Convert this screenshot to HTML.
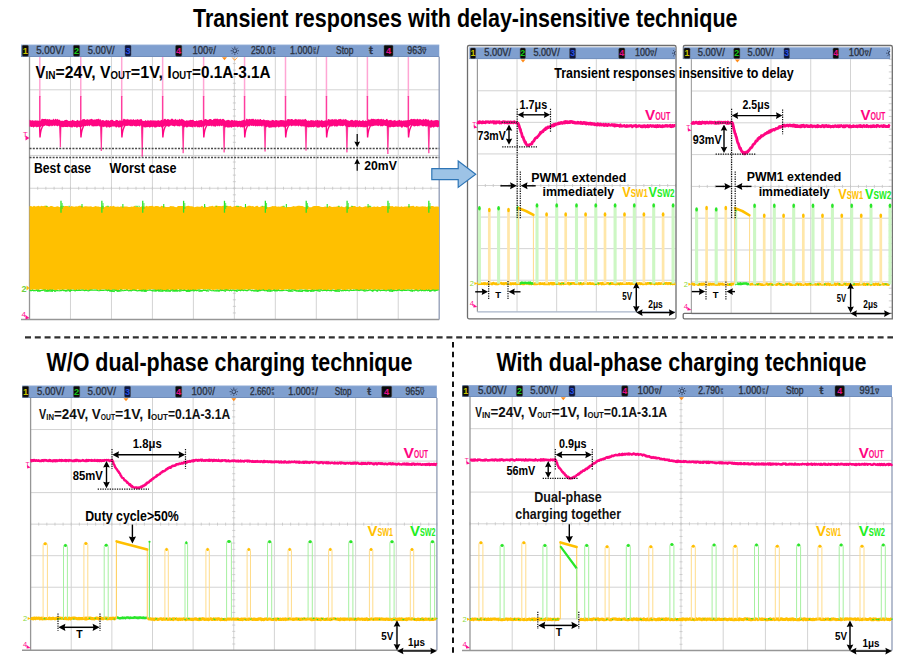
<!DOCTYPE html>
<html><head><meta charset="utf-8"><title>Transient responses</title>
<style>html,body{margin:0;padding:0;background:#fff;}svg{display:block;}</style>
</head><body>
<svg width="917" height="666" viewBox="0 0 917 666" font-family="'Liberation Sans', Arial, sans-serif">
<rect width="917" height="666" fill="#fff"/>
<text x="193" y="26.9" font-size="25.5" font-weight="bold" fill="#000" textLength="544.5" lengthAdjust="spacingAndGlyphs" >Transient responses with delay-insensitive technique</text>
<text x="46.5" y="370.8" font-size="25.5" font-weight="bold" fill="#000" textLength="366" lengthAdjust="spacingAndGlyphs" >W/O dual-phase charging technique</text>
<text x="496.5" y="370.8" font-size="25.5" font-weight="bold" fill="#000" textLength="370" lengthAdjust="spacingAndGlyphs" >With dual-phase charging technique</text>
<line x1="25" y1="337.3" x2="893" y2="337.3" stroke="#303030" stroke-width="2.2" stroke-dasharray="6 3.8"/>
<line x1="453" y1="342" x2="453" y2="653.2" stroke="#111" stroke-width="2" stroke-dasharray="5.5 4.35"/>
<line x1="70.47" y1="57" x2="70.47" y2="319.5" stroke="#d3d3d3" stroke-width="1" />
<line x1="111.44" y1="57" x2="111.44" y2="319.5" stroke="#d3d3d3" stroke-width="1" />
<line x1="152.41" y1="57" x2="152.41" y2="319.5" stroke="#d3d3d3" stroke-width="1" />
<line x1="193.38" y1="57" x2="193.38" y2="319.5" stroke="#d3d3d3" stroke-width="1" />
<line x1="234.35" y1="57" x2="234.35" y2="319.5" stroke="#d3d3d3" stroke-width="1" />
<line x1="275.32" y1="57" x2="275.32" y2="319.5" stroke="#d3d3d3" stroke-width="1" />
<line x1="316.29" y1="57" x2="316.29" y2="319.5" stroke="#d3d3d3" stroke-width="1" />
<line x1="357.26" y1="57" x2="357.26" y2="319.5" stroke="#d3d3d3" stroke-width="1" />
<line x1="398.23" y1="57" x2="398.23" y2="319.5" stroke="#d3d3d3" stroke-width="1" />
<line x1="29.5" y1="89.81" x2="439.2" y2="89.81" stroke="#d3d3d3" stroke-width="1" />
<line x1="29.5" y1="122.62" x2="439.2" y2="122.62" stroke="#d3d3d3" stroke-width="1" />
<line x1="29.5" y1="155.44" x2="439.2" y2="155.44" stroke="#d3d3d3" stroke-width="1" />
<line x1="29.5" y1="188.25" x2="439.2" y2="188.25" stroke="#d3d3d3" stroke-width="1" />
<line x1="29.5" y1="221.06" x2="439.2" y2="221.06" stroke="#d3d3d3" stroke-width="1" />
<line x1="29.5" y1="253.88" x2="439.2" y2="253.88" stroke="#d3d3d3" stroke-width="1" />
<line x1="29.5" y1="286.69" x2="439.2" y2="286.69" stroke="#d3d3d3" stroke-width="1" />
<line x1="232.85" y1="57" x2="235.85" y2="57" stroke="#c4c4c4" stroke-width="0.8" />
<line x1="232.85" y1="63.56" x2="235.85" y2="63.56" stroke="#c4c4c4" stroke-width="0.8" />
<line x1="232.85" y1="70.12" x2="235.85" y2="70.12" stroke="#c4c4c4" stroke-width="0.8" />
<line x1="232.85" y1="76.69" x2="235.85" y2="76.69" stroke="#c4c4c4" stroke-width="0.8" />
<line x1="232.85" y1="83.25" x2="235.85" y2="83.25" stroke="#c4c4c4" stroke-width="0.8" />
<line x1="232.85" y1="89.81" x2="235.85" y2="89.81" stroke="#c4c4c4" stroke-width="0.8" />
<line x1="232.85" y1="96.38" x2="235.85" y2="96.38" stroke="#c4c4c4" stroke-width="0.8" />
<line x1="232.85" y1="102.94" x2="235.85" y2="102.94" stroke="#c4c4c4" stroke-width="0.8" />
<line x1="232.85" y1="109.5" x2="235.85" y2="109.5" stroke="#c4c4c4" stroke-width="0.8" />
<line x1="232.85" y1="116.06" x2="235.85" y2="116.06" stroke="#c4c4c4" stroke-width="0.8" />
<line x1="232.85" y1="122.62" x2="235.85" y2="122.62" stroke="#c4c4c4" stroke-width="0.8" />
<line x1="232.85" y1="129.19" x2="235.85" y2="129.19" stroke="#c4c4c4" stroke-width="0.8" />
<line x1="232.85" y1="135.75" x2="235.85" y2="135.75" stroke="#c4c4c4" stroke-width="0.8" />
<line x1="232.85" y1="142.31" x2="235.85" y2="142.31" stroke="#c4c4c4" stroke-width="0.8" />
<line x1="232.85" y1="148.88" x2="235.85" y2="148.88" stroke="#c4c4c4" stroke-width="0.8" />
<line x1="232.85" y1="155.44" x2="235.85" y2="155.44" stroke="#c4c4c4" stroke-width="0.8" />
<line x1="232.85" y1="162" x2="235.85" y2="162" stroke="#c4c4c4" stroke-width="0.8" />
<line x1="232.85" y1="168.56" x2="235.85" y2="168.56" stroke="#c4c4c4" stroke-width="0.8" />
<line x1="232.85" y1="175.12" x2="235.85" y2="175.12" stroke="#c4c4c4" stroke-width="0.8" />
<line x1="232.85" y1="181.69" x2="235.85" y2="181.69" stroke="#c4c4c4" stroke-width="0.8" />
<line x1="232.85" y1="188.25" x2="235.85" y2="188.25" stroke="#c4c4c4" stroke-width="0.8" />
<line x1="232.85" y1="194.81" x2="235.85" y2="194.81" stroke="#c4c4c4" stroke-width="0.8" />
<line x1="232.85" y1="201.38" x2="235.85" y2="201.38" stroke="#c4c4c4" stroke-width="0.8" />
<line x1="232.85" y1="207.94" x2="235.85" y2="207.94" stroke="#c4c4c4" stroke-width="0.8" />
<line x1="232.85" y1="214.5" x2="235.85" y2="214.5" stroke="#c4c4c4" stroke-width="0.8" />
<line x1="232.85" y1="221.06" x2="235.85" y2="221.06" stroke="#c4c4c4" stroke-width="0.8" />
<line x1="232.85" y1="227.62" x2="235.85" y2="227.62" stroke="#c4c4c4" stroke-width="0.8" />
<line x1="232.85" y1="234.19" x2="235.85" y2="234.19" stroke="#c4c4c4" stroke-width="0.8" />
<line x1="232.85" y1="240.75" x2="235.85" y2="240.75" stroke="#c4c4c4" stroke-width="0.8" />
<line x1="232.85" y1="247.31" x2="235.85" y2="247.31" stroke="#c4c4c4" stroke-width="0.8" />
<line x1="232.85" y1="253.88" x2="235.85" y2="253.88" stroke="#c4c4c4" stroke-width="0.8" />
<line x1="232.85" y1="260.44" x2="235.85" y2="260.44" stroke="#c4c4c4" stroke-width="0.8" />
<line x1="232.85" y1="267" x2="235.85" y2="267" stroke="#c4c4c4" stroke-width="0.8" />
<line x1="232.85" y1="273.56" x2="235.85" y2="273.56" stroke="#c4c4c4" stroke-width="0.8" />
<line x1="232.85" y1="280.12" x2="235.85" y2="280.12" stroke="#c4c4c4" stroke-width="0.8" />
<line x1="232.85" y1="286.69" x2="235.85" y2="286.69" stroke="#c4c4c4" stroke-width="0.8" />
<line x1="232.85" y1="293.25" x2="235.85" y2="293.25" stroke="#c4c4c4" stroke-width="0.8" />
<line x1="232.85" y1="299.81" x2="235.85" y2="299.81" stroke="#c4c4c4" stroke-width="0.8" />
<line x1="232.85" y1="306.38" x2="235.85" y2="306.38" stroke="#c4c4c4" stroke-width="0.8" />
<line x1="232.85" y1="312.94" x2="235.85" y2="312.94" stroke="#c4c4c4" stroke-width="0.8" />
<line x1="29.5" y1="186.75" x2="29.5" y2="189.75" stroke="#c4c4c4" stroke-width="0.8" />
<line x1="37.69" y1="186.75" x2="37.69" y2="189.75" stroke="#c4c4c4" stroke-width="0.8" />
<line x1="45.89" y1="186.75" x2="45.89" y2="189.75" stroke="#c4c4c4" stroke-width="0.8" />
<line x1="54.08" y1="186.75" x2="54.08" y2="189.75" stroke="#c4c4c4" stroke-width="0.8" />
<line x1="62.28" y1="186.75" x2="62.28" y2="189.75" stroke="#c4c4c4" stroke-width="0.8" />
<line x1="70.47" y1="186.75" x2="70.47" y2="189.75" stroke="#c4c4c4" stroke-width="0.8" />
<line x1="78.66" y1="186.75" x2="78.66" y2="189.75" stroke="#c4c4c4" stroke-width="0.8" />
<line x1="86.86" y1="186.75" x2="86.86" y2="189.75" stroke="#c4c4c4" stroke-width="0.8" />
<line x1="95.05" y1="186.75" x2="95.05" y2="189.75" stroke="#c4c4c4" stroke-width="0.8" />
<line x1="103.25" y1="186.75" x2="103.25" y2="189.75" stroke="#c4c4c4" stroke-width="0.8" />
<line x1="111.44" y1="186.75" x2="111.44" y2="189.75" stroke="#c4c4c4" stroke-width="0.8" />
<line x1="119.63" y1="186.75" x2="119.63" y2="189.75" stroke="#c4c4c4" stroke-width="0.8" />
<line x1="127.83" y1="186.75" x2="127.83" y2="189.75" stroke="#c4c4c4" stroke-width="0.8" />
<line x1="136.02" y1="186.75" x2="136.02" y2="189.75" stroke="#c4c4c4" stroke-width="0.8" />
<line x1="144.22" y1="186.75" x2="144.22" y2="189.75" stroke="#c4c4c4" stroke-width="0.8" />
<line x1="152.41" y1="186.75" x2="152.41" y2="189.75" stroke="#c4c4c4" stroke-width="0.8" />
<line x1="160.6" y1="186.75" x2="160.6" y2="189.75" stroke="#c4c4c4" stroke-width="0.8" />
<line x1="168.8" y1="186.75" x2="168.8" y2="189.75" stroke="#c4c4c4" stroke-width="0.8" />
<line x1="176.99" y1="186.75" x2="176.99" y2="189.75" stroke="#c4c4c4" stroke-width="0.8" />
<line x1="185.19" y1="186.75" x2="185.19" y2="189.75" stroke="#c4c4c4" stroke-width="0.8" />
<line x1="193.38" y1="186.75" x2="193.38" y2="189.75" stroke="#c4c4c4" stroke-width="0.8" />
<line x1="201.57" y1="186.75" x2="201.57" y2="189.75" stroke="#c4c4c4" stroke-width="0.8" />
<line x1="209.77" y1="186.75" x2="209.77" y2="189.75" stroke="#c4c4c4" stroke-width="0.8" />
<line x1="217.96" y1="186.75" x2="217.96" y2="189.75" stroke="#c4c4c4" stroke-width="0.8" />
<line x1="226.16" y1="186.75" x2="226.16" y2="189.75" stroke="#c4c4c4" stroke-width="0.8" />
<line x1="234.35" y1="186.75" x2="234.35" y2="189.75" stroke="#c4c4c4" stroke-width="0.8" />
<line x1="242.54" y1="186.75" x2="242.54" y2="189.75" stroke="#c4c4c4" stroke-width="0.8" />
<line x1="250.74" y1="186.75" x2="250.74" y2="189.75" stroke="#c4c4c4" stroke-width="0.8" />
<line x1="258.93" y1="186.75" x2="258.93" y2="189.75" stroke="#c4c4c4" stroke-width="0.8" />
<line x1="267.13" y1="186.75" x2="267.13" y2="189.75" stroke="#c4c4c4" stroke-width="0.8" />
<line x1="275.32" y1="186.75" x2="275.32" y2="189.75" stroke="#c4c4c4" stroke-width="0.8" />
<line x1="283.51" y1="186.75" x2="283.51" y2="189.75" stroke="#c4c4c4" stroke-width="0.8" />
<line x1="291.71" y1="186.75" x2="291.71" y2="189.75" stroke="#c4c4c4" stroke-width="0.8" />
<line x1="299.9" y1="186.75" x2="299.9" y2="189.75" stroke="#c4c4c4" stroke-width="0.8" />
<line x1="308.1" y1="186.75" x2="308.1" y2="189.75" stroke="#c4c4c4" stroke-width="0.8" />
<line x1="316.29" y1="186.75" x2="316.29" y2="189.75" stroke="#c4c4c4" stroke-width="0.8" />
<line x1="324.48" y1="186.75" x2="324.48" y2="189.75" stroke="#c4c4c4" stroke-width="0.8" />
<line x1="332.68" y1="186.75" x2="332.68" y2="189.75" stroke="#c4c4c4" stroke-width="0.8" />
<line x1="340.87" y1="186.75" x2="340.87" y2="189.75" stroke="#c4c4c4" stroke-width="0.8" />
<line x1="349.07" y1="186.75" x2="349.07" y2="189.75" stroke="#c4c4c4" stroke-width="0.8" />
<line x1="357.26" y1="186.75" x2="357.26" y2="189.75" stroke="#c4c4c4" stroke-width="0.8" />
<line x1="365.45" y1="186.75" x2="365.45" y2="189.75" stroke="#c4c4c4" stroke-width="0.8" />
<line x1="373.65" y1="186.75" x2="373.65" y2="189.75" stroke="#c4c4c4" stroke-width="0.8" />
<line x1="381.84" y1="186.75" x2="381.84" y2="189.75" stroke="#c4c4c4" stroke-width="0.8" />
<line x1="390.04" y1="186.75" x2="390.04" y2="189.75" stroke="#c4c4c4" stroke-width="0.8" />
<line x1="398.23" y1="186.75" x2="398.23" y2="189.75" stroke="#c4c4c4" stroke-width="0.8" />
<line x1="406.42" y1="186.75" x2="406.42" y2="189.75" stroke="#c4c4c4" stroke-width="0.8" />
<line x1="414.62" y1="186.75" x2="414.62" y2="189.75" stroke="#c4c4c4" stroke-width="0.8" />
<line x1="422.81" y1="186.75" x2="422.81" y2="189.75" stroke="#c4c4c4" stroke-width="0.8" />
<line x1="431.01" y1="186.75" x2="431.01" y2="189.75" stroke="#c4c4c4" stroke-width="0.8" />
<line x1="29.5" y1="57" x2="29.5" y2="319.5" stroke="#969696" stroke-width="1.3" />
<line x1="21" y1="319.5" x2="439.2" y2="319.5" stroke="#969696" stroke-width="1.5" />
<line x1="439.2" y1="57" x2="439.2" y2="319.5" stroke="#8f9bb5" stroke-width="1.3" />
<clipPath id="hc1"><rect x="21" y="44.5" width="418.5" height="12.5"/></clipPath>
<g clip-path="url(#hc1)">
<rect x="21" y="44.5" width="418.5" height="12.5" fill="#7f9fcf" />
<line x1="21" y1="44.9" x2="439.5" y2="44.9" stroke="#9db4da" stroke-width="0.8" />
<line x1="21" y1="56.6" x2="439.5" y2="56.6" stroke="#6a86b3" stroke-width="0.8" />
<rect x="22.2" y="45.3" width="6.2" height="10.9" fill="#0a0a0a" rx="1.2" stroke="#505050" stroke-width="0.5"/>
<text x="25.3" y="54" font-size="9.25" font-weight="bold" fill="#c8c400" text-anchor="middle" >1</text>
<text x="36.2" y="53.62" font-size="10.75" font-weight="normal" fill="#2b3342" textLength="28.2" lengthAdjust="spacingAndGlyphs" stroke="#2b3342" stroke-width="0.35">5.00V/</text>
<rect x="73.4" y="45.3" width="6.2" height="10.9" fill="#0a0a0a" rx="1.2" stroke="#505050" stroke-width="0.5"/>
<text x="76.5" y="54" font-size="9.25" font-weight="bold" fill="#18c818" text-anchor="middle" >2</text>
<text x="87.8" y="53.62" font-size="10.75" font-weight="normal" fill="#2b3342" textLength="26.9" lengthAdjust="spacingAndGlyphs" stroke="#2b3342" stroke-width="0.35">5.00V/</text>
<rect x="125" y="45.3" width="6" height="10.9" fill="#0a1540" rx="1.2" stroke="#505050" stroke-width="0.5"/>
<text x="128" y="54" font-size="9.25" font-weight="bold" fill="#2850e0" text-anchor="middle" >3</text>
<rect x="175.6" y="45.3" width="6.2" height="10.9" fill="#0a0a0a" rx="1.2" stroke="#505050" stroke-width="0.5"/>
<text x="178.7" y="54" font-size="9.25" font-weight="bold" fill="#e0108a" text-anchor="middle" >4</text>
<text x="192.4" y="53.62" font-size="10.75" font-weight="normal" fill="#2b3342" textLength="15.96" lengthAdjust="spacingAndGlyphs" stroke="#2b3342" stroke-width="0.35">100</text>
<text x="210.75" y="49.54" font-size="4.51" font-weight="bold" fill="#2b3342" text-anchor="middle" >m</text>
<text x="210.75" y="53.62" font-size="6.67" font-weight="bold" fill="#2b3342" text-anchor="middle" >V</text>
<text x="213.14" y="53.62" font-size="10.75" font-weight="normal" fill="#2b3342" textLength="2.66" lengthAdjust="spacingAndGlyphs" stroke="#2b3342" stroke-width="0.35">/</text>
<circle cx="234.8" cy="50.75" r="1.89" fill="none" stroke="#2a3550" stroke-width="0.9"/>
<line x1="237.53" y1="50.75" x2="239" y2="50.75" stroke="#2a3550" stroke-width="0.8" />
<line x1="236.73" y1="52.68" x2="237.77" y2="53.72" stroke="#2a3550" stroke-width="0.8" />
<line x1="234.8" y1="53.48" x2="234.8" y2="54.95" stroke="#2a3550" stroke-width="0.8" />
<line x1="232.87" y1="52.68" x2="231.83" y2="53.72" stroke="#2a3550" stroke-width="0.8" />
<line x1="232.07" y1="50.75" x2="230.6" y2="50.75" stroke="#2a3550" stroke-width="0.8" />
<line x1="232.87" y1="48.82" x2="231.83" y2="47.78" stroke="#2a3550" stroke-width="0.8" />
<line x1="234.8" y1="48.02" x2="234.8" y2="46.55" stroke="#2a3550" stroke-width="0.8" />
<line x1="236.73" y1="48.82" x2="237.77" y2="47.78" stroke="#2a3550" stroke-width="0.8" />
<text x="251" y="53.62" font-size="10.75" font-weight="normal" fill="#2b3342" textLength="21" lengthAdjust="spacingAndGlyphs" stroke="#2b3342" stroke-width="0.35">250.0</text>
<text x="274.1" y="49.54" font-size="4.51" font-weight="bold" fill="#2b3342" text-anchor="middle" >μ</text>
<text x="274.1" y="53.62" font-size="5.38" font-weight="bold" fill="#2b3342" text-anchor="middle" >s</text>
<text x="290" y="53.62" font-size="10.75" font-weight="normal" fill="#2b3342" textLength="22.35" lengthAdjust="spacingAndGlyphs" stroke="#2b3342" stroke-width="0.35">1.000</text>
<text x="314.59" y="49.54" font-size="4.51" font-weight="bold" fill="#2b3342" text-anchor="middle" >μ</text>
<text x="314.59" y="53.62" font-size="5.38" font-weight="bold" fill="#2b3342" text-anchor="middle" >s</text>
<text x="316.82" y="53.62" font-size="10.75" font-weight="normal" fill="#2b3342" textLength="2.48" lengthAdjust="spacingAndGlyphs" stroke="#2b3342" stroke-width="0.35">/</text>
<text x="336" y="53.62" font-size="10.75" font-weight="normal" fill="#2b3342" textLength="17.4" lengthAdjust="spacingAndGlyphs" stroke="#2b3342" stroke-width="0.35">Stop</text>
<text x="369" y="53.62" font-size="10.75" font-weight="normal" fill="#2b3342" textLength="3.8" lengthAdjust="spacingAndGlyphs" stroke="#2b3342" stroke-width="0.35">ŧ</text>
<rect x="384" y="45.3" width="9" height="10.9" fill="#0a0a0a" rx="1.2" stroke="#505050" stroke-width="0.5"/>
<text x="388.5" y="54" font-size="9.25" font-weight="bold" fill="#e0108a" text-anchor="middle" >4</text>
<text x="407.3" y="53.62" font-size="10.75" font-weight="normal" fill="#2b3342" textLength="14.77" lengthAdjust="spacingAndGlyphs" stroke="#2b3342" stroke-width="0.35">963</text>
<text x="424.29" y="49.54" font-size="4.51" font-weight="bold" fill="#2b3342" text-anchor="middle" >m</text>
<text x="424.29" y="53.62" font-size="6.67" font-weight="bold" fill="#2b3342" text-anchor="middle" >V</text>
</g>
<path d="M222,57.3 L227,57.3 L224.5,60.3 Z" fill="#ff8c1a"/>
<path d="M232.2,57.5 L234.7,60.3 L237.2,57.5" fill="none" stroke="#ff8c1a" stroke-width="0.9"/>
<path d="M29.5,206.19 L31,205.93 L32.5,206.68 L34,205.81 L35.5,206.5 L37,206.25 L38.5,205.79 L40,206.46 L41.5,205.76 L43,206.35 L44.5,205.8 L46,205.84 L47.5,206.34 L49,206.94 L50.5,205.89 L52,206.03 L53.5,206.64 L55,207.12 L56.5,206.57 L58,206.3 L59.5,207.16 L61,205.77 L62.5,206.99 L64,206.13 L65.5,205.92 L67,205.88 L68.5,206.16 L70,206.92 L71.5,205.97 L73,206.57 L74.5,206.66 L76,206.26 L77.5,206.52 L79,205.79 L80.5,205.79 L82,206.01 L83.5,206.72 L85,206.34 L86.5,206.17 L88,206.58 L89.5,206.38 L91,206.15 L92.5,206.89 L94,206.75 L95.5,206.07 L97,206.56 L98.5,206.49 L100,207.01 L101.5,206.79 L103,206.13 L104.5,207.17 L106,205.88 L107.5,206.33 L109,206.84 L110.5,205.93 L112,206.43 L113.5,205.76 L115,206.7 L116.5,206.85 L118,206.56 L119.5,207.01 L121,206.17 L122.5,206.74 L124,206.59 L125.5,206.57 L127,206.38 L128.5,206.96 L130,207.12 L131.5,206.41 L133,206.7 L134.5,205.79 L136,206.75 L137.5,206.67 L139,207.19 L140.5,206.93 L142,206.13 L143.5,206.28 L145,206.7 L146.5,205.73 L148,206.39 L149.5,205.95 L151,205.88 L152.5,205.79 L154,206.85 L155.5,205.89 L157,206.07 L158.5,206.29 L160,207.01 L161.5,205.82 L163,206.37 L164.5,206.52 L166,207.03 L167.5,206.93 L169,207 L170.5,206.12 L172,206.32 L173.5,206.24 L175,207.03 L176.5,207.14 L178,205.93 L179.5,205.96 L181,206.05 L182.5,206.05 L184,206.43 L185.5,206.58 L187,206.09 L188.5,205.71 L190,206.33 L191.5,206.25 L193,206.55 L194.5,207.13 L196,206.74 L197.5,206.47 L199,206.63 L200.5,206.71 L202,205.78 L203.5,207.05 L205,206.87 L206.5,207.01 L208,206.9 L209.5,206.29 L211,206.3 L212.5,205.86 L214,206.65 L215.5,205.79 L217,205.8 L218.5,206.01 L220,205.94 L221.5,206.21 L223,205.78 L224.5,205.7 L226,205.93 L227.5,205.85 L229,206.25 L230.5,205.74 L232,207.01 L233.5,206.62 L235,205.92 L236.5,206.08 L238,206.22 L239.5,206.25 L241,205.88 L242.5,206.97 L244,207.19 L245.5,206.4 L247,206.43 L248.5,205.83 L250,205.85 L251.5,206.21 L253,206.1 L254.5,206.94 L256,205.94 L257.5,205.73 L259,207.13 L260.5,206.49 L262,205.92 L263.5,206.51 L265,205.74 L266.5,206.49 L268,207.17 L269.5,206.99 L271,206.74 L272.5,206.09 L274,206.25 L275.5,205.95 L277,206.86 L278.5,206.5 L280,206.87 L281.5,206.19 L283,206.03 L284.5,206.92 L286,207.18 L287.5,206.98 L289,206.91 L290.5,206.93 L292,206.81 L293.5,206.04 L295,206.48 L296.5,206.23 L298,205.74 L299.5,205.74 L301,206.12 L302.5,206.09 L304,206.74 L305.5,207.13 L307,206.37 L308.5,207.11 L310,207.18 L311.5,207.13 L313,206.25 L314.5,206.03 L316,206.04 L317.5,206 L319,206.01 L320.5,206.64 L322,207.05 L323.5,206.96 L325,206.42 L326.5,206.68 L328,206.9 L329.5,205.83 L331,206.69 L332.5,207.06 L334,206.87 L335.5,206.83 L337,206.42 L338.5,205.97 L340,206.88 L341.5,206.2 L343,206.9 L344.5,207.16 L346,206.29 L347.5,206.3 L349,207.12 L350.5,206.79 L352,205.96 L353.5,205.89 L355,205.93 L356.5,207.06 L358,206.91 L359.5,205.92 L361,206.94 L362.5,207.17 L364,206.69 L365.5,206.23 L367,206.52 L368.5,205.9 L370,205.72 L371.5,207.16 L373,206.67 L374.5,206.49 L376,207.1 L377.5,206.35 L379,207.01 L380.5,206.94 L382,206.02 L383.5,206.08 L385,206.14 L386.5,206.06 L388,206.58 L389.5,206.09 L391,206.33 L392.5,205.9 L394,207.07 L395.5,206.23 L397,206.39 L398.5,206.58 L400,207.06 L401.5,206.33 L403,207.08 L404.5,206.45 L406,206.5 L407.5,206.49 L409,205.73 L410.5,206.36 L412,205.97 L413.5,205.71 L415,206.9 L416.5,205.96 L418,206.41 L419.5,206.79 L421,206.53 L422.5,206.19 L424,206.48 L425.5,206.53 L427,206.88 L428.5,205.86 L430,206.54 L431.5,206.07 L433,206.12 L434.5,206.86 L436,206.46 L437.5,206.54 L439,206.84 L439.2,290.39 L437.7,289.83 L436.2,290.04 L434.7,289.91 L433.2,289.91 L431.7,290.13 L430.2,289.84 L428.7,289.94 L427.2,289.87 L425.7,290.43 L424.2,290.14 L422.7,290.35 L421.2,290.43 L419.7,289.61 L418.2,289.97 L416.7,290.43 L415.2,290.31 L413.7,289.46 L412.2,289.45 L410.7,289.83 L409.2,289.39 L407.7,289.59 L406.2,289.39 L404.7,290.1 L403.2,290.24 L401.7,290.38 L400.2,289.49 L398.7,290.16 L397.2,290.09 L395.7,289.47 L394.2,290.36 L392.7,290.46 L391.2,289.56 L389.7,290.44 L388.2,289.78 L386.7,289.88 L385.2,290.49 L383.7,290.3 L382.2,289.49 L380.7,289.82 L379.2,289.92 L377.7,289.71 L376.2,289.53 L374.7,289.68 L373.2,290.17 L371.7,289.32 L370.2,289.96 L368.7,289.83 L367.2,289.32 L365.7,289.7 L364.2,290.05 L362.7,289.91 L361.2,289.38 L359.7,290.48 L358.2,290.25 L356.7,290.47 L355.2,289.43 L353.7,289.62 L352.2,289.35 L350.7,290.23 L349.2,289.62 L347.7,289.46 L346.2,289.81 L344.7,290.39 L343.2,290.28 L341.7,289.61 L340.2,289.48 L338.7,290.4 L337.2,289.98 L335.7,290.14 L334.2,289.41 L332.7,289.37 L331.2,290.13 L329.7,289.81 L328.2,289.39 L326.7,290.43 L325.2,290.06 L323.7,290.26 L322.2,289.4 L320.7,290.33 L319.2,289.38 L317.7,290.34 L316.2,289.84 L314.7,289.71 L313.2,289.96 L311.7,290.41 L310.2,289.62 L308.7,289.46 L307.2,289.93 L305.7,289.59 L304.2,289.43 L302.7,289.49 L301.2,289.36 L299.7,289.54 L298.2,289.67 L296.7,289.67 L295.2,290.21 L293.7,289.65 L292.2,289.9 L290.7,289.51 L289.2,289.72 L287.7,289.32 L286.2,289.6 L284.7,289.32 L283.2,290.18 L281.7,289.96 L280.2,289.53 L278.7,289.87 L277.2,290.42 L275.7,289.43 L274.2,290.28 L272.7,289.82 L271.2,289.89 L269.7,290.3 L268.2,289.77 L266.7,289.91 L265.2,290.13 L263.7,290.48 L262.2,289.71 L260.7,290.3 L259.2,290.15 L257.7,290.06 L256.2,289.79 L254.7,289.72 L253.2,289.37 L251.7,289.46 L250.2,289.38 L248.7,290.19 L247.2,289.61 L245.7,289.5 L244.2,289.4 L242.7,290.31 L241.2,290.34 L239.7,290.1 L238.2,289.64 L236.7,289.59 L235.2,289.65 L233.7,289.85 L232.2,289.49 L230.7,289.83 L229.2,289.62 L227.7,290.45 L226.2,290.47 L224.7,289.96 L223.2,289.59 L221.7,290.46 L220.2,289.67 L218.7,289.73 L217.2,289.3 L215.7,289.76 L214.2,289.87 L212.7,289.9 L211.2,289.54 L209.7,289.91 L208.2,289.31 L206.7,289.62 L205.2,289.41 L203.7,289.78 L202.2,289.35 L200.7,289.33 L199.2,289.67 L197.7,289.58 L196.2,290 L194.7,289.94 L193.2,290.2 L191.7,290.09 L190.2,290.16 L188.7,290.35 L187.2,289.77 L185.7,289.69 L184.2,290.48 L182.7,289.48 L181.2,290.17 L179.7,290.07 L178.2,289.35 L176.7,290.3 L175.2,290.37 L173.7,290.05 L172.2,290.18 L170.7,290.27 L169.2,289.47 L167.7,289.93 L166.2,289.91 L164.7,290.3 L163.2,290.27 L161.7,290.29 L160.2,290 L158.7,290.37 L157.2,290.12 L155.7,290.13 L154.2,289.58 L152.7,289.34 L151.2,289.46 L149.7,289.73 L148.2,289.43 L146.7,290.3 L145.2,289.97 L143.7,290.05 L142.2,290.05 L140.7,290.12 L139.2,289.89 L137.7,289.3 L136.2,290.26 L134.7,290.2 L133.2,289.9 L131.7,289.94 L130.2,290.09 L128.7,289.38 L127.2,290.18 L125.7,289.6 L124.2,289.39 L122.7,289.62 L121.2,290.18 L119.7,289.55 L118.2,290.19 L116.7,290.47 L115.2,289.89 L113.7,289.76 L112.2,289.87 L110.7,290.12 L109.2,290.22 L107.7,290.04 L106.2,290.07 L104.7,289.39 L103.2,289.48 L101.7,289.6 L100.2,290.19 L98.7,289.67 L97.2,289.98 L95.7,289.31 L94.2,289.37 L92.7,289.62 L91.2,290.11 L89.7,290.13 L88.2,290.11 L86.7,289.65 L85.2,289.92 L83.7,289.86 L82.2,289.86 L80.7,289.44 L79.2,290.37 L77.7,289.54 L76.2,290.47 L74.7,290.42 L73.2,289.32 L71.7,289.85 L70.2,290.28 L68.7,290.46 L67.2,289.84 L65.7,289.62 L64.2,289.55 L62.7,290.43 L61.2,289.55 L59.7,290 L58.2,289.47 L56.7,289.93 L55.2,290.44 L53.7,289.46 L52.2,290.28 L50.7,289.91 L49.2,290.36 L47.7,290.14 L46.2,289.58 L44.7,290.38 L43.2,289.88 L41.7,289.33 L40.2,289.3 L38.7,289.89 L37.2,289.84 L35.7,289.66 L34.2,289.47 L32.7,289.71 L31.2,289.68 L29.7,290.31 Z" fill="#ffc000"/>
<path d="M29.5,289.95 L30.5,290.63 L31.5,290.71 L32.5,290.06 L33.5,290.78 L34.5,290.59 L35.5,290.76 L36.5,290.21 L37.5,290.28 L38.5,290.3 L39.5,290.85 L40.5,290.48 L41.5,290.27 L42.5,290.34 L43.5,290.2 L44.5,289.99 L45.5,290.04 L46.5,290.7 L47.5,290.21 L48.5,290.79 L49.5,290.17 L50.5,290.19 L51.5,290.41 L52.5,290.12 L53.5,290.29 L54.5,290.81 L55.5,290.75 L56.5,290.68 L57.5,290.52 L58.5,290.77 L59.5,290.8 L60.5,290.44 L61.5,290.6 L62.5,289.99 L63.5,290.61 L64.5,290.36 L65.5,290.63 L66.5,290.53 L67.5,290.21 L68.5,289.99 L69.5,290.78 L70.5,290.06 L71.5,290.37 L72.5,290.26 L73.5,290.22 L74.5,290.62 L75.5,290.83 L76.5,290.18 L77.5,290.54 L78.5,290.22 L79.5,290.45 L80.5,290.3 L81.5,290.1 L82.5,290.1 L83.5,290.14 L84.5,290.77 L85.5,290.4 L86.5,290.15 L87.5,290.77 L88.5,290.85 L89.5,290.35 L90.5,290.08 L91.5,290.12 L92.5,290.03 L93.5,290.26 L94.5,290.03 L95.5,290.17 L96.5,290.18 L97.5,290.46 L98.5,290.75 L99.5,290.62 L100.5,290.32 L101.5,290.32 L102.5,290.42 L103.5,290.29 L104.5,290.25 L105.5,290.01 L106.5,290.2 L107.5,290.82 L108.5,290.06 L109.5,290.4 L110.5,290.52 L111.5,290.73 L112.5,290.14 L113.5,290.19 L114.5,290.17 L115.5,290.31 L116.5,290.35 L117.5,290.81 L118.5,290.71 L119.5,290.74 L120.5,289.97 L121.5,289.98 L122.5,290.59 L123.5,290.76 L124.5,290.38 L125.5,290.48 L126.5,289.95 L127.5,290.3 L128.5,290.78 L129.5,290.69 L130.5,290.72 L131.5,290.83 L132.5,290.17 L133.5,290.05 L134.5,290.09 L135.5,290.42 L136.5,290.56 L137.5,290.8 L138.5,290.6 L139.5,290.53 L140.5,290.64 L141.5,290.36 L142.5,290.45 L143.5,289.99 L144.5,290.65 L145.5,290.16 L146.5,290.78 L147.5,290.53 L148.5,290.22 L149.5,290.07 L150.5,290.18 L151.5,290.52 L152.5,290.58 L153.5,290.05 L154.5,290.01 L155.5,290.42 L156.5,290.47 L157.5,290.3 L158.5,290.15 L159.5,290.49 L160.5,289.96 L161.5,290.22 L162.5,290.36 L163.5,290.81 L164.5,290.53 L165.5,290.75 L166.5,290.38 L167.5,290.16 L168.5,290.17 L169.5,290.81 L170.5,290.58 L171.5,290.23 L172.5,289.97 L173.5,290.4 L174.5,290.56 L175.5,290.33 L176.5,290.18 L177.5,290.55 L178.5,290.78 L179.5,290.15 L180.5,289.98 L181.5,290.25 L182.5,290.33 L183.5,290.56 L184.5,290.13 L185.5,290.67 L186.5,290.62 L187.5,290.4 L188.5,290.13 L189.5,290.82 L190.5,290.23 L191.5,290.69 L192.5,290.16 L193.5,290.15 L194.5,290.63 L195.5,290.22 L196.5,290.81 L197.5,290.4 L198.5,290.12 L199.5,290.15 L200.5,290.33 L201.5,290.55 L202.5,290.8 L203.5,290.08 L204.5,290.3 L205.5,290.14 L206.5,290.83 L207.5,290.08 L208.5,290 L209.5,290 L210.5,290.3 L211.5,290.76 L212.5,290.75 L213.5,290.61 L214.5,290.85 L215.5,290.79 L216.5,290.25 L217.5,290.12 L218.5,290.79 L219.5,290.62 L220.5,289.98 L221.5,290.55 L222.5,290.29 L223.5,290.29 L224.5,290.25 L225.5,290.1 L226.5,289.95 L227.5,290.2 L228.5,290.27 L229.5,290.81 L230.5,290.06 L231.5,290.82 L232.5,290.14 L233.5,290.27 L234.5,290.69 L235.5,290.69 L236.5,290.34 L237.5,289.99 L238.5,290.38 L239.5,290.29 L240.5,290.78 L241.5,290.12 L242.5,290.28 L243.5,290.76 L244.5,289.98 L245.5,290.32 L246.5,290.68 L247.5,290.64 L248.5,289.99 L249.5,289.98 L250.5,290.01 L251.5,290.78 L252.5,290.18 L253.5,290.62 L254.5,290.76 L255.5,290.26 L256.5,290.2 L257.5,290.81 L258.5,290.51 L259.5,290.19 L260.5,290.59 L261.5,290.23 L262.5,290.2 L263.5,289.95 L264.5,290.63 L265.5,290.77 L266.5,290.52 L267.5,290.8 L268.5,289.97 L269.5,290.16 L270.5,290.38 L271.5,290.81 L272.5,290.81 L273.5,290.3 L274.5,290.18 L275.5,290.34 L276.5,290.39 L277.5,290.79 L278.5,290.11 L279.5,290.67 L280.5,290.61 L281.5,290.69 L282.5,290.65 L283.5,290.5 L284.5,290.25 L285.5,290.24 L286.5,290.28 L287.5,290.65 L288.5,290.02 L289.5,290.13 L290.5,290.63 L291.5,290.17 L292.5,290.01 L293.5,289.98 L294.5,290.45 L295.5,290.24 L296.5,290.83 L297.5,290.75 L298.5,290.84 L299.5,290.19 L300.5,290.03 L301.5,290.04 L302.5,290.4 L303.5,290.59 L304.5,290.35 L305.5,290.16 L306.5,290.33 L307.5,290.51 L308.5,290.56 L309.5,290.62 L310.5,290.71 L311.5,290.55 L312.5,290.06 L313.5,290.71 L314.5,290.21 L315.5,290.46 L316.5,290.29 L317.5,290.61 L318.5,290.13 L319.5,290.17 L320.5,290.17 L321.5,290.09 L322.5,290.75 L323.5,290.47 L324.5,290.24 L325.5,290.31 L326.5,290.84 L327.5,290.41 L328.5,290.16 L329.5,290.68 L330.5,290.54 L331.5,290.84 L332.5,290.04 L333.5,290.38 L334.5,290.69 L335.5,290.71 L336.5,290.77 L337.5,289.99 L338.5,290.21 L339.5,290.06 L340.5,290.12 L341.5,290.83 L342.5,290.47 L343.5,290.79 L344.5,290.29 L345.5,290.73 L346.5,290.35 L347.5,290.18 L348.5,290.65 L349.5,290.8 L350.5,290.05 L351.5,290.49 L352.5,290.51 L353.5,290.15 L354.5,290.28 L355.5,290.08 L356.5,290.13 L357.5,290.18 L358.5,290.49 L359.5,290.54 L360.5,290.13 L361.5,289.96 L362.5,290.24 L363.5,290.56 L364.5,290.12 L365.5,290.23 L366.5,290.13 L367.5,290.67 L368.5,290.44 L369.5,290.01 L370.5,290.04 L371.5,290.31 L372.5,290.45 L373.5,290.53 L374.5,290.03 L375.5,290.1 L376.5,290.58 L377.5,290.32 L378.5,290.2 L379.5,290.23 L380.5,290.81 L381.5,290.23 L382.5,290.46 L383.5,290.27 L384.5,290.32 L385.5,290.73 L386.5,290.85 L387.5,290.28 L388.5,290.13 L389.5,290.61 L390.5,290.13 L391.5,289.96 L392.5,290.76 L393.5,290.33 L394.5,290.69 L395.5,290.32 L396.5,290.74 L397.5,290.36 L398.5,290.1 L399.5,289.96 L400.5,290.45 L401.5,290.53 L402.5,290.77 L403.5,290.03 L404.5,290.51 L405.5,290.28 L406.5,290.4 L407.5,290.08 L408.5,290.2 L409.5,290.42 L410.5,290.78 L411.5,290.05 L412.5,290.39 L413.5,290.67 L414.5,290.82 L415.5,290.13 L416.5,290.06 L417.5,290.8 L418.5,290.83 L419.5,290.38 L420.5,290 L421.5,290.78 L422.5,290.3 L423.5,290.76 L424.5,290.51 L425.5,290.69 L426.5,290.09 L427.5,290.66 L428.5,290.15 L429.5,290.31 L430.5,290.71 L431.5,290.7 L432.5,290.11 L433.5,290.15 L434.5,290.31 L435.5,290.42 L436.5,290.3 L437.5,290.06 L438.5,290.17" fill="none" stroke="#29e629" stroke-width="1.2" stroke-linejoin="round" />
<line x1="36.99" y1="291.31" x2="41.24" y2="290.93" stroke="#29e629" stroke-width="1" />
<line x1="44.18" y1="291.14" x2="48.58" y2="291.4" stroke="#29e629" stroke-width="1" />
<line x1="48.71" y1="291.04" x2="53.04" y2="291.43" stroke="#29e629" stroke-width="1" />
<line x1="53.94" y1="291.2" x2="56.04" y2="291.29" stroke="#29e629" stroke-width="1" />
<line x1="65.02" y1="291.08" x2="67.74" y2="290.99" stroke="#29e629" stroke-width="1" />
<line x1="68.66" y1="291.05" x2="71.03" y2="291.31" stroke="#29e629" stroke-width="1" />
<line x1="109.06" y1="291.09" x2="114.99" y2="291.67" stroke="#29e629" stroke-width="1" />
<line x1="116.64" y1="291.44" x2="121.8" y2="290.95" stroke="#29e629" stroke-width="1" />
<line x1="140.88" y1="291.1" x2="143.93" y2="291.16" stroke="#29e629" stroke-width="1" />
<line x1="144.07" y1="291.45" x2="146.71" y2="291.44" stroke="#29e629" stroke-width="1" />
<line x1="151.54" y1="290.79" x2="156.68" y2="291.32" stroke="#29e629" stroke-width="1" />
<line x1="157.72" y1="291.14" x2="163.22" y2="291.36" stroke="#29e629" stroke-width="1" />
<line x1="165.14" y1="291.2" x2="171.11" y2="291.22" stroke="#29e629" stroke-width="1" />
<line x1="172.13" y1="291.16" x2="178.09" y2="291.19" stroke="#29e629" stroke-width="1" />
<line x1="178.95" y1="291.29" x2="181.66" y2="290.94" stroke="#29e629" stroke-width="1" />
<line x1="186.05" y1="291.49" x2="190.61" y2="291.37" stroke="#29e629" stroke-width="1" />
<line x1="192.37" y1="290.73" x2="194.37" y2="291.02" stroke="#29e629" stroke-width="1" />
<line x1="198.45" y1="291.42" x2="202.5" y2="291.01" stroke="#29e629" stroke-width="1" />
<line x1="205.69" y1="290.79" x2="209.11" y2="291.19" stroke="#29e629" stroke-width="1" />
<line x1="215.76" y1="291.08" x2="220.26" y2="291.01" stroke="#29e629" stroke-width="1" />
<line x1="223.44" y1="290.78" x2="226.04" y2="291.41" stroke="#29e629" stroke-width="1" />
<line x1="235.81" y1="291.22" x2="237.86" y2="291.35" stroke="#29e629" stroke-width="1" />
<line x1="252.45" y1="290.74" x2="258.06" y2="291.33" stroke="#29e629" stroke-width="1" />
<line x1="257.48" y1="291.32" x2="259.71" y2="290.91" stroke="#29e629" stroke-width="1" />
<line x1="266.94" y1="291.11" x2="271.38" y2="291.41" stroke="#29e629" stroke-width="1" />
<line x1="274.01" y1="290.94" x2="277.25" y2="290.94" stroke="#29e629" stroke-width="1" />
<line x1="288.04" y1="291.3" x2="293.41" y2="291.27" stroke="#29e629" stroke-width="1" />
<line x1="294.74" y1="290.78" x2="297.65" y2="291.09" stroke="#29e629" stroke-width="1" />
<line x1="297.94" y1="291.26" x2="302.94" y2="291.58" stroke="#29e629" stroke-width="1" />
<line x1="304.5" y1="291.05" x2="308.71" y2="291.53" stroke="#29e629" stroke-width="1" />
<line x1="310.11" y1="291.47" x2="314.68" y2="291.07" stroke="#29e629" stroke-width="1" />
<line x1="317.51" y1="290.89" x2="320.55" y2="291.5" stroke="#29e629" stroke-width="1" />
<line x1="334.51" y1="291.2" x2="340.14" y2="291.45" stroke="#29e629" stroke-width="1" />
<line x1="363.71" y1="291.2" x2="366.56" y2="290.96" stroke="#29e629" stroke-width="1" />
<line x1="371.27" y1="290.79" x2="373.37" y2="291.64" stroke="#29e629" stroke-width="1" />
<line x1="375.99" y1="290.73" x2="378.11" y2="291.45" stroke="#29e629" stroke-width="1" />
<line x1="388.84" y1="290.99" x2="393.21" y2="291.55" stroke="#29e629" stroke-width="1" />
<line x1="410.38" y1="290.73" x2="412.83" y2="291.58" stroke="#29e629" stroke-width="1" />
<line x1="429" y1="291.31" x2="431.39" y2="291.06" stroke="#29e629" stroke-width="1" />
<line x1="433.6" y1="290.91" x2="435.68" y2="291.13" stroke="#29e629" stroke-width="1" />
<line x1="61" y1="200.8" x2="61" y2="212.7" stroke="#29e629" stroke-width="1.3" />
<line x1="62.2" y1="203" x2="62.2" y2="209" stroke="#29e629" stroke-width="0.8" />
<line x1="82" y1="204" x2="82" y2="207.5" stroke="#29e629" stroke-width="1.1" />
<line x1="101.87" y1="200.8" x2="101.87" y2="212.7" stroke="#29e629" stroke-width="1.3" />
<line x1="103.07" y1="203" x2="103.07" y2="209" stroke="#29e629" stroke-width="0.8" />
<line x1="122.87" y1="204" x2="122.87" y2="207.5" stroke="#29e629" stroke-width="1.1" />
<line x1="142.74" y1="200.8" x2="142.74" y2="212.7" stroke="#29e629" stroke-width="1.3" />
<line x1="143.94" y1="203" x2="143.94" y2="209" stroke="#29e629" stroke-width="0.8" />
<line x1="163.74" y1="204" x2="163.74" y2="207.5" stroke="#29e629" stroke-width="1.1" />
<line x1="183.61" y1="200.8" x2="183.61" y2="212.7" stroke="#29e629" stroke-width="1.3" />
<line x1="184.81" y1="203" x2="184.81" y2="209" stroke="#29e629" stroke-width="0.8" />
<line x1="204.61" y1="204" x2="204.61" y2="207.5" stroke="#29e629" stroke-width="1.1" />
<line x1="224.48" y1="200.8" x2="224.48" y2="212.7" stroke="#29e629" stroke-width="1.3" />
<line x1="225.68" y1="203" x2="225.68" y2="209" stroke="#29e629" stroke-width="0.8" />
<line x1="245.48" y1="204" x2="245.48" y2="207.5" stroke="#29e629" stroke-width="1.1" />
<line x1="265.35" y1="200.8" x2="265.35" y2="212.7" stroke="#29e629" stroke-width="1.3" />
<line x1="266.55" y1="203" x2="266.55" y2="209" stroke="#29e629" stroke-width="0.8" />
<line x1="286.35" y1="204" x2="286.35" y2="207.5" stroke="#29e629" stroke-width="1.1" />
<line x1="306.22" y1="200.8" x2="306.22" y2="212.7" stroke="#29e629" stroke-width="1.3" />
<line x1="307.42" y1="203" x2="307.42" y2="209" stroke="#29e629" stroke-width="0.8" />
<line x1="327.22" y1="204" x2="327.22" y2="207.5" stroke="#29e629" stroke-width="1.1" />
<line x1="347.09" y1="200.8" x2="347.09" y2="212.7" stroke="#29e629" stroke-width="1.3" />
<line x1="348.29" y1="203" x2="348.29" y2="209" stroke="#29e629" stroke-width="0.8" />
<line x1="368.09" y1="204" x2="368.09" y2="207.5" stroke="#29e629" stroke-width="1.1" />
<line x1="387.96" y1="200.8" x2="387.96" y2="212.7" stroke="#29e629" stroke-width="1.3" />
<line x1="389.16" y1="203" x2="389.16" y2="209" stroke="#29e629" stroke-width="0.8" />
<line x1="408.96" y1="204" x2="408.96" y2="207.5" stroke="#29e629" stroke-width="1.1" />
<line x1="428.83" y1="200.8" x2="428.83" y2="212.7" stroke="#29e629" stroke-width="1.3" />
<line x1="430.03" y1="203" x2="430.03" y2="209" stroke="#29e629" stroke-width="0.8" />
<line x1="45.71" y1="206.2" x2="47.54" y2="206.4" stroke="#29e629" stroke-width="0.8" />
<line x1="61.32" y1="206.2" x2="64.04" y2="206.4" stroke="#29e629" stroke-width="0.8" />
<line x1="68.63" y1="206.2" x2="70.03" y2="206.4" stroke="#29e629" stroke-width="0.8" />
<line x1="101.3" y1="206.2" x2="103.7" y2="206.4" stroke="#29e629" stroke-width="0.8" />
<line x1="106.79" y1="206.2" x2="109.06" y2="206.4" stroke="#29e629" stroke-width="0.8" />
<line x1="135.28" y1="206.2" x2="138.05" y2="206.4" stroke="#29e629" stroke-width="0.8" />
<line x1="138.4" y1="206.2" x2="139.93" y2="206.4" stroke="#29e629" stroke-width="0.8" />
<line x1="204" y1="206.2" x2="205.38" y2="206.4" stroke="#29e629" stroke-width="0.8" />
<line x1="215.72" y1="206.2" x2="217.03" y2="206.4" stroke="#29e629" stroke-width="0.8" />
<line x1="225.57" y1="206.2" x2="227.23" y2="206.4" stroke="#29e629" stroke-width="0.8" />
<line x1="236.16" y1="206.2" x2="239.08" y2="206.4" stroke="#29e629" stroke-width="0.8" />
<line x1="261.77" y1="206.2" x2="263.55" y2="206.4" stroke="#29e629" stroke-width="0.8" />
<line x1="282.71" y1="206.2" x2="284.92" y2="206.4" stroke="#29e629" stroke-width="0.8" />
<line x1="306.25" y1="206.2" x2="308.7" y2="206.4" stroke="#29e629" stroke-width="0.8" />
<line x1="337.96" y1="206.2" x2="339.8" y2="206.4" stroke="#29e629" stroke-width="0.8" />
<line x1="351.02" y1="206.2" x2="352.87" y2="206.4" stroke="#29e629" stroke-width="0.8" />
<line x1="369" y1="206.2" x2="371.3" y2="206.4" stroke="#29e629" stroke-width="0.8" />
<line x1="39.8" y1="57" x2="39.8" y2="97" stroke="#ffa6d4" stroke-width="1.5" />
<line x1="39.8" y1="96" x2="39.8" y2="121" stroke="#ff3c9e" stroke-width="1.5" />
<line x1="80.75" y1="57" x2="80.75" y2="97" stroke="#ffa6d4" stroke-width="1.5" />
<line x1="80.75" y1="96" x2="80.75" y2="121" stroke="#ff3c9e" stroke-width="1.5" />
<line x1="121.7" y1="57" x2="121.7" y2="97" stroke="#ffa6d4" stroke-width="1.5" />
<line x1="121.7" y1="96" x2="121.7" y2="121" stroke="#ff3c9e" stroke-width="1.5" />
<line x1="162.65" y1="57" x2="162.65" y2="97" stroke="#ffa6d4" stroke-width="1.5" />
<line x1="162.65" y1="96" x2="162.65" y2="121" stroke="#ff3c9e" stroke-width="1.5" />
<line x1="203.6" y1="57" x2="203.6" y2="97" stroke="#ffa6d4" stroke-width="1.5" />
<line x1="203.6" y1="96" x2="203.6" y2="121" stroke="#ff3c9e" stroke-width="1.5" />
<line x1="244.55" y1="57" x2="244.55" y2="97" stroke="#ffa6d4" stroke-width="1.5" />
<line x1="244.55" y1="96" x2="244.55" y2="121" stroke="#ff3c9e" stroke-width="1.5" />
<line x1="285.5" y1="57" x2="285.5" y2="97" stroke="#ffa6d4" stroke-width="1.5" />
<line x1="285.5" y1="96" x2="285.5" y2="121" stroke="#ff3c9e" stroke-width="1.5" />
<line x1="326.45" y1="57" x2="326.45" y2="97" stroke="#ffa6d4" stroke-width="1.5" />
<line x1="326.45" y1="96" x2="326.45" y2="121" stroke="#ff3c9e" stroke-width="1.5" />
<line x1="367.4" y1="57" x2="367.4" y2="97" stroke="#ffa6d4" stroke-width="1.5" />
<line x1="367.4" y1="96" x2="367.4" y2="121" stroke="#ff3c9e" stroke-width="1.5" />
<line x1="408.35" y1="57" x2="408.35" y2="97" stroke="#ffa6d4" stroke-width="1.5" />
<line x1="408.35" y1="96" x2="408.35" y2="121" stroke="#ff3c9e" stroke-width="1.5" />
<path d="M29.5,119.78 L30.3,120.26 L31.1,120.29 L31.9,120.68 L32.7,120.07 L33.5,120.74 L34.3,120.44 L35.1,120.82 L35.9,120 L36.7,120.79 L37.5,120.59 L38.3,120.49 L39.1,121.05 L39.9,120.59 L40.7,120.84 L41.5,119.01 L42.3,118.78 L43.1,119.1 L43.9,118.97 L44.7,118.95 L45.5,118.86 L46.3,119.61 L47.1,118.94 L47.9,119.27 L48.7,119.49 L49.5,119.11 L50.3,119.8 L51.1,119.76 L51.9,119.7 L52.7,119.76 L53.5,118.62 L54.3,119.93 L55.1,118.95 L55.9,118.8 L56.7,119.69 L57.5,118.81 L58.3,119.71 L59.1,119.85 L59.9,119.69 L60.7,120.95 L61.5,120.87 L62.3,120.67 L63.1,120.74 L63.9,120.94 L64.7,120.07 L65.5,119.9 L66.3,119.78 L67.1,119.9 L67.9,120.4 L68.7,120.91 L69.5,120.88 L70.3,120.49 L71.1,120.88 L71.9,120.29 L72.7,119.81 L73.5,120.59 L74.3,120.55 L75.1,121 L75.9,121.07 L76.7,120.38 L77.5,119.75 L78.3,120.58 L79.1,120.91 L79.9,120.36 L80.7,120.78 L81.5,120.31 L82.3,119.38 L83.1,119.01 L83.9,119.17 L84.7,118.98 L85.5,119.96 L86.3,119.71 L87.1,119.04 L87.9,119.42 L88.7,119.7 L89.5,119.61 L90.3,119.36 L91.1,119.02 L91.9,118.87 L92.7,119.45 L93.5,119.7 L94.3,119.46 L95.1,119.48 L95.9,119.43 L96.7,118.9 L97.5,119.24 L98.3,118.74 L99.1,118.65 L99.9,119.88 L100.7,119.12 L101.5,120.8 L102.3,120.06 L103.1,120.29 L103.9,120.3 L104.7,121.01 L105.5,120.49 L106.3,119.87 L107.1,120.51 L107.9,120.33 L108.7,120.24 L109.5,121.01 L110.3,120.37 L111.1,119.84 L111.9,120 L112.7,119.72 L113.5,120.66 L114.3,121.05 L115.1,120.92 L115.9,119.72 L116.7,120.04 L117.5,119.96 L118.3,120.78 L119.1,120.9 L119.9,119.82 L120.7,120.69 L121.5,121.01 L122.3,121.05 L123.1,118.62 L123.9,119.51 L124.7,118.71 L125.5,119.62 L126.3,119.81 L127.1,118.68 L127.9,119.4 L128.7,119.55 L129.5,119.72 L130.3,119.5 L131.1,119.19 L131.9,119.7 L132.7,119.7 L133.5,119.01 L134.3,119.96 L135.1,119.76 L135.9,119.45 L136.7,119.76 L137.5,119.03 L138.3,119.84 L139.1,119.56 L139.9,119.85 L140.7,119 L141.5,118.97 L142.3,120.52 L143.1,120.94 L143.9,120.87 L144.7,120.91 L145.5,120.08 L146.3,120.83 L147.1,120.98 L147.9,119.82 L148.7,120.82 L149.5,120.75 L150.3,120.03 L151.1,120.65 L151.9,119.99 L152.7,120.75 L153.5,120.34 L154.3,120.83 L155.1,120.03 L155.9,120.96 L156.7,120.43 L157.5,120.53 L158.3,119.97 L159.1,120.68 L159.9,120.49 L160.7,120.42 L161.5,119.76 L162.3,120.22 L163.1,120.59 L163.9,118.82 L164.7,119.08 L165.5,118.63 L166.3,119.99 L167.1,119.28 L167.9,118.97 L168.7,119.2 L169.5,119.67 L170.3,119.95 L171.1,118.65 L171.9,118.85 L172.7,118.67 L173.5,119.82 L174.3,119.93 L175.1,118.69 L175.9,119.16 L176.7,119.94 L177.5,119.39 L178.3,119.94 L179.1,119.15 L179.9,118.82 L180.7,119.99 L181.5,118.65 L182.3,119.09 L183.1,119.87 L183.9,119.77 L184.7,120.69 L185.5,121.08 L186.3,119.9 L187.1,121.02 L187.9,120.12 L188.7,120.76 L189.5,120.15 L190.3,119.87 L191.1,119.94 L191.9,119.9 L192.7,119.72 L193.5,119.97 L194.3,121 L195.1,121.01 L195.9,120.94 L196.7,120.33 L197.5,121 L198.3,120.58 L199.1,120.18 L199.9,120.37 L200.7,119.9 L201.5,119.78 L202.3,120.47 L203.1,120.92 L203.9,120.28 L204.7,118.98 L205.5,119.07 L206.3,119.29 L207.1,119.86 L207.9,119.97 L208.7,119.85 L209.5,118.9 L210.3,119 L211.1,118.88 L211.9,119.99 L212.7,119.9 L213.5,119.01 L214.3,118.68 L215.1,119.01 L215.9,118.62 L216.7,119.08 L217.5,118.6 L218.3,119.34 L219.1,119.21 L219.9,118.91 L220.7,118.79 L221.5,119.68 L222.3,118.88 L223.1,118.72 L223.9,119.29 L224.7,119.99 L225.5,120.69 L226.3,120.52 L227.1,119.79 L227.9,120.27 L228.7,119.78 L229.5,120.17 L230.3,120.91 L231.1,119.72 L231.9,120.37 L232.7,120.07 L233.5,120.86 L234.3,119.93 L235.1,120.53 L235.9,120.43 L236.7,120.42 L237.5,120.7 L238.3,120.91 L239.1,120.7 L239.9,120.75 L240.7,120.92 L241.5,120.39 L242.3,120.44 L243.1,119.73 L243.9,120.01 L244.7,119.84 L245.5,120.84 L246.3,118.74 L247.1,118.87 L247.9,119.44 L248.7,119.33 L249.5,118.74 L250.3,119.6 L251.1,118.77 L251.9,119.3 L252.7,118.77 L253.5,118.79 L254.3,119.81 L255.1,119.4 L255.9,118.83 L256.7,119.91 L257.5,119.19 L258.3,119.34 L259.1,119.92 L259.9,119.07 L260.7,119.07 L261.5,119.97 L262.3,119.88 L263.1,119.79 L263.9,119.32 L264.7,119.91 L265.5,120.29 L266.3,120.21 L267.1,119.8 L267.9,120.41 L268.7,119.9 L269.5,120.79 L270.3,120.59 L271.1,120.94 L271.9,119.75 L272.7,120.07 L273.5,120.08 L274.3,120.99 L275.1,120.05 L275.9,120.31 L276.7,120.1 L277.5,120.61 L278.3,120.53 L279.1,120.42 L279.9,120.35 L280.7,119.91 L281.5,119.88 L282.3,120.27 L283.1,120.04 L283.9,120.46 L284.7,120.55 L285.5,120.61 L286.3,120.69 L287.1,119.37 L287.9,119.26 L288.7,118.94 L289.5,119.32 L290.3,119.42 L291.1,119.09 L291.9,118.93 L292.7,119.29 L293.5,119.98 L294.3,119.68 L295.1,118.69 L295.9,119.22 L296.7,119.14 L297.5,119.63 L298.3,118.92 L299.1,119.63 L299.9,119.07 L300.7,119.55 L301.5,119.79 L302.3,119.32 L303.1,119.64 L303.9,119.27 L304.7,119.59 L305.5,118.78 L306.3,119.71 L307.1,120.52 L307.9,121.05 L308.7,120.29 L309.5,120.92 L310.3,120.23 L311.1,120.34 L311.9,120.11 L312.7,120.48 L313.5,120.15 L314.3,120.89 L315.1,120.32 L315.9,120.13 L316.7,120.51 L317.5,119.82 L318.3,120.15 L319.1,120.87 L319.9,119.99 L320.7,120.97 L321.5,119.77 L322.3,120.4 L323.1,120.78 L323.9,121.1 L324.7,120.42 L325.5,120.25 L326.3,120.53 L327.1,121.03 L327.9,119.34 L328.7,119.12 L329.5,119.39 L330.3,119.83 L331.1,119.28 L331.9,119.47 L332.7,119.08 L333.5,119.74 L334.3,119.05 L335.1,119.76 L335.9,118.75 L336.7,119.57 L337.5,119.99 L338.3,119.19 L339.1,119.01 L339.9,119.31 L340.7,118.86 L341.5,119.44 L342.3,119.99 L343.1,118.66 L343.9,119.7 L344.7,119.57 L345.5,119.03 L346.3,119.42 L347.1,119.98 L347.9,120.47 L348.7,120.61 L349.5,121.1 L350.3,120.28 L351.1,119.92 L351.9,119.85 L352.7,119.94 L353.5,120.85 L354.3,120.83 L355.1,119.72 L355.9,120.15 L356.7,120.2 L357.5,120.07 L358.3,120.97 L359.1,120.19 L359.9,120.24 L360.7,120.95 L361.5,121.04 L362.3,120.57 L363.1,119.76 L363.9,120.9 L364.7,120.96 L365.5,120.13 L366.3,121.04 L367.1,121.03 L367.9,120.25 L368.7,118.91 L369.5,119.83 L370.3,119.71 L371.1,118.84 L371.9,118.86 L372.7,119.01 L373.5,118.76 L374.3,119.14 L375.1,118.69 L375.9,119.76 L376.7,118.94 L377.5,119 L378.3,118.65 L379.1,119.08 L379.9,119.59 L380.7,118.98 L381.5,118.78 L382.3,119.77 L383.1,118.82 L383.9,119.61 L384.7,119.94 L385.5,119.93 L386.3,118.92 L387.1,118.78 L387.9,120.07 L388.7,120.52 L389.5,120.04 L390.3,120 L391.1,119.87 L391.9,120.46 L392.7,120.78 L393.5,120.62 L394.3,120.14 L395.1,119.82 L395.9,120.89 L396.7,120.63 L397.5,120.49 L398.3,120.4 L399.1,119.79 L399.9,120.02 L400.7,120.7 L401.5,120.26 L402.3,120.78 L403.1,120.91 L403.9,120.09 L404.7,120.65 L405.5,120.19 L406.3,120.62 L407.1,120.05 L407.9,120.19 L408.7,119.95 L409.5,119.88 L410.3,119.6 L411.1,118.66 L411.9,118.88 L412.7,119.13 L413.5,119.04 L414.3,118.85 L415.1,119.4 L415.9,118.96 L416.7,119.56 L417.5,118.6 L418.3,119.69 L419.1,118.66 L419.9,119.45 L420.7,118.94 L421.5,119.71 L422.3,119.88 L423.1,118.72 L423.9,119.15 L424.7,119.76 L425.5,118.73 L426.3,119.19 L427.1,119.57 L427.9,119.76 L428.7,119.23 L429.5,120.68 L430.3,120.42 L431.1,119.88 L431.9,119.76 L432.7,120.83 L433.5,120.46 L434.3,120.59 L435.1,120.05 L435.9,120.2 L436.7,119.98 L437.5,119.89 L438.3,120.64 L439.1,120.04 L439.1,127.12 L438.3,126.73 L437.5,127.39 L436.7,126.83 L435.9,126.98 L435.1,126.48 L434.3,127.16 L433.5,127.76 L432.7,126.77 L431.9,127.38 L431.1,127.47 L430.3,127.7 L429.5,127 L428.7,125.38 L427.9,126.18 L427.1,126.33 L426.3,126.6 L425.5,126.62 L424.7,125.69 L423.9,126.35 L423.1,126.27 L422.3,126.35 L421.5,125.59 L420.7,125.46 L419.9,125.37 L419.1,126.5 L418.3,125.7 L417.5,126.47 L416.7,125.79 L415.9,125.91 L415.1,126.3 L414.3,126.48 L413.5,126.19 L412.7,125.35 L411.9,125.72 L411.1,125.53 L410.3,125.36 L409.5,126.33 L408.7,126.56 L407.9,127.28 L407.1,127.59 L406.3,127.38 L405.5,126.98 L404.7,127.33 L403.9,126.44 L403.1,126.59 L402.3,127.64 L401.5,127.67 L400.7,126.8 L399.9,126.58 L399.1,126.84 L398.3,126.82 L397.5,126.91 L396.7,126.55 L395.9,126.85 L395.1,126.65 L394.3,126.95 L393.5,127.19 L392.7,126.94 L391.9,126.78 L391.1,127.12 L390.3,127.62 L389.5,127.25 L388.7,126.92 L387.9,127.66 L387.1,126.29 L386.3,125.93 L385.5,126.01 L384.7,125.59 L383.9,125.83 L383.1,125.79 L382.3,126.43 L381.5,125.92 L380.7,126.47 L379.9,125.43 L379.1,125.52 L378.3,126.23 L377.5,125.63 L376.7,125.57 L375.9,125.79 L375.1,125.47 L374.3,125.86 L373.5,126.05 L372.7,126.09 L371.9,126.66 L371.1,125.8 L370.3,125.64 L369.5,125.98 L368.7,125.73 L367.9,127.41 L367.1,126.74 L366.3,127.09 L365.5,127.24 L364.7,127.54 L363.9,126.84 L363.1,127.7 L362.3,126.75 L361.5,127.02 L360.7,127.22 L359.9,126.48 L359.1,127.03 L358.3,127.22 L357.5,126.54 L356.7,126.64 L355.9,127.4 L355.1,127.48 L354.3,126.49 L353.5,127.26 L352.7,127.13 L351.9,126.54 L351.1,127.46 L350.3,126.57 L349.5,127.2 L348.7,127.14 L347.9,126.77 L347.1,127.1 L346.3,126.24 L345.5,126.48 L344.7,125.31 L343.9,125.73 L343.1,125.88 L342.3,126.19 L341.5,125.79 L340.7,126.18 L339.9,125.56 L339.1,126.02 L338.3,125.52 L337.5,126.54 L336.7,126.45 L335.9,126.55 L335.1,126.02 L334.3,126.67 L333.5,125.54 L332.7,126.04 L331.9,126.69 L331.1,125.92 L330.3,126.65 L329.5,126.1 L328.7,125.86 L327.9,125.44 L327.1,127.35 L326.3,126.89 L325.5,126.9 L324.7,127.36 L323.9,127.12 L323.1,127.15 L322.3,127.69 L321.5,127.19 L320.7,126.41 L319.9,127 L319.1,127.74 L318.3,127.58 L317.5,127.69 L316.7,127.21 L315.9,126.6 L315.1,126.66 L314.3,127.1 L313.5,127.5 L312.7,126.94 L311.9,126.95 L311.1,127.41 L310.3,127.03 L309.5,127.25 L308.7,127.5 L307.9,127.2 L307.1,127.1 L306.3,127.47 L305.5,126.52 L304.7,126.58 L303.9,126.4 L303.1,126.36 L302.3,126.33 L301.5,126.45 L300.7,126.16 L299.9,125.79 L299.1,125.52 L298.3,126.64 L297.5,125.45 L296.7,125.92 L295.9,125.39 L295.1,126.52 L294.3,125.52 L293.5,125.71 L292.7,125.7 L291.9,126.08 L291.1,126.51 L290.3,125.32 L289.5,125.84 L288.7,125.61 L287.9,125.73 L287.1,126.16 L286.3,127.05 L285.5,126.68 L284.7,127.2 L283.9,127.58 L283.1,126.52 L282.3,126.8 L281.5,126.81 L280.7,126.57 L279.9,127.15 L279.1,126.78 L278.3,127.74 L277.5,126.57 L276.7,126.83 L275.9,127.73 L275.1,127.13 L274.3,127.27 L273.5,127.16 L272.7,127.35 L271.9,127.3 L271.1,127.64 L270.3,127.53 L269.5,127.71 L268.7,127.76 L267.9,126.43 L267.1,127.01 L266.3,127.14 L265.5,127.29 L264.7,125.65 L263.9,126.64 L263.1,125.37 L262.3,126.44 L261.5,126.43 L260.7,125.91 L259.9,125.64 L259.1,126.39 L258.3,125.85 L257.5,126.48 L256.7,125.84 L255.9,126.46 L255.1,126.35 L254.3,125.51 L253.5,126.13 L252.7,125.87 L251.9,125.69 L251.1,125.99 L250.3,125.36 L249.5,126.52 L248.7,126.28 L247.9,126.11 L247.1,125.32 L246.3,126.28 L245.5,126.44 L244.7,126.75 L243.9,126.66 L243.1,127.75 L242.3,127.15 L241.5,127.12 L240.7,127.74 L239.9,126.49 L239.1,126.93 L238.3,126.85 L237.5,127.54 L236.7,126.57 L235.9,127.02 L235.1,126.41 L234.3,126.92 L233.5,126.91 L232.7,126.66 L231.9,127.62 L231.1,127.67 L230.3,127.09 L229.5,127.58 L228.7,127.53 L227.9,127.41 L227.1,127.43 L226.3,126.68 L225.5,127.54 L224.7,127.26 L223.9,125.68 L223.1,126.15 L222.3,125.41 L221.5,126.3 L220.7,125.55 L219.9,126.1 L219.1,126.58 L218.3,125.56 L217.5,126.47 L216.7,125.5 L215.9,126.43 L215.1,126.67 L214.3,126.32 L213.5,126.55 L212.7,125.44 L211.9,126.7 L211.1,125.81 L210.3,125.66 L209.5,125.97 L208.7,126.24 L207.9,125.38 L207.1,125.46 L206.3,125.75 L205.5,125.53 L204.7,126.48 L203.9,126.62 L203.1,126.77 L202.3,126.6 L201.5,127.4 L200.7,126.71 L199.9,127.28 L199.1,127.55 L198.3,127.03 L197.5,127.58 L196.7,126.54 L195.9,126.6 L195.1,127.61 L194.3,126.71 L193.5,126.45 L192.7,127.4 L191.9,127.35 L191.1,126.73 L190.3,127.07 L189.5,126.76 L188.7,126.55 L187.9,127.23 L187.1,127.35 L186.3,127.46 L185.5,126.48 L184.7,127.31 L183.9,127.5 L183.1,126.47 L182.3,126.56 L181.5,125.66 L180.7,125.61 L179.9,126.65 L179.1,125.93 L178.3,126.24 L177.5,126.2 L176.7,125.66 L175.9,125.47 L175.1,126.14 L174.3,126.57 L173.5,125.94 L172.7,126.08 L171.9,125.42 L171.1,125.58 L170.3,125.66 L169.5,126.45 L168.7,126.63 L167.9,126.39 L167.1,126.09 L166.3,126.51 L165.5,125.35 L164.7,126.03 L163.9,126.14 L163.1,127.5 L162.3,126.55 L161.5,127.8 L160.7,126.61 L159.9,126.96 L159.1,126.91 L158.3,126.65 L157.5,126.66 L156.7,127.07 L155.9,127.64 L155.1,127.21 L154.3,127.48 L153.5,126.52 L152.7,127.51 L151.9,126.76 L151.1,127.05 L150.3,127.25 L149.5,127.7 L148.7,126.68 L147.9,127.18 L147.1,126.89 L146.3,127.36 L145.5,127.59 L144.7,127.2 L143.9,127.54 L143.1,126.46 L142.3,127.54 L141.5,125.89 L140.7,125.3 L139.9,126.43 L139.1,126.14 L138.3,125.83 L137.5,125.9 L136.7,126.14 L135.9,126.67 L135.1,125.76 L134.3,126.28 L133.5,125.38 L132.7,126.09 L131.9,126.62 L131.1,125.84 L130.3,126.18 L129.5,125.81 L128.7,125.5 L127.9,125.91 L127.1,125.81 L126.3,125.98 L125.5,125.53 L124.7,125.74 L123.9,126.44 L123.1,125.32 L122.3,127.4 L121.5,126.76 L120.7,127.04 L119.9,127.28 L119.1,127.42 L118.3,127.4 L117.5,126.47 L116.7,127.43 L115.9,127.41 L115.1,126.58 L114.3,126.52 L113.5,126.57 L112.7,126.41 L111.9,126.61 L111.1,127.3 L110.3,126.98 L109.5,127.77 L108.7,127.23 L107.9,126.42 L107.1,127.69 L106.3,127.53 L105.5,126.46 L104.7,126.48 L103.9,127.3 L103.1,126.85 L102.3,126.82 L101.5,127.19 L100.7,126.45 L99.9,126.22 L99.1,126.38 L98.3,125.55 L97.5,126.37 L96.7,126.23 L95.9,126.25 L95.1,126.27 L94.3,126.16 L93.5,126.57 L92.7,126.22 L91.9,126.59 L91.1,125.31 L90.3,125.37 L89.5,126.54 L88.7,125.36 L87.9,126.19 L87.1,125.72 L86.3,125.76 L85.5,126.22 L84.7,126.01 L83.9,126.01 L83.1,126.46 L82.3,126.46 L81.5,126.99 L80.7,126.7 L79.9,127.14 L79.1,126.91 L78.3,126.87 L77.5,127.41 L76.7,127.66 L75.9,127.11 L75.1,126.86 L74.3,127.36 L73.5,126.44 L72.7,127.29 L71.9,127.74 L71.1,126.92 L70.3,127.33 L69.5,127.06 L68.7,126.41 L67.9,127.16 L67.1,127.09 L66.3,127.05 L65.5,127.09 L64.7,126.73 L63.9,127.18 L63.1,127.01 L62.3,127.14 L61.5,126.68 L60.7,127.5 L59.9,126.24 L59.1,126.15 L58.3,125.54 L57.5,126.57 L56.7,125.79 L55.9,125.63 L55.1,125.44 L54.3,126.22 L53.5,125.32 L52.7,126.19 L51.9,125.5 L51.1,126.57 L50.3,125.38 L49.5,126.6 L48.7,126.22 L47.9,125.9 L47.1,125.72 L46.3,125.69 L45.5,125.3 L44.7,125.9 L43.9,125.83 L43.1,126.49 L42.3,126.47 L41.5,126.07 L40.7,127.06 L39.9,127.55 L39.1,126.89 L38.3,126.72 L37.5,127.06 L36.7,127.53 L35.9,126.58 L35.1,126.95 L34.3,126.71 L33.5,127.72 L32.7,126.71 L31.9,126.89 L31.1,126.99 L30.3,126.42 L29.5,126.78 Z" fill="#ff0582"/>
<path d="M39.5,124 L40,137.5 Q40.6,128 43.8,124.5" fill="none" stroke="#ff0582" stroke-width="1.4"/>
<path d="M80.45,124 L80.95,137.5 Q81.55,128 84.75,124.5" fill="none" stroke="#ff0582" stroke-width="1.4"/>
<path d="M121.4,124 L121.9,137.5 Q122.5,128 125.7,124.5" fill="none" stroke="#ff0582" stroke-width="1.4"/>
<path d="M162.35,124 L162.85,137.5 Q163.45,128 166.65,124.5" fill="none" stroke="#ff0582" stroke-width="1.4"/>
<path d="M203.3,124 L203.8,137.5 Q204.4,128 207.6,124.5" fill="none" stroke="#ff0582" stroke-width="1.4"/>
<path d="M244.25,124 L244.75,137.5 Q245.35,128 248.55,124.5" fill="none" stroke="#ff0582" stroke-width="1.4"/>
<path d="M285.2,124 L285.7,137.5 Q286.3,128 289.5,124.5" fill="none" stroke="#ff0582" stroke-width="1.4"/>
<path d="M326.15,124 L326.65,137.5 Q327.25,128 330.45,124.5" fill="none" stroke="#ff0582" stroke-width="1.4"/>
<path d="M367.1,124 L367.6,137.5 Q368.2,128 371.4,124.5" fill="none" stroke="#ff0582" stroke-width="1.4"/>
<path d="M408.05,124 L408.55,137.5 Q409.15,128 412.35,124.5" fill="none" stroke="#ff0582" stroke-width="1.4"/>
<path d="M59.4,124 L60.3,147.3 L61.2,124 Z" fill="#ff0582" stroke="#ff0582" stroke-width="0.6" opacity="0.95"/>
<path d="M100.35,124 L101.25,151 L102.15,124 Z" fill="#ff0582" stroke="#ff0582" stroke-width="0.6" opacity="0.95"/>
<path d="M141.3,124 L142.2,156.7 L143.1,124 Z" fill="#ff0582" stroke="#ff0582" stroke-width="0.6" opacity="0.95"/>
<path d="M182.25,124 L183.15,153.2 L184.05,124 Z" fill="#ff0582" stroke="#ff0582" stroke-width="0.6" opacity="0.95"/>
<path d="M223.2,124 L224.1,152.4 L225,124 Z" fill="#ff0582" stroke="#ff0582" stroke-width="0.6" opacity="0.95"/>
<path d="M264.15,124 L265.05,151.5 L265.95,124 Z" fill="#ff0582" stroke="#ff0582" stroke-width="0.6" opacity="0.95"/>
<path d="M305.1,124 L306,150.6 L306.9,124 Z" fill="#ff0582" stroke="#ff0582" stroke-width="0.6" opacity="0.95"/>
<path d="M346.05,124 L346.95,152.4 L347.85,124 Z" fill="#ff0582" stroke="#ff0582" stroke-width="0.6" opacity="0.95"/>
<path d="M387,124 L387.9,154 L388.8,124 Z" fill="#ff0582" stroke="#ff0582" stroke-width="0.6" opacity="0.95"/>
<path d="M427.95,124 L428.85,153.2 L429.75,124 Z" fill="#ff0582" stroke="#ff0582" stroke-width="0.6" opacity="0.95"/>
<line x1="29.5" y1="148.4" x2="439.2" y2="148.4" stroke="#4a4a4a" stroke-width="1.5" stroke-dasharray="2 1.3"/>
<line x1="29.5" y1="157.6" x2="439.2" y2="157.6" stroke="#4a4a4a" stroke-width="1.5" stroke-dasharray="2 1.3"/>
<line x1="357.2" y1="134" x2="357.2" y2="142.72" stroke="#000" stroke-width="1.2" />
<path d="M357.2,147.2 L354.29,141.6 L357.2,142.27 L360.11,141.6 Z" fill="#000"/>
<line x1="357.2" y1="170.8" x2="357.2" y2="163.08" stroke="#000" stroke-width="1.2" />
<path d="M357.2,158.6 L360.11,164.2 L357.2,163.53 L354.29,164.2 Z" fill="#000"/>
<text x="364.2" y="169.8" font-size="13.5" font-weight="bold" fill="#000" textLength="32.6" lengthAdjust="spacingAndGlyphs" >20mV</text>
<text x="34" y="173.3" font-size="14" font-weight="bold" fill="#000" textLength="57" lengthAdjust="spacingAndGlyphs" >Best case</text>
<text x="109.6" y="173.3" font-size="14" font-weight="bold" fill="#000" textLength="67" lengthAdjust="spacingAndGlyphs" >Worst case</text>
<text x="35.5" y="77.6" font-size="15.8" font-weight="bold" fill="#000" textLength="9.9" lengthAdjust="spacingAndGlyphs" >V</text>
<text x="45.6" y="79.2" font-size="11.2" font-weight="bold" fill="#000" textLength="10" lengthAdjust="spacingAndGlyphs" >IN</text>
<text x="55.6" y="77.6" font-size="15.8" font-weight="bold" fill="#000" textLength="54.8" lengthAdjust="spacingAndGlyphs" >=24V, V</text>
<text x="110.5" y="79.2" font-size="11.2" font-weight="bold" fill="#000" textLength="20.3" lengthAdjust="spacingAndGlyphs" >OUT</text>
<text x="130.8" y="77.6" font-size="15.8" font-weight="bold" fill="#000" textLength="41" lengthAdjust="spacingAndGlyphs" >=1V, I</text>
<text x="172" y="79.2" font-size="11.2" font-weight="bold" fill="#000" textLength="20" lengthAdjust="spacingAndGlyphs" >OUT</text>
<text x="192" y="77.6" font-size="15.8" font-weight="bold" fill="#000" textLength="78.6" lengthAdjust="spacingAndGlyphs" >=0.1A-3.1A</text>
<text x="23" y="136.5" font-size="7.5" fill="#ff1090" font-family="'Liberation Sans', Arial, sans-serif">T</text>
<path d="M25.5,135.5 L29.5,138 L25.5,140.5 Z" fill="#ff1090"/>
<text x="21.4" y="291.5" font-size="9" font-weight="bold" fill="#6cd040" >2</text>
<path d="M26.5,285.5 L29.5,288 L26.5,290.5 Z" fill="#ffc000"/>
<text x="21.6" y="317" font-size="8" font-weight="normal" fill="#ff1090" >4</text>
<path d="M25.5,315 L29.5,318 L25.5,319.5 Z" fill="#ff1090"/>
<rect x="467.5" y="45.5" width="208.5" height="273.3" fill="#fff"/>
<line x1="517.04" y1="59.2" x2="517.04" y2="311.8" stroke="#d3d3d3" stroke-width="1" />
<line x1="556.68" y1="59.2" x2="556.68" y2="311.8" stroke="#d3d3d3" stroke-width="1" />
<line x1="596.32" y1="59.2" x2="596.32" y2="311.8" stroke="#d3d3d3" stroke-width="1" />
<line x1="635.96" y1="59.2" x2="635.96" y2="311.8" stroke="#d3d3d3" stroke-width="1" />
<line x1="477.4" y1="90.78" x2="675.6" y2="90.78" stroke="#d3d3d3" stroke-width="1" />
<line x1="477.4" y1="122.35" x2="675.6" y2="122.35" stroke="#d3d3d3" stroke-width="1" />
<line x1="477.4" y1="153.93" x2="675.6" y2="153.93" stroke="#d3d3d3" stroke-width="1" />
<line x1="477.4" y1="185.5" x2="675.6" y2="185.5" stroke="#d3d3d3" stroke-width="1" />
<line x1="477.4" y1="217.07" x2="675.6" y2="217.07" stroke="#d3d3d3" stroke-width="1" />
<line x1="477.4" y1="248.65" x2="675.6" y2="248.65" stroke="#d3d3d3" stroke-width="1" />
<line x1="477.4" y1="280.23" x2="675.6" y2="280.23" stroke="#d3d3d3" stroke-width="1" />
<line x1="477.4" y1="184" x2="477.4" y2="187" stroke="#c4c4c4" stroke-width="0.8" />
<line x1="485.33" y1="184" x2="485.33" y2="187" stroke="#c4c4c4" stroke-width="0.8" />
<line x1="493.26" y1="184" x2="493.26" y2="187" stroke="#c4c4c4" stroke-width="0.8" />
<line x1="501.18" y1="184" x2="501.18" y2="187" stroke="#c4c4c4" stroke-width="0.8" />
<line x1="509.11" y1="184" x2="509.11" y2="187" stroke="#c4c4c4" stroke-width="0.8" />
<line x1="517.04" y1="184" x2="517.04" y2="187" stroke="#c4c4c4" stroke-width="0.8" />
<line x1="524.97" y1="184" x2="524.97" y2="187" stroke="#c4c4c4" stroke-width="0.8" />
<line x1="532.9" y1="184" x2="532.9" y2="187" stroke="#c4c4c4" stroke-width="0.8" />
<line x1="540.82" y1="184" x2="540.82" y2="187" stroke="#c4c4c4" stroke-width="0.8" />
<line x1="548.75" y1="184" x2="548.75" y2="187" stroke="#c4c4c4" stroke-width="0.8" />
<line x1="556.68" y1="184" x2="556.68" y2="187" stroke="#c4c4c4" stroke-width="0.8" />
<line x1="564.61" y1="184" x2="564.61" y2="187" stroke="#c4c4c4" stroke-width="0.8" />
<line x1="572.54" y1="184" x2="572.54" y2="187" stroke="#c4c4c4" stroke-width="0.8" />
<line x1="580.46" y1="184" x2="580.46" y2="187" stroke="#c4c4c4" stroke-width="0.8" />
<line x1="588.39" y1="184" x2="588.39" y2="187" stroke="#c4c4c4" stroke-width="0.8" />
<line x1="596.32" y1="184" x2="596.32" y2="187" stroke="#c4c4c4" stroke-width="0.8" />
<line x1="604.25" y1="184" x2="604.25" y2="187" stroke="#c4c4c4" stroke-width="0.8" />
<line x1="612.18" y1="184" x2="612.18" y2="187" stroke="#c4c4c4" stroke-width="0.8" />
<line x1="620.1" y1="184" x2="620.1" y2="187" stroke="#c4c4c4" stroke-width="0.8" />
<line x1="628.03" y1="184" x2="628.03" y2="187" stroke="#c4c4c4" stroke-width="0.8" />
<line x1="635.96" y1="184" x2="635.96" y2="187" stroke="#c4c4c4" stroke-width="0.8" />
<line x1="643.89" y1="184" x2="643.89" y2="187" stroke="#c4c4c4" stroke-width="0.8" />
<line x1="651.82" y1="184" x2="651.82" y2="187" stroke="#c4c4c4" stroke-width="0.8" />
<line x1="659.74" y1="184" x2="659.74" y2="187" stroke="#c4c4c4" stroke-width="0.8" />
<line x1="667.67" y1="184" x2="667.67" y2="187" stroke="#c4c4c4" stroke-width="0.8" />
<line x1="675.6" y1="184" x2="675.6" y2="187" stroke="#c4c4c4" stroke-width="0.8" />
<line x1="477.4" y1="59.2" x2="477.4" y2="311.8" stroke="#9a9a9a" stroke-width="1.2" />
<line x1="477.4" y1="311.8" x2="675.6" y2="311.8" stroke="#a8b4c8" stroke-width="1.2" />
<rect x="467.5" y="45.5" width="208.5" height="273.3" fill="none" stroke="#6e6e6e" stroke-width="1.3" rx="1.5"/>
<clipPath id="hc2"><rect x="469.2" y="47.2" width="206.4" height="12"/></clipPath>
<g clip-path="url(#hc2)">
<rect x="469.2" y="47.2" width="206.4" height="12" fill="#7f9fcf" />
<line x1="469.2" y1="47.6" x2="675.6" y2="47.6" stroke="#9db4da" stroke-width="0.8" />
<line x1="469.2" y1="58.8" x2="675.6" y2="58.8" stroke="#6a86b3" stroke-width="0.8" />
<rect x="470.4" y="48" width="5.2" height="10.4" fill="#0a0a0a" rx="1.2" stroke="#505050" stroke-width="0.5"/>
<text x="473" y="56.2" font-size="8.88" font-weight="bold" fill="#c8c400" text-anchor="middle" >1</text>
<text x="484.2" y="55.96" font-size="10.32" font-weight="normal" fill="#2b3342" textLength="27" lengthAdjust="spacingAndGlyphs" stroke="#2b3342" stroke-width="0.35">5.00V/</text>
<rect x="520.2" y="48" width="5.2" height="10.4" fill="#0a0a0a" rx="1.2" stroke="#505050" stroke-width="0.5"/>
<text x="522.8" y="56.2" font-size="8.88" font-weight="bold" fill="#18c818" text-anchor="middle" >2</text>
<text x="533.4" y="55.96" font-size="10.32" font-weight="normal" fill="#2b3342" textLength="26.3" lengthAdjust="spacingAndGlyphs" stroke="#2b3342" stroke-width="0.35">5.00V/</text>
<rect x="569.6" y="48" width="6" height="10.4" fill="#0a1540" rx="1.2" stroke="#505050" stroke-width="0.5"/>
<text x="572.6" y="56.2" font-size="8.88" font-weight="bold" fill="#2850e0" text-anchor="middle" >3</text>
<rect x="618.8" y="48" width="6" height="10.4" fill="#0a0a0a" rx="1.2" stroke="#505050" stroke-width="0.5"/>
<text x="621.8" y="56.2" font-size="8.88" font-weight="bold" fill="#e0108a" text-anchor="middle" >4</text>
<text x="635" y="55.96" font-size="10.32" font-weight="normal" fill="#2b3342" textLength="15" lengthAdjust="spacingAndGlyphs" stroke="#2b3342" stroke-width="0.35">100</text>
<text x="652.25" y="52.04" font-size="4.33" font-weight="bold" fill="#2b3342" text-anchor="middle" >m</text>
<text x="652.25" y="55.96" font-size="6.4" font-weight="bold" fill="#2b3342" text-anchor="middle" >V</text>
<text x="654.5" y="55.96" font-size="10.32" font-weight="normal" fill="#2b3342" textLength="2.5" lengthAdjust="spacingAndGlyphs" stroke="#2b3342" stroke-width="0.35">/</text>
<circle cx="676.2" cy="53.2" r="1.89" fill="none" stroke="#2a3550" stroke-width="0.9"/>
<line x1="678.93" y1="53.2" x2="680.4" y2="53.2" stroke="#2a3550" stroke-width="0.8" />
<line x1="678.13" y1="55.13" x2="679.17" y2="56.17" stroke="#2a3550" stroke-width="0.8" />
<line x1="676.2" y1="55.93" x2="676.2" y2="57.4" stroke="#2a3550" stroke-width="0.8" />
<line x1="674.27" y1="55.13" x2="673.23" y2="56.17" stroke="#2a3550" stroke-width="0.8" />
<line x1="673.47" y1="53.2" x2="672" y2="53.2" stroke="#2a3550" stroke-width="0.8" />
<line x1="674.27" y1="51.27" x2="673.23" y2="50.23" stroke="#2a3550" stroke-width="0.8" />
<line x1="676.2" y1="50.47" x2="676.2" y2="49" stroke="#2a3550" stroke-width="0.8" />
<line x1="678.13" y1="51.27" x2="679.17" y2="50.23" stroke="#2a3550" stroke-width="0.8" />
</g>
<path d="M520.5,59.4 L525.5,59.4 L523,62.4 Z" fill="#ff8c1a"/>
<path d="M477.4,122.22 L477.9,122.96 L478.4,122.08 L478.9,122 L479.4,122.88 L479.9,121.77 L480.4,122.4 L480.9,122.06 L481.4,122.78 L481.9,122.38 L482.4,122.7 L482.9,121.82 L483.4,122.56 L483.9,122.46 L484.4,122.26 L484.9,122.72 L485.4,122.81 L485.9,121.74 L486.4,122 L486.9,122.11 L487.4,121.88 L487.9,121.66 L488.4,121.99 L488.9,121.87 L489.4,122.63 L489.9,122.25 L490.4,121.74 L490.9,122.06 L491.4,122.28 L491.9,122.12 L492.4,121.83 L492.9,121.69 L493.4,121.6 L493.9,123.07 L494.4,122.71 L494.9,121.71 L495.4,122.66 L495.9,123.06 L496.4,122.43 L496.9,121.75 L497.4,122.32 L497.9,122.24 L498.4,121.87 L498.9,122.41 L499.4,121.6 L499.9,122.97 L500.4,122.56 L500.9,122.54 L501.4,123 L501.9,122.58 L502.4,121.98 L502.9,121.97 L503.4,121.81 L503.9,121.64 L504.4,122.76 L504.9,122.86 L505.4,122.05 L505.9,121.89 L506.4,122.57 L506.9,122.88 L507.4,123 L507.9,121.87 L508.4,122.79 L508.9,122.86 L509.4,122.73 L509.9,122.11 L510.4,121.9 L510.9,122.86 L511.4,122.11 L511.9,122.18 L512.4,122.46 L512.9,122.18 L513.4,122.88 L513.9,121.99 L514.4,121.7 L514.9,122.49 L515.4,122.58 L515.9,122.87 L516.4,122.7 L516.9,123.01 L517.4,123.13 L517.9,123.09 L518.4,124.24 L518.9,125.16 L519.4,126.88 L519.9,128.69 L520.4,129.38 L520.9,131.88 L521.4,132.72 L521.9,134.7 L522.4,136.9 L522.9,136.9 L523.4,138.12 L523.9,139.93 L524.4,140.63 L524.9,142.29 L525.4,141.9 L525.9,143.84 L526.4,144.5 L526.9,144.96 L527.4,144.85 L527.9,144.9 L528.4,145.54 L528.9,145.23 L529.4,144.88 L529.9,144.46 L530.4,144.26 L530.9,144.21 L531.4,144.05 L531.9,143.75 L532.4,142.14 L532.9,141.76 L533.4,141.35 L533.9,140.88 L534.4,139.9 L534.9,139.04 L535.4,138.25 L535.9,137.97 L536.4,137.52 L536.9,137.64 L537.4,136.92 L537.9,136.27 L538.4,135.89 L538.9,135.35 L539.4,134.34 L539.9,134.15 L540.4,132.55 L540.9,133.02 L541.4,132.46 L541.9,131.54 L542.4,131.49 L542.9,131.6 L543.4,130.44 L543.9,130.26 L544.4,129.34 L544.9,129.03 L545.4,129.52 L545.9,127.93 L546.4,127.9 L546.9,128.38 L547.4,127.78 L547.9,127.01 L548.4,127.64 L548.9,126.99 L549.4,127.08 L549.9,126.61 L550.4,126.56 L550.9,126.4 L551.4,125.94 L551.9,125.32 L552.4,125.22 L552.9,126.1 L553.4,125.4 L553.9,124.56 L554.4,125.51 L554.9,124.42 L555.4,124.02 L555.9,124.51 L556.4,123.93 L556.9,124.14 L557.4,124.1 L557.9,123.47 L558.4,123.85 L558.9,123.03 L559.4,123.5 L559.9,123.48 L560.4,122.6 L560.9,122.98 L561.4,122.36 L561.9,122.81 L562.4,123.35 L562.9,122.78 L563.4,122.92 L563.9,122.88 L564.4,121.81 L564.9,123.03 L565.4,122.55 L565.9,121.56 L566.4,122.61 L566.9,121.94 L567.4,121.61 L567.9,122.8 L568.4,122.21 L568.9,122.54 L569.4,121.6 L569.9,122.57 L570.4,121.51 L570.9,121.8 L571.4,122.03 L571.9,121.52 L572.4,122.42 L572.9,121.88 L573.4,122.04 L573.9,122.68 L574.4,122.29 L574.9,123.02 L575.4,122.65 L575.9,123.07 L576.4,122.64 L576.9,123.21 L577.4,123.17 L577.9,122.15 L578.4,123.06 L578.9,122.49 L579.4,123.15 L579.9,123.06 L580.4,123.32 L580.9,122.3 L581.4,122.71 L581.9,123.3 L582.4,123.65 L582.9,123.35 L583.4,122.38 L583.9,123.26 L584.4,122.55 L584.9,123.27 L585.4,123.7 L585.9,122.71 L586.4,123.98 L586.9,123.66 L587.4,123.07 L587.9,123.03 L588.4,123.46 L588.9,124.1 L589.4,123.77 L589.9,123.12 L590.4,123.03 L590.9,123.21 L591.4,124.3 L591.9,123.43 L592.4,124.03 L592.9,123.68 L593.4,124.33 L593.9,123.92 L594.4,123.61 L594.9,124.75 L595.4,124.3 L595.9,124.57 L596.4,124.79 L596.9,125.04 L597.4,123.68 L597.9,124.21 L598.4,123.96 L598.9,124.53 L599.4,125.12 L599.9,125.04 L600.4,123.93 L600.9,124.18 L601.4,125.17 L601.9,124.99 L602.4,124.59 L602.9,124.74 L603.4,124.3 L603.9,125.36 L604.4,124.71 L604.9,125.46 L605.4,125.09 L605.9,124.32 L606.4,124.72 L606.9,124.58 L607.4,125.62 L607.9,125.19 L608.4,124.4 L608.9,124.62 L609.4,124.93 L609.9,125.11 L610.4,125.3 L610.9,125.04 L611.4,125.02 L611.9,124.52 L612.4,125.4 L612.9,125.06 L613.4,124.61 L613.9,125.29 L614.4,126.1 L614.9,124.71 L615.4,124.88 L615.9,125.69 L616.4,125.12 L616.9,125.14 L617.4,125.5 L617.9,125.16 L618.4,125.64 L618.9,125.6 L619.4,126.26 L619.9,126.33 L620.4,124.92 L620.9,125.73 L621.4,126.06 L621.9,126.23 L622.4,126.1 L622.9,125.91 L623.4,125.94 L623.9,125.55 L624.4,125.45 L624.9,126.24 L625.4,126.37 L625.9,126.49 L626.4,126.13 L626.9,125.58 L627.4,126.29 L627.9,126.27 L628.4,125.95 L628.9,126.16 L629.4,125.75 L629.9,126.07 L630.4,125.87 L630.9,125.37 L631.4,125.8 L631.9,125.79 L632.4,126.81 L632.9,126.06 L633.4,125.9 L633.9,125.73 L634.4,125.73 L634.9,125.91 L635.4,125.6 L635.9,125.42 L636.4,126.73 L636.9,126.11 L637.4,126.1 L637.9,126.29 L638.4,125.9 L638.9,125.7 L639.4,125.55 L639.9,125.9 L640.4,125.91 L640.9,126.54 L641.4,126.28 L641.9,126.86 L642.4,125.96 L642.9,126.83 L643.4,126.32 L643.9,125.57 L644.4,125.71 L644.9,126.31 L645.4,126.92 L645.9,125.98 L646.4,126.6 L646.9,126.08 L647.4,126.74 L647.9,125.53 L648.4,126.16 L648.9,126.78 L649.4,125.84 L649.9,125.81 L650.4,125.46 L650.9,125.67 L651.4,125.82 L651.9,126.47 L652.4,125.74 L652.9,126.01 L653.4,125.7 L653.9,126.31 L654.4,126.69 L654.9,126.37 L655.4,125.69 L655.9,126.49 L656.4,126.83 L656.9,126.28 L657.4,125.5 L657.9,126.59 L658.4,126.68 L658.9,125.88 L659.4,125.57 L659.9,125.64 L660.4,126.16 L660.9,126.67 L661.4,126.31 L661.9,126.73 L662.4,125.66 L662.9,125.83 L663.4,126.46 L663.9,126.3 L664.4,125.93 L664.9,126.34 L665.4,125.83 L665.9,125.4 L666.4,125.93 L666.9,125.38 L667.4,126.24 L667.9,125.8 L668.4,126.04 L668.9,126.19 L669.4,125.68 L669.9,125.98 L670.4,125.3 L670.9,126.67 L671.4,126.12 L671.9,126.75 L672.4,125.35 L672.9,126.19 L673.4,126.35 L673.9,125.75 L674.4,125.4 L674.9,125.49 L675.4,125.47" fill="none" stroke="#ff0582" stroke-width="2.8" stroke-linejoin="round" />
<text x="645.1" y="120.2" font-size="15" font-weight="bold" fill="#ff0582" textLength="10.2" lengthAdjust="spacingAndGlyphs" >V</text>
<text x="655.3" y="120.2" font-size="10" font-weight="bold" fill="#ff0582" textLength="15" lengthAdjust="spacingAndGlyphs" >OUT</text>
<path d="M477.4,283.87 L478.1,283.19 L478.8,283.91 L479.5,283.52 L480.2,283.64 L480.9,283.69 L481.6,283.65 L482.3,283.76 L483,283.7 L483.7,283.43 L484.4,283.84 L485.1,283.36 L485.8,283.81 L486.5,283.86 L487.2,283.88 L487.9,283.41 L488.6,283.87 L489.3,284.08 L490,283.55 L490.7,283.38 L491.4,283.62 L492.1,284.04 L492.8,283.23 L493.5,283.11 L494.2,283.58 L494.9,283.76 L495.6,283.87 L496.3,283.46 L497,284.09 L497.7,283.33 L498.4,283.86 L499.1,283.19 L499.8,283.13 L500.5,283.23 L501.2,283.16 L501.9,283.6 L502.6,283.66 L503.3,283.28 L504,284.04 L504.7,283.47 L505.4,283.25 L506.1,283.28 L506.8,283.84 L507.5,284.02 L508.2,283.26 L508.9,283.13 L509.6,283.88 L510.3,283.34 L511,284.08 L511.7,283.6 L512.4,283.74 L513.1,283.44 L513.8,283.9 L514.5,283.56 L515.2,283.42 L515.9,284 L516.6,283.21 L517.3,283.83 L518,283.17 L518.7,283.75 L519.4,283.5 L520.1,283.96 L520.8,283.16 L521.5,283.66 L522.2,283.51 L522.9,284.02 L523.6,284.04 L524.3,283.73 L525,283.32 L525.7,283.35 L526.4,283.36 L527.1,283.53 L527.8,283.33 L528.5,283.3 L529.2,283.86 L529.9,283.74 L530.6,283.4 L531.3,284.09 L532,283.32 L532.7,283.67 L533.4,283.26 L534.1,283.96 L534.8,283.97 L535.5,283.37 L536.2,283.85 L536.9,283.92 L537.6,283.38 L538.3,283.43 L539,283.59 L539.7,283.99 L540.4,283.26 L541.1,283.78 L541.8,283.7 L542.5,283.55 L543.2,283.68 L543.9,283.98 L544.6,283.31 L545.3,283.98 L546,283.46 L546.7,283.88 L547.4,283.96 L548.1,283.28 L548.8,283.96 L549.5,284.09 L550.2,283.4 L550.9,283.12 L551.6,283.21 L552.3,284.07 L553,283.11 L553.7,284.01 L554.4,283.25 L555.1,283.84 L555.8,283.2 L556.5,283.27 L557.2,283.78 L557.9,283.19 L558.6,283.44 L559.3,284.02 L560,283.82 L560.7,283.98 L561.4,284.08 L562.1,283.13 L562.8,283.33 L563.5,283.89 L564.2,283.79 L564.9,283.14 L565.6,283.6 L566.3,283.33 L567,283.53 L567.7,283.2 L568.4,283.12 L569.1,284.09 L569.8,283.42 L570.5,283.98 L571.2,283.22 L571.9,283.59 L572.6,283.24 L573.3,283.53 L574,283.28 L574.7,283.79 L575.4,283.25 L576.1,283.84 L576.8,283.6 L577.5,283.21 L578.2,283.45 L578.9,283.6 L579.6,284.02 L580.3,283.45 L581,283.32 L581.7,284.07 L582.4,283.98 L583.1,283.83 L583.8,283.37 L584.5,283.28 L585.2,283.36 L585.9,283.17 L586.6,283.14 L587.3,283.61 L588,283.51 L588.7,283.66 L589.4,283.46 L590.1,283.11 L590.8,283.79 L591.5,283.75 L592.2,283.64 L592.9,283.65 L593.6,283.79 L594.3,284.08 L595,283.97 L595.7,283.82 L596.4,283.5 L597.1,283.42 L597.8,283.52 L598.5,284.07 L599.2,283.49 L599.9,283.49 L600.6,283.51 L601.3,283.24 L602,284.1 L602.7,283.11 L603.4,283.71 L604.1,284.03 L604.8,283.35 L605.5,283.71 L606.2,283.48 L606.9,283.34 L607.6,283.3 L608.3,283.22 L609,283.94 L609.7,283.88 L610.4,284.01 L611.1,283.15 L611.8,283.79 L612.5,283.42 L613.2,283.75 L613.9,283.65 L614.6,283.42 L615.3,284.07 L616,283.1 L616.7,283.85 L617.4,283.95 L618.1,283.61 L618.8,283.69 L619.5,284.09 L620.2,283.33 L620.9,283.73 L621.6,283.84 L622.3,283.48 L623,283.81 L623.7,283.49 L624.4,283.63 L625.1,283.71 L625.8,283.78 L626.5,283.42 L627.2,283.73 L627.9,283.64 L628.6,283.32 L629.3,283.71 L630,283.36 L630.7,284.01 L631.4,283.57 L632.1,283.82 L632.8,283.62 L633.5,283.58 L634.2,283.32 L634.9,283.24 L635.6,284.03 L636.3,283.63 L637,283.62 L637.7,283.63 L638.4,283.91 L639.1,283.34 L639.8,283.27 L640.5,283.92 L641.2,283.56 L641.9,283.74 L642.6,283.93 L643.3,283.99 L644,283.97 L644.7,283.14 L645.4,283.48 L646.1,283.93 L646.8,283.92 L647.5,283.22 L648.2,283.25 L648.9,283.35 L649.6,283.2 L650.3,283.46 L651,283.9 L651.7,283.62 L652.4,283.55 L653.1,283.19 L653.8,283.5 L654.5,284.1 L655.2,283.8 L655.9,283.55 L656.6,283.58 L657.3,283.9 L658,283.86 L658.7,283.25 L659.4,283.78 L660.1,283.47 L660.8,283.62 L661.5,283.34 L662.2,283.47 L662.9,283.44 L663.6,283.48 L664.3,283.12 L665,283.3 L665.7,283.67 L666.4,283.16 L667.1,283.28 L667.8,283.82 L668.5,283.37 L669.2,283.42 L669.9,283.34 L670.6,283.93 L671.3,283.19 L672,283.74 L672.7,283.96 L673.4,283.3 L674.1,283.52 L674.8,283.89 L675.5,283.72" fill="none" stroke="#ffc000" stroke-width="2.6" stroke-linejoin="round" />
<line x1="506.96" y1="282.91" x2="508.82" y2="283.41" stroke="#29e629" stroke-width="1.1" />
<line x1="556.01" y1="283.89" x2="557.59" y2="284.03" stroke="#29e629" stroke-width="1.1" />
<line x1="560.32" y1="283.15" x2="561.23" y2="284.11" stroke="#29e629" stroke-width="1.1" />
<line x1="562.63" y1="284.01" x2="564.22" y2="282.89" stroke="#29e629" stroke-width="1.1" />
<line x1="570.12" y1="283.91" x2="571.5" y2="283.73" stroke="#29e629" stroke-width="1.1" />
<line x1="579.73" y1="283.33" x2="581.25" y2="282.81" stroke="#29e629" stroke-width="1.1" />
<line x1="584.69" y1="283.22" x2="585.93" y2="283.21" stroke="#29e629" stroke-width="1.1" />
<line x1="594.96" y1="284.19" x2="596.88" y2="284.17" stroke="#29e629" stroke-width="1.1" />
<line x1="597.73" y1="282.88" x2="599.28" y2="283.4" stroke="#29e629" stroke-width="1.1" />
<line x1="609.28" y1="284.27" x2="610.85" y2="282.88" stroke="#29e629" stroke-width="1.1" />
<line x1="618.42" y1="284.07" x2="619.62" y2="283.94" stroke="#29e629" stroke-width="1.1" />
<line x1="635.61" y1="284.18" x2="636.51" y2="283.75" stroke="#29e629" stroke-width="1.1" />
<line x1="649.36" y1="283.14" x2="651.33" y2="283.03" stroke="#29e629" stroke-width="1.1" />
<line x1="654.11" y1="282.96" x2="655.04" y2="284.05" stroke="#29e629" stroke-width="1.1" />
<line x1="662.94" y1="284.25" x2="664.7" y2="283.05" stroke="#29e629" stroke-width="1.1" />
<line x1="670.11" y1="283.73" x2="671.36" y2="283.7" stroke="#29e629" stroke-width="1.1" />
<path d="M519.8,283.3 L520.5,283.48 L521.2,282.89 L521.9,282.53 L522.6,282.88 L523.3,283.14 L524,282.72 L524.7,283.05 L525.4,282.59 L526.1,282.96 L526.8,283.23 L527.5,282.93 L528.2,283.18 L528.9,282.61 L529.6,283.33 L530.3,282.62 L531,283.42 L531.7,283.5 L532.4,283.44 L533.1,283.03 L533.8,282.79" fill="none" stroke="#29e629" stroke-width="2.4" stroke-linejoin="round" />
<rect x="477.85" y="207.2" width="3.1" height="76.4" fill="#cdf7c4" />
<ellipse cx="479.4" cy="208.2" rx="1.3" ry="2.2" fill="#29e629"/>
<rect x="497.05" y="207.2" width="3.1" height="76.4" fill="#cdf7c4" />
<ellipse cx="498.6" cy="208.2" rx="1.3" ry="2.2" fill="#29e629"/>
<rect x="516.25" y="207.2" width="3.1" height="76.4" fill="#cdf7c4" />
<ellipse cx="517.8" cy="208.2" rx="1.3" ry="2.2" fill="#29e629"/>
<rect x="535.45" y="204.4" width="3.1" height="79.2" fill="#cdf7c4" />
<ellipse cx="537" cy="205.4" rx="1.3" ry="2.2" fill="#29e629"/>
<rect x="555.15" y="204.4" width="3.1" height="79.2" fill="#cdf7c4" />
<ellipse cx="556.7" cy="205.4" rx="1.3" ry="2.2" fill="#29e629"/>
<rect x="574.95" y="204.4" width="3.1" height="79.2" fill="#cdf7c4" />
<ellipse cx="576.5" cy="205.4" rx="1.3" ry="2.2" fill="#29e629"/>
<rect x="594.25" y="204.4" width="3.1" height="79.2" fill="#cdf7c4" />
<ellipse cx="595.8" cy="205.4" rx="1.3" ry="2.2" fill="#29e629"/>
<rect x="613.55" y="204.4" width="3.1" height="79.2" fill="#cdf7c4" />
<ellipse cx="615.1" cy="205.4" rx="1.3" ry="2.2" fill="#29e629"/>
<rect x="632.75" y="204.4" width="3.1" height="79.2" fill="#cdf7c4" />
<ellipse cx="634.3" cy="205.4" rx="1.3" ry="2.2" fill="#29e629"/>
<rect x="652.15" y="204.4" width="3.1" height="79.2" fill="#cdf7c4" />
<ellipse cx="653.7" cy="205.4" rx="1.3" ry="2.2" fill="#29e629"/>
<rect x="671.55" y="204.4" width="3.1" height="79.2" fill="#cdf7c4" />
<ellipse cx="673.1" cy="205.4" rx="1.3" ry="2.2" fill="#29e629"/>
<rect x="487.95" y="209" width="2.7" height="74.6" fill="#ffe7aa" />
<ellipse cx="489.3" cy="210" rx="1.3" ry="2.2" fill="#ffc000"/>
<rect x="507.15" y="209" width="2.7" height="74.6" fill="#ffe7aa" />
<ellipse cx="508.5" cy="210" rx="1.3" ry="2.2" fill="#ffc000"/>
<rect x="545.25" y="213.4" width="2.7" height="70.2" fill="#ffe7aa" />
<ellipse cx="546.6" cy="214.4" rx="1.3" ry="2.2" fill="#ffc000"/>
<rect x="564.35" y="213.4" width="2.7" height="70.2" fill="#ffe7aa" />
<ellipse cx="565.7" cy="214.4" rx="1.3" ry="2.2" fill="#ffc000"/>
<rect x="584.25" y="213.4" width="2.7" height="70.2" fill="#ffe7aa" />
<ellipse cx="585.6" cy="214.4" rx="1.3" ry="2.2" fill="#ffc000"/>
<rect x="603.65" y="213.4" width="2.7" height="70.2" fill="#ffe7aa" />
<ellipse cx="605" cy="214.4" rx="1.3" ry="2.2" fill="#ffc000"/>
<rect x="623.15" y="213.4" width="2.7" height="70.2" fill="#ffe7aa" />
<ellipse cx="624.5" cy="214.4" rx="1.3" ry="2.2" fill="#ffc000"/>
<rect x="642.55" y="213.4" width="2.7" height="70.2" fill="#ffe7aa" />
<ellipse cx="643.9" cy="214.4" rx="1.3" ry="2.2" fill="#ffc000"/>
<rect x="661.75" y="213.4" width="2.7" height="70.2" fill="#ffe7aa" />
<ellipse cx="663.1" cy="214.4" rx="1.3" ry="2.2" fill="#ffc000"/>
<line x1="518.4" y1="283.6" x2="518.4" y2="209" stroke="#ffdc8a" stroke-width="1" />
<line x1="533.4" y1="283.6" x2="533.4" y2="215" stroke="#ffdc8a" stroke-width="1" />
<path d="M518.8,208.2 Q526,210.5 533.4,214.8" fill="none" stroke="#ffc000" stroke-width="2.6" stroke-linecap="round"/>
<line x1="517.2" y1="108.8" x2="517.2" y2="218.5" stroke="#111" stroke-width="1.2" stroke-dasharray="1.3 1.1"/>
<line x1="550.5" y1="108.8" x2="550.5" y2="132.8" stroke="#111" stroke-width="1.2" stroke-dasharray="1.3 1.1"/>
<line x1="520.3" y1="171.4" x2="520.3" y2="218.5" stroke="#111" stroke-width="1.2" stroke-dasharray="1.3 1.1"/>
<line x1="522.64" y1="114.8" x2="545.16" y2="114.8" stroke="#000" stroke-width="1.4" />
<path d="M517.6,114.8 L523.9,111.52 L523.14,114.8 L523.9,118.08 Z" fill="#000"/>
<path d="M550.2,114.8 L543.9,118.08 L544.66,114.8 L543.9,111.52 Z" fill="#000"/>
<text x="519.6" y="109.4" font-size="12" font-weight="bold" fill="#000" textLength="27.6" lengthAdjust="spacingAndGlyphs" >1.7μs</text>
<text x="477.6" y="140.3" font-size="13.2" font-weight="bold" fill="#000" textLength="28.2" lengthAdjust="spacingAndGlyphs" >73mV</text>
<line x1="509" y1="129.44" x2="509" y2="139.76" stroke="#000" stroke-width="1.4" />
<path d="M509,124.4 L512.28,130.7 L509,129.94 L505.72,130.7 Z" fill="#000"/>
<path d="M509,144.8 L505.72,138.5 L509,139.26 L512.28,138.5 Z" fill="#000"/>
<line x1="502.2" y1="146.8" x2="537" y2="146.8" stroke="#111" stroke-width="1.2" stroke-dasharray="1.3 1.1"/>
<line x1="501.6" y1="122.3" x2="517" y2="122.3" stroke="#333" stroke-width="1.2" stroke-dasharray="1.3 1.1"/>
<line x1="500.4" y1="185.8" x2="511.42" y2="185.8" stroke="#000" stroke-width="1.4" />
<path d="M516.8,185.8 L510.08,189.29 L510.89,185.8 L510.08,182.31 Z" fill="#000"/>
<line x1="535.7" y1="185.8" x2="526.18" y2="185.8" stroke="#000" stroke-width="1.4" />
<path d="M520.8,185.8 L527.52,182.31 L526.71,185.8 L527.52,189.29 Z" fill="#000"/>
<text x="531.3" y="181.6" font-size="13.6" font-weight="bold" fill="#000" textLength="94.9" lengthAdjust="spacingAndGlyphs" >PWM1 extended</text>
<text x="542.6" y="196.3" font-size="13.6" font-weight="bold" fill="#000" textLength="71.6" lengthAdjust="spacingAndGlyphs" >immediately</text>
<text x="622.3" y="197.3" font-size="15" font-weight="bold" fill="#ffc000" textLength="8.5" lengthAdjust="spacingAndGlyphs" >V</text>
<text x="630.8" y="197.3" font-size="10" font-weight="bold" fill="#ffc000" textLength="17" lengthAdjust="spacingAndGlyphs" >SW1</text>
<text x="648.5" y="197.3" font-size="15" font-weight="bold" fill="#22ee22" textLength="8.5" lengthAdjust="spacingAndGlyphs" >V</text>
<text x="657" y="197.3" font-size="10" font-weight="bold" fill="#22ee22" textLength="17.6" lengthAdjust="spacingAndGlyphs" >SW2</text>
<line x1="488.7" y1="281" x2="488.7" y2="299.5" stroke="#111" stroke-width="1.2" stroke-dasharray="1.3 1.1"/>
<line x1="508" y1="281" x2="508" y2="299.5" stroke="#111" stroke-width="1.2" stroke-dasharray="1.3 1.1"/>
<line x1="475.2" y1="291.8" x2="482.96" y2="291.8" stroke="#000" stroke-width="1.4" />
<path d="M488,291.8 L481.7,295.08 L482.46,291.8 L481.7,288.52 Z" fill="#000"/>
<line x1="520.5" y1="291.8" x2="513.54" y2="291.8" stroke="#000" stroke-width="1.4" />
<path d="M508.5,291.8 L514.8,288.52 L514.04,291.8 L514.8,295.08 Z" fill="#000"/>
<text x="495.2" y="298" font-size="9.5" font-weight="bold" fill="#000" >T</text>
<text x="622.3" y="299.6" font-size="10.5" font-weight="bold" fill="#000" textLength="9.8" lengthAdjust="spacingAndGlyphs" >5V</text>
<line x1="636.3" y1="287.24" x2="636.3" y2="307.36" stroke="#000" stroke-width="1.4" />
<path d="M636.3,282.2 L639.58,288.5 L636.3,287.74 L633.02,288.5 Z" fill="#000"/>
<path d="M636.3,312.4 L633.02,306.1 L636.3,306.86 L639.58,306.1 Z" fill="#000"/>
<line x1="641.34" y1="312.6" x2="670.16" y2="312.6" stroke="#000" stroke-width="1.4" />
<path d="M636.3,312.6 L642.6,309.32 L641.84,312.6 L642.6,315.88 Z" fill="#000"/>
<path d="M675.2,312.6 L668.9,315.88 L669.66,312.6 L668.9,309.32 Z" fill="#000"/>
<text x="648.3" y="308" font-size="10" font-weight="bold" fill="#000" textLength="14.5" lengthAdjust="spacingAndGlyphs" >2μs</text>
<text x="472.2" y="126.5" font-size="6.5" fill="#ff1090">T</text>
<path d="M473.9,125 L477.4,127.5 L473.9,128.5 Z" fill="#ff1090"/>
<text x="469.8" y="286.4" font-size="7.5" font-weight="normal" fill="#8ad83a" >2</text>
<path d="M474.4,282.1 L477.4,283.6 L474.4,285.1 Z" fill="#ffc000"/>
<text x="469.8" y="306" font-size="7.5" font-weight="normal" fill="#ff1090" >4</text>
<path d="M473.4,304 L477.4,307 L473.4,307.5 Z" fill="#ff1090"/>
<line x1="731.18" y1="59.2" x2="731.18" y2="313.6" stroke="#d3d3d3" stroke-width="1" />
<line x1="770.96" y1="59.2" x2="770.96" y2="313.6" stroke="#d3d3d3" stroke-width="1" />
<line x1="810.74" y1="59.2" x2="810.74" y2="313.6" stroke="#d3d3d3" stroke-width="1" />
<line x1="850.52" y1="59.2" x2="850.52" y2="313.6" stroke="#d3d3d3" stroke-width="1" />
<line x1="691.4" y1="91" x2="890.3" y2="91" stroke="#d3d3d3" stroke-width="1" />
<line x1="691.4" y1="122.8" x2="890.3" y2="122.8" stroke="#d3d3d3" stroke-width="1" />
<line x1="691.4" y1="154.6" x2="890.3" y2="154.6" stroke="#d3d3d3" stroke-width="1" />
<line x1="691.4" y1="186.4" x2="890.3" y2="186.4" stroke="#d3d3d3" stroke-width="1" />
<line x1="691.4" y1="218.2" x2="890.3" y2="218.2" stroke="#d3d3d3" stroke-width="1" />
<line x1="691.4" y1="250" x2="890.3" y2="250" stroke="#d3d3d3" stroke-width="1" />
<line x1="691.4" y1="281.8" x2="890.3" y2="281.8" stroke="#d3d3d3" stroke-width="1" />
<line x1="691.4" y1="184.9" x2="691.4" y2="187.9" stroke="#c4c4c4" stroke-width="0.8" />
<line x1="699.36" y1="184.9" x2="699.36" y2="187.9" stroke="#c4c4c4" stroke-width="0.8" />
<line x1="707.31" y1="184.9" x2="707.31" y2="187.9" stroke="#c4c4c4" stroke-width="0.8" />
<line x1="715.27" y1="184.9" x2="715.27" y2="187.9" stroke="#c4c4c4" stroke-width="0.8" />
<line x1="723.22" y1="184.9" x2="723.22" y2="187.9" stroke="#c4c4c4" stroke-width="0.8" />
<line x1="731.18" y1="184.9" x2="731.18" y2="187.9" stroke="#c4c4c4" stroke-width="0.8" />
<line x1="739.14" y1="184.9" x2="739.14" y2="187.9" stroke="#c4c4c4" stroke-width="0.8" />
<line x1="747.09" y1="184.9" x2="747.09" y2="187.9" stroke="#c4c4c4" stroke-width="0.8" />
<line x1="755.05" y1="184.9" x2="755.05" y2="187.9" stroke="#c4c4c4" stroke-width="0.8" />
<line x1="763" y1="184.9" x2="763" y2="187.9" stroke="#c4c4c4" stroke-width="0.8" />
<line x1="770.96" y1="184.9" x2="770.96" y2="187.9" stroke="#c4c4c4" stroke-width="0.8" />
<line x1="778.92" y1="184.9" x2="778.92" y2="187.9" stroke="#c4c4c4" stroke-width="0.8" />
<line x1="786.87" y1="184.9" x2="786.87" y2="187.9" stroke="#c4c4c4" stroke-width="0.8" />
<line x1="794.83" y1="184.9" x2="794.83" y2="187.9" stroke="#c4c4c4" stroke-width="0.8" />
<line x1="802.78" y1="184.9" x2="802.78" y2="187.9" stroke="#c4c4c4" stroke-width="0.8" />
<line x1="810.74" y1="184.9" x2="810.74" y2="187.9" stroke="#c4c4c4" stroke-width="0.8" />
<line x1="818.7" y1="184.9" x2="818.7" y2="187.9" stroke="#c4c4c4" stroke-width="0.8" />
<line x1="826.65" y1="184.9" x2="826.65" y2="187.9" stroke="#c4c4c4" stroke-width="0.8" />
<line x1="834.61" y1="184.9" x2="834.61" y2="187.9" stroke="#c4c4c4" stroke-width="0.8" />
<line x1="842.56" y1="184.9" x2="842.56" y2="187.9" stroke="#c4c4c4" stroke-width="0.8" />
<line x1="850.52" y1="184.9" x2="850.52" y2="187.9" stroke="#c4c4c4" stroke-width="0.8" />
<line x1="858.48" y1="184.9" x2="858.48" y2="187.9" stroke="#c4c4c4" stroke-width="0.8" />
<line x1="866.43" y1="184.9" x2="866.43" y2="187.9" stroke="#c4c4c4" stroke-width="0.8" />
<line x1="874.39" y1="184.9" x2="874.39" y2="187.9" stroke="#c4c4c4" stroke-width="0.8" />
<line x1="882.34" y1="184.9" x2="882.34" y2="187.9" stroke="#c4c4c4" stroke-width="0.8" />
<line x1="888.8" y1="59.2" x2="891.8" y2="59.2" stroke="#c4c4c4" stroke-width="0.8" />
<line x1="888.8" y1="65.56" x2="891.8" y2="65.56" stroke="#c4c4c4" stroke-width="0.8" />
<line x1="888.8" y1="71.92" x2="891.8" y2="71.92" stroke="#c4c4c4" stroke-width="0.8" />
<line x1="888.8" y1="78.28" x2="891.8" y2="78.28" stroke="#c4c4c4" stroke-width="0.8" />
<line x1="888.8" y1="84.64" x2="891.8" y2="84.64" stroke="#c4c4c4" stroke-width="0.8" />
<line x1="888.8" y1="91" x2="891.8" y2="91" stroke="#c4c4c4" stroke-width="0.8" />
<line x1="888.8" y1="97.36" x2="891.8" y2="97.36" stroke="#c4c4c4" stroke-width="0.8" />
<line x1="888.8" y1="103.72" x2="891.8" y2="103.72" stroke="#c4c4c4" stroke-width="0.8" />
<line x1="888.8" y1="110.08" x2="891.8" y2="110.08" stroke="#c4c4c4" stroke-width="0.8" />
<line x1="888.8" y1="116.44" x2="891.8" y2="116.44" stroke="#c4c4c4" stroke-width="0.8" />
<line x1="888.8" y1="122.8" x2="891.8" y2="122.8" stroke="#c4c4c4" stroke-width="0.8" />
<line x1="888.8" y1="129.16" x2="891.8" y2="129.16" stroke="#c4c4c4" stroke-width="0.8" />
<line x1="888.8" y1="135.52" x2="891.8" y2="135.52" stroke="#c4c4c4" stroke-width="0.8" />
<line x1="888.8" y1="141.88" x2="891.8" y2="141.88" stroke="#c4c4c4" stroke-width="0.8" />
<line x1="888.8" y1="148.24" x2="891.8" y2="148.24" stroke="#c4c4c4" stroke-width="0.8" />
<line x1="888.8" y1="154.6" x2="891.8" y2="154.6" stroke="#c4c4c4" stroke-width="0.8" />
<line x1="888.8" y1="160.96" x2="891.8" y2="160.96" stroke="#c4c4c4" stroke-width="0.8" />
<line x1="888.8" y1="167.32" x2="891.8" y2="167.32" stroke="#c4c4c4" stroke-width="0.8" />
<line x1="888.8" y1="173.68" x2="891.8" y2="173.68" stroke="#c4c4c4" stroke-width="0.8" />
<line x1="888.8" y1="180.04" x2="891.8" y2="180.04" stroke="#c4c4c4" stroke-width="0.8" />
<line x1="888.8" y1="186.4" x2="891.8" y2="186.4" stroke="#c4c4c4" stroke-width="0.8" />
<line x1="888.8" y1="192.76" x2="891.8" y2="192.76" stroke="#c4c4c4" stroke-width="0.8" />
<line x1="888.8" y1="199.12" x2="891.8" y2="199.12" stroke="#c4c4c4" stroke-width="0.8" />
<line x1="888.8" y1="205.48" x2="891.8" y2="205.48" stroke="#c4c4c4" stroke-width="0.8" />
<line x1="888.8" y1="211.84" x2="891.8" y2="211.84" stroke="#c4c4c4" stroke-width="0.8" />
<line x1="888.8" y1="218.2" x2="891.8" y2="218.2" stroke="#c4c4c4" stroke-width="0.8" />
<line x1="888.8" y1="224.56" x2="891.8" y2="224.56" stroke="#c4c4c4" stroke-width="0.8" />
<line x1="888.8" y1="230.92" x2="891.8" y2="230.92" stroke="#c4c4c4" stroke-width="0.8" />
<line x1="888.8" y1="237.28" x2="891.8" y2="237.28" stroke="#c4c4c4" stroke-width="0.8" />
<line x1="888.8" y1="243.64" x2="891.8" y2="243.64" stroke="#c4c4c4" stroke-width="0.8" />
<line x1="888.8" y1="250" x2="891.8" y2="250" stroke="#c4c4c4" stroke-width="0.8" />
<line x1="888.8" y1="256.36" x2="891.8" y2="256.36" stroke="#c4c4c4" stroke-width="0.8" />
<line x1="888.8" y1="262.72" x2="891.8" y2="262.72" stroke="#c4c4c4" stroke-width="0.8" />
<line x1="888.8" y1="269.08" x2="891.8" y2="269.08" stroke="#c4c4c4" stroke-width="0.8" />
<line x1="888.8" y1="275.44" x2="891.8" y2="275.44" stroke="#c4c4c4" stroke-width="0.8" />
<line x1="888.8" y1="281.8" x2="891.8" y2="281.8" stroke="#c4c4c4" stroke-width="0.8" />
<line x1="888.8" y1="288.16" x2="891.8" y2="288.16" stroke="#c4c4c4" stroke-width="0.8" />
<line x1="888.8" y1="294.52" x2="891.8" y2="294.52" stroke="#c4c4c4" stroke-width="0.8" />
<line x1="888.8" y1="300.88" x2="891.8" y2="300.88" stroke="#c4c4c4" stroke-width="0.8" />
<line x1="888.8" y1="307.24" x2="891.8" y2="307.24" stroke="#c4c4c4" stroke-width="0.8" />
<line x1="691.4" y1="59.2" x2="691.4" y2="313.6" stroke="#a6a6a6" stroke-width="1.2" />
<line x1="691.4" y1="313.6" x2="890.3" y2="313.6" stroke="#a8b4c8" stroke-width="1.2" />
<path d="M683.4,59 L683.4,46.8 Q683.4,45.5 684.8,45.5 L890.8,45.5 Q892.3,45.5 892.3,47 L892.3,318.8 L684.5,318.8 Q683.2,318.8 683.2,317.5 L683.2,314.6 Q683.2,313.3 684.5,313.3 L891.5,313.3" fill="none" stroke="#6e6e6e" stroke-width="1.3"/>
<clipPath id="hc3"><rect x="683.4" y="47.2" width="206.8" height="12"/></clipPath>
<g clip-path="url(#hc3)">
<rect x="683.4" y="47.2" width="206.8" height="12" fill="#7f9fcf" />
<line x1="683.4" y1="47.6" x2="890.2" y2="47.6" stroke="#9db4da" stroke-width="0.8" />
<line x1="683.4" y1="58.8" x2="890.2" y2="58.8" stroke="#6a86b3" stroke-width="0.8" />
<rect x="684" y="48" width="6" height="10.4" fill="#0a0a0a" rx="1.2" stroke="#505050" stroke-width="0.5"/>
<text x="687" y="56.2" font-size="8.88" font-weight="bold" fill="#c8c400" text-anchor="middle" >1</text>
<text x="697.8" y="55.96" font-size="10.32" font-weight="normal" fill="#2b3342" textLength="27" lengthAdjust="spacingAndGlyphs" stroke="#2b3342" stroke-width="0.35">5.00V/</text>
<rect x="733.8" y="48" width="6" height="10.4" fill="#0a0a0a" rx="1.2" stroke="#505050" stroke-width="0.5"/>
<text x="736.8" y="56.2" font-size="8.88" font-weight="bold" fill="#18c818" text-anchor="middle" >2</text>
<text x="747.6" y="55.96" font-size="10.32" font-weight="normal" fill="#2b3342" textLength="26.4" lengthAdjust="spacingAndGlyphs" stroke="#2b3342" stroke-width="0.35">5.00V/</text>
<rect x="784" y="48" width="5.4" height="10.4" fill="#0a1540" rx="1.2" stroke="#505050" stroke-width="0.5"/>
<text x="786.7" y="56.2" font-size="8.88" font-weight="bold" fill="#2850e0" text-anchor="middle" >3</text>
<rect x="833" y="48" width="5.6" height="10.4" fill="#0a0a0a" rx="1.2" stroke="#505050" stroke-width="0.5"/>
<text x="835.8" y="56.2" font-size="8.88" font-weight="bold" fill="#e0108a" text-anchor="middle" >4</text>
<text x="848.7" y="55.96" font-size="10.32" font-weight="normal" fill="#2b3342" textLength="15.62" lengthAdjust="spacingAndGlyphs" stroke="#2b3342" stroke-width="0.35">100</text>
<text x="866.66" y="52.04" font-size="4.33" font-weight="bold" fill="#2b3342" text-anchor="middle" >m</text>
<text x="866.66" y="55.96" font-size="6.4" font-weight="bold" fill="#2b3342" text-anchor="middle" >V</text>
<text x="869" y="55.96" font-size="10.32" font-weight="normal" fill="#2b3342" textLength="2.6" lengthAdjust="spacingAndGlyphs" stroke="#2b3342" stroke-width="0.35">/</text>
<circle cx="890.3" cy="53.2" r="1.89" fill="none" stroke="#2a3550" stroke-width="0.9"/>
<line x1="893.03" y1="53.2" x2="894.5" y2="53.2" stroke="#2a3550" stroke-width="0.8" />
<line x1="892.23" y1="55.13" x2="893.27" y2="56.17" stroke="#2a3550" stroke-width="0.8" />
<line x1="890.3" y1="55.93" x2="890.3" y2="57.4" stroke="#2a3550" stroke-width="0.8" />
<line x1="888.37" y1="55.13" x2="887.33" y2="56.17" stroke="#2a3550" stroke-width="0.8" />
<line x1="887.57" y1="53.2" x2="886.1" y2="53.2" stroke="#2a3550" stroke-width="0.8" />
<line x1="888.37" y1="51.27" x2="887.33" y2="50.23" stroke="#2a3550" stroke-width="0.8" />
<line x1="890.3" y1="50.47" x2="890.3" y2="49" stroke="#2a3550" stroke-width="0.8" />
<line x1="892.23" y1="51.27" x2="893.27" y2="50.23" stroke="#2a3550" stroke-width="0.8" />
</g>
<path d="M734.9,59.4 L739.9,59.4 L737.4,62.4 Z" fill="#ff8c1a"/>
<path d="M691.4,122.57 L691.9,123.17 L692.4,122.79 L692.9,123.44 L693.4,122.18 L693.9,122.77 L694.4,123.34 L694.9,122.94 L695.4,122.85 L695.9,122.17 L696.4,122.25 L696.9,122.44 L697.4,123.37 L697.9,123.3 L698.4,122.37 L698.9,123.42 L699.4,122.08 L699.9,122.92 L700.4,123.47 L700.9,122.54 L701.4,123.44 L701.9,123 L702.4,122.09 L702.9,122.52 L703.4,122.69 L703.9,122.38 L704.4,123.12 L704.9,122.28 L705.4,123.19 L705.9,122.45 L706.4,122.11 L706.9,122.84 L707.4,122.14 L707.9,122.83 L708.4,123.18 L708.9,122.89 L709.4,122.69 L709.9,122.04 L710.4,122.76 L710.9,122.14 L711.4,122.96 L711.9,122.18 L712.4,122.85 L712.9,122.51 L713.4,122.54 L713.9,122.98 L714.4,122.23 L714.9,122.23 L715.4,123.39 L715.9,122.47 L716.4,123.24 L716.9,123.28 L717.4,122.69 L717.9,122.19 L718.4,122.11 L718.9,123.29 L719.4,122.14 L719.9,122.71 L720.4,122.77 L720.9,122.14 L721.4,122.66 L721.9,122.21 L722.4,122.76 L722.9,122.72 L723.4,122.51 L723.9,122.25 L724.4,122.56 L724.9,122.26 L725.4,122.15 L725.9,122.31 L726.4,123.26 L726.9,122.71 L727.4,123.29 L727.9,121.97 L728.4,123.37 L728.9,122.68 L729.4,123.14 L729.9,122.81 L730.4,122.98 L730.9,122.29 L731.4,123.08 L731.9,122.18 L732.4,122.99 L732.9,124.25 L733.4,126.9 L733.9,129.22 L734.4,130.65 L734.9,133.22 L735.4,133.68 L735.9,136.08 L736.4,137.18 L736.9,139.37 L737.4,141.39 L737.9,143.02 L738.4,143.68 L738.9,145.4 L739.4,147.07 L739.9,148.53 L740.4,147.99 L740.9,149.71 L741.4,150.64 L741.9,151.57 L742.4,151.53 L742.9,152.8 L743.4,152.72 L743.9,153.7 L744.4,152.46 L744.9,153.83 L745.4,152.92 L745.9,152.71 L746.4,151.97 L746.9,151.89 L747.4,152.27 L747.9,151.8 L748.4,150.61 L748.9,150.49 L749.4,149.64 L749.9,149.06 L750.4,148.33 L750.9,147.69 L751.4,147.84 L751.9,147.09 L752.4,146.07 L752.9,144.96 L753.4,144.37 L753.9,144.19 L754.4,143.79 L754.9,142.97 L755.4,142.23 L755.9,141.02 L756.4,141.12 L756.9,140.93 L757.4,140.32 L757.9,138.77 L758.4,139.2 L758.9,138.15 L759.4,137.39 L759.9,138.13 L760.4,137.24 L760.9,136.92 L761.4,135.61 L761.9,136.27 L762.4,136.07 L762.9,135.67 L763.4,135.09 L763.9,134.89 L764.4,134.53 L764.9,133.91 L765.4,133.38 L765.9,133.68 L766.4,133.34 L766.9,133.21 L767.4,132.1 L767.9,132.85 L768.4,131.98 L768.9,132.38 L769.4,130.93 L769.9,132 L770.4,131.52 L770.9,130.52 L771.4,131.19 L771.9,130.07 L772.4,129.8 L772.9,129.97 L773.4,129.41 L773.9,129.56 L774.4,129.95 L774.9,129.39 L775.4,129.19 L775.9,128.49 L776.4,128.85 L776.9,128.65 L777.4,128.27 L777.9,128.46 L778.4,128.09 L778.9,127.27 L779.4,126.6 L779.9,127.26 L780.4,127.35 L780.9,126.43 L781.4,126.65 L781.9,126.86 L782.4,126.67 L782.9,125.38 L783.4,126.01 L783.9,125.21 L784.4,125.26 L784.9,126.22 L785.4,125.56 L785.9,125.77 L786.4,125.49 L786.9,125.27 L787.4,125.07 L787.9,125.28 L788.4,126.02 L788.9,125.69 L789.4,125.21 L789.9,124.92 L790.4,125.22 L790.9,125.88 L791.4,125.52 L791.9,125.87 L792.4,126.12 L792.9,125.12 L793.4,125.99 L793.9,125.05 L794.4,126.26 L794.9,125.33 L795.4,125.49 L795.9,126.54 L796.4,125.68 L796.9,125.49 L797.4,126.51 L797.9,126.11 L798.4,126.56 L798.9,125.82 L799.4,125.99 L799.9,126.68 L800.4,126.01 L800.9,126.74 L801.4,125.55 L801.9,126.51 L802.4,125.51 L802.9,126.07 L803.4,125.28 L803.9,125.55 L804.4,126.71 L804.9,125.97 L805.4,126.51 L805.9,125.68 L806.4,125.83 L806.9,125.46 L807.4,126.14 L807.9,126.61 L808.4,126.09 L808.9,125.89 L809.4,126.72 L809.9,126.67 L810.4,126.33 L810.9,125.45 L811.4,126.28 L811.9,126.01 L812.4,126.79 L812.9,125.89 L813.4,126.35 L813.9,126.31 L814.4,125.93 L814.9,126.15 L815.4,126.38 L815.9,126.73 L816.4,126.12 L816.9,125.92 L817.4,126.84 L817.9,125.47 L818.4,126.64 L818.9,126.41 L819.4,126.23 L819.9,126.07 L820.4,126.52 L820.9,126.74 L821.4,126.49 L821.9,126.53 L822.4,125.46 L822.9,125.9 L823.4,125.62 L823.9,126.84 L824.4,126.75 L824.9,125.63 L825.4,126.3 L825.9,126.29 L826.4,125.49 L826.9,126.01 L827.4,126.55 L827.9,126.39 L828.4,125.85 L828.9,126.58 L829.4,125.87 L829.9,126.25 L830.4,126.07 L830.9,126.91 L831.4,126.41 L831.9,126.65 L832.4,126.46 L832.9,126.01 L833.4,126.89 L833.9,126.51 L834.4,126.48 L834.9,125.86 L835.4,125.69 L835.9,126.31 L836.4,126.69 L836.9,126.64 L837.4,125.97 L837.9,125.66 L838.4,126.22 L838.9,126.77 L839.4,125.69 L839.9,126.56 L840.4,125.71 L840.9,125.92 L841.4,125.53 L841.9,125.9 L842.4,126.02 L842.9,126.9 L843.4,126.89 L843.9,125.73 L844.4,125.91 L844.9,126.86 L845.4,125.74 L845.9,125.93 L846.4,126.1 L846.9,125.61 L847.4,125.83 L847.9,126.03 L848.4,126.02 L848.9,126.88 L849.4,125.84 L849.9,125.74 L850.4,126.8 L850.9,126.11 L851.4,126.69 L851.9,126.39 L852.4,126.6 L852.9,125.9 L853.4,125.65 L853.9,126.56 L854.4,126.13 L854.9,126.26 L855.4,126.42 L855.9,126.55 L856.4,125.83 L856.9,125.96 L857.4,126.79 L857.9,126.2 L858.4,125.84 L858.9,126.35 L859.4,125.79 L859.9,126.56 L860.4,125.46 L860.9,126.64 L861.4,126.24 L861.9,125.92 L862.4,126.8 L862.9,125.78 L863.4,125.75 L863.9,125.49 L864.4,126.2 L864.9,126.51 L865.4,126.39 L865.9,125.99 L866.4,126.58 L866.9,125.53 L867.4,125.82 L867.9,126.33 L868.4,126.81 L868.9,126.31 L869.4,126.39 L869.9,126.51 L870.4,125.94 L870.9,126.76 L871.4,126.46 L871.9,125.85 L872.4,125.93 L872.9,126.54 L873.4,125.86 L873.9,125.61 L874.4,126.63 L874.9,126.12 L875.4,126.1 L875.9,126.32 L876.4,126.67 L876.9,125.51 L877.4,125.82 L877.9,125.41 L878.4,125.93 L878.9,126.06 L879.4,126.58 L879.9,126.3 L880.4,126.16 L880.9,125.9 L881.4,126.15 L881.9,125.7 L882.4,126.55 L882.9,126.47 L883.4,126.54 L883.9,125.51 L884.4,126.28 L884.9,126.4 L885.4,126.02 L885.9,126.62 L886.4,126.61 L886.9,126.38 L887.4,126.49 L887.9,126.23 L888.4,126.58 L888.9,125.45 L889.4,126.31 L889.9,126.31" fill="none" stroke="#ff0582" stroke-width="2.8" stroke-linejoin="round" />
<text x="860.5" y="120.1" font-size="15" font-weight="bold" fill="#ff0582" textLength="10" lengthAdjust="spacingAndGlyphs" >V</text>
<text x="870.5" y="120.1" font-size="10" font-weight="bold" fill="#ff0582" textLength="14.9" lengthAdjust="spacingAndGlyphs" >OUT</text>
<path d="M691.4,284.41 L692.1,284.08 L692.8,283.87 L693.5,284.4 L694.2,284.62 L694.9,284.07 L695.6,284.01 L696.3,284.02 L697,283.89 L697.7,284.48 L698.4,284.77 L699.1,284.6 L699.8,284.16 L700.5,284.5 L701.2,283.87 L701.9,284.64 L702.6,284.13 L703.3,283.8 L704,284.43 L704.7,283.94 L705.4,284.08 L706.1,283.86 L706.8,284.25 L707.5,284.35 L708.2,284.61 L708.9,283.84 L709.6,284.63 L710.3,283.91 L711,284.02 L711.7,284.43 L712.4,284.14 L713.1,284.13 L713.8,284.37 L714.5,284.02 L715.2,284.59 L715.9,284.01 L716.6,284.64 L717.3,284.61 L718,284.34 L718.7,283.83 L719.4,284.58 L720.1,283.83 L720.8,284.3 L721.5,284.22 L722.2,283.86 L722.9,284.43 L723.6,284.52 L724.3,284.38 L725,284.2 L725.7,284.31 L726.4,284.39 L727.1,284.03 L727.8,284.67 L728.5,284.8 L729.2,284.6 L729.9,284.76 L730.6,284.13 L731.3,284.79 L732,283.87 L732.7,284.28 L733.4,283.93 L734.1,284.25" fill="none" stroke="#ffc000" stroke-width="2.6" stroke-linejoin="round" />
<path d="M749.6,284.48 L750.3,284.51 L751,284.25 L751.7,284.14 L752.4,283.99 L753.1,284.2 L753.8,284.08 L754.5,283.99 L755.2,284.54 L755.9,284.32 L756.6,284.24 L757.3,284 L758,284.5 L758.7,284 L759.4,284.07 L760.1,284.36 L760.8,284.5 L761.5,284.77 L762.2,284.55 L762.9,284.75 L763.6,284.72 L764.3,284.52 L765,284.52 L765.7,283.86 L766.4,284.01 L767.1,283.81 L767.8,284.66 L768.5,284.52 L769.2,284.43 L769.9,284.06 L770.6,284.16 L771.3,283.96 L772,284.43 L772.7,284.79 L773.4,284.11 L774.1,283.84 L774.8,283.98 L775.5,284.16 L776.2,284.7 L776.9,284.6 L777.6,284.26 L778.3,283.9 L779,283.91 L779.7,283.95 L780.4,284.58 L781.1,284.27 L781.8,284.79 L782.5,284.71 L783.2,284.59 L783.9,284.28 L784.6,284.62 L785.3,283.93 L786,283.91 L786.7,284.36 L787.4,284.31 L788.1,284.01 L788.8,284.05 L789.5,283.82 L790.2,284.71 L790.9,284.51 L791.6,284.75 L792.3,284.78 L793,284.24 L793.7,284.53 L794.4,284.18 L795.1,284.61 L795.8,284.64 L796.5,283.93 L797.2,283.81 L797.9,284.01 L798.6,284.39 L799.3,284.18 L800,283.81 L800.7,284.63 L801.4,284.59 L802.1,284.26 L802.8,283.84 L803.5,284.69 L804.2,284.33 L804.9,283.87 L805.6,284.12 L806.3,284.42 L807,284.69 L807.7,284.28 L808.4,284.44 L809.1,284.01 L809.8,284.04 L810.5,284.71 L811.2,284.18 L811.9,283.9 L812.6,284.39 L813.3,283.93 L814,284 L814.7,284.26 L815.4,284.39 L816.1,284.44 L816.8,284.51 L817.5,284.24 L818.2,283.87 L818.9,284.52 L819.6,283.85 L820.3,284.27 L821,284.2 L821.7,284.47 L822.4,284.51 L823.1,284.04 L823.8,284.45 L824.5,284.49 L825.2,284.27 L825.9,283.94 L826.6,284.71 L827.3,284.4 L828,283.86 L828.7,284.04 L829.4,284.79 L830.1,284.03 L830.8,284.19 L831.5,284.59 L832.2,284.62 L832.9,284.43 L833.6,284.54 L834.3,283.84 L835,283.89 L835.7,284.78 L836.4,284.6 L837.1,283.84 L837.8,283.85 L838.5,284.04 L839.2,284.73 L839.9,284.02 L840.6,284.47 L841.3,284.73 L842,284.44 L842.7,284.72 L843.4,284.06 L844.1,283.95 L844.8,283.82 L845.5,284.56 L846.2,283.9 L846.9,284.77 L847.6,284.51 L848.3,283.99 L849,284.61 L849.7,283.96 L850.4,284.31 L851.1,283.91 L851.8,284.59 L852.5,284.69 L853.2,284.72 L853.9,283.8 L854.6,284.65 L855.3,284.36 L856,284.62 L856.7,284.3 L857.4,284.42 L858.1,284.39 L858.8,284.6 L859.5,283.88 L860.2,283.85 L860.9,284.35 L861.6,284.09 L862.3,284.2 L863,283.81 L863.7,284.54 L864.4,283.82 L865.1,284.63 L865.8,284.61 L866.5,284.26 L867.2,283.92 L867.9,284.45 L868.6,284.01 L869.3,284.23 L870,283.91 L870.7,284.78 L871.4,284.35 L872.1,284.15 L872.8,283.89 L873.5,284.53 L874.2,284.65 L874.9,284.65 L875.6,283.9 L876.3,284.17 L877,284.1 L877.7,284.56 L878.4,283.95 L879.1,284.41 L879.8,284.78 L880.5,284.57 L881.2,283.81 L881.9,283.87 L882.6,283.91 L883.3,284.49 L884,284.4 L884.7,284.32 L885.4,284.26 L886.1,284.21 L886.8,284.41 L887.5,284.45 L888.2,284.72 L888.9,284.53 L889.6,284.6" fill="none" stroke="#ffc000" stroke-width="2.6" stroke-linejoin="round" />
<path d="M734.8,284.11 L735.5,284.04 L736.2,283.92 L736.9,283.23 L737.6,283.88 L738.3,284.05 L739,283.63 L739.7,284.08 L740.4,283.38 L741.1,284.14 L741.8,283.64 L742.5,283.91 L743.2,283.45 L743.9,283.5 L744.6,283.55 L745.3,283.52 L746,283.29 L746.7,283.64 L747.4,284.18 L748.1,283.85 L748.8,284.13 L749.5,283.96" fill="none" stroke="#29e629" stroke-width="2.4" stroke-linejoin="round" />
<line x1="699.21" y1="284.16" x2="700.03" y2="283.87" stroke="#29e629" stroke-width="1.1" />
<line x1="728.81" y1="284.35" x2="730.52" y2="284.36" stroke="#29e629" stroke-width="1.1" />
<line x1="754.9" y1="283.84" x2="756.1" y2="284.95" stroke="#29e629" stroke-width="1.1" />
<line x1="756.94" y1="284.65" x2="759.13" y2="283.78" stroke="#29e629" stroke-width="1.1" />
<line x1="768.59" y1="283.91" x2="769.43" y2="284.61" stroke="#29e629" stroke-width="1.1" />
<line x1="771.22" y1="285.04" x2="772.92" y2="284.45" stroke="#29e629" stroke-width="1.1" />
<line x1="779.27" y1="283.6" x2="780.16" y2="283.52" stroke="#29e629" stroke-width="1.1" />
<line x1="782.35" y1="283.68" x2="783.84" y2="285.05" stroke="#29e629" stroke-width="1.1" />
<line x1="786.42" y1="284.73" x2="787.47" y2="283.66" stroke="#29e629" stroke-width="1.1" />
<line x1="797.58" y1="284.99" x2="798.86" y2="284.83" stroke="#29e629" stroke-width="1.1" />
<line x1="809.59" y1="283.8" x2="811.66" y2="283.75" stroke="#29e629" stroke-width="1.1" />
<line x1="817.55" y1="283.73" x2="818.49" y2="285.07" stroke="#29e629" stroke-width="1.1" />
<line x1="824.41" y1="283.6" x2="825.23" y2="284.86" stroke="#29e629" stroke-width="1.1" />
<line x1="838.63" y1="283.9" x2="840.55" y2="283.96" stroke="#29e629" stroke-width="1.1" />
<line x1="844.45" y1="283.85" x2="845.78" y2="284.08" stroke="#29e629" stroke-width="1.1" />
<line x1="852.98" y1="284.56" x2="854.95" y2="283.88" stroke="#29e629" stroke-width="1.1" />
<line x1="861.55" y1="283.69" x2="863.02" y2="283.78" stroke="#29e629" stroke-width="1.1" />
<line x1="866.6" y1="284.08" x2="868.05" y2="285" stroke="#29e629" stroke-width="1.1" />
<line x1="870.26" y1="283.86" x2="872.1" y2="284.4" stroke="#29e629" stroke-width="1.1" />
<line x1="879.45" y1="285.01" x2="880.98" y2="283.88" stroke="#29e629" stroke-width="1.1" />
<line x1="884.59" y1="283.92" x2="886.69" y2="284.24" stroke="#29e629" stroke-width="1.1" />
<line x1="888.79" y1="284.22" x2="890.03" y2="283.83" stroke="#29e629" stroke-width="1.1" />
<rect x="695.05" y="208.4" width="3.1" height="75.9" fill="#cdf7c4" />
<ellipse cx="696.6" cy="209.4" rx="1.3" ry="2.2" fill="#29e629"/>
<rect x="714.65" y="208.4" width="3.1" height="75.9" fill="#cdf7c4" />
<ellipse cx="716.2" cy="209.4" rx="1.3" ry="2.2" fill="#29e629"/>
<rect x="734.15" y="208.4" width="3.1" height="75.9" fill="#cdf7c4" />
<ellipse cx="735.7" cy="209.4" rx="1.3" ry="2.2" fill="#29e629"/>
<rect x="753.05" y="204.8" width="3.1" height="79.5" fill="#cdf7c4" />
<ellipse cx="754.6" cy="205.8" rx="1.3" ry="2.2" fill="#29e629"/>
<rect x="772.75" y="204.8" width="3.1" height="79.5" fill="#cdf7c4" />
<ellipse cx="774.3" cy="205.8" rx="1.3" ry="2.2" fill="#29e629"/>
<rect x="792.15" y="204.8" width="3.1" height="79.5" fill="#cdf7c4" />
<ellipse cx="793.7" cy="205.8" rx="1.3" ry="2.2" fill="#29e629"/>
<rect x="811.45" y="204.8" width="3.1" height="79.5" fill="#cdf7c4" />
<ellipse cx="813" cy="205.8" rx="1.3" ry="2.2" fill="#29e629"/>
<rect x="830.85" y="204.8" width="3.1" height="79.5" fill="#cdf7c4" />
<ellipse cx="832.4" cy="205.8" rx="1.3" ry="2.2" fill="#29e629"/>
<rect x="850.15" y="204.8" width="3.1" height="79.5" fill="#cdf7c4" />
<ellipse cx="851.7" cy="205.8" rx="1.3" ry="2.2" fill="#29e629"/>
<rect x="869.45" y="204.8" width="3.1" height="79.5" fill="#cdf7c4" />
<ellipse cx="871" cy="205.8" rx="1.3" ry="2.2" fill="#29e629"/>
<rect x="888.45" y="204.8" width="3.1" height="79.5" fill="#cdf7c4" />
<ellipse cx="890" cy="205.8" rx="1.3" ry="2.2" fill="#29e629"/>
<rect x="705.25" y="207" width="2.7" height="77.3" fill="#ffe7aa" />
<ellipse cx="706.6" cy="208" rx="1.3" ry="2.2" fill="#ffc000"/>
<rect x="724.45" y="207" width="2.7" height="77.3" fill="#ffe7aa" />
<ellipse cx="725.8" cy="208" rx="1.3" ry="2.2" fill="#ffc000"/>
<rect x="762.85" y="214.7" width="2.7" height="69.6" fill="#ffe7aa" />
<ellipse cx="764.2" cy="215.7" rx="1.3" ry="2.2" fill="#ffc000"/>
<rect x="782.25" y="214.7" width="2.7" height="69.6" fill="#ffe7aa" />
<ellipse cx="783.6" cy="215.7" rx="1.3" ry="2.2" fill="#ffc000"/>
<rect x="801.95" y="214.7" width="2.7" height="69.6" fill="#ffe7aa" />
<ellipse cx="803.3" cy="215.7" rx="1.3" ry="2.2" fill="#ffc000"/>
<rect x="821.15" y="214.7" width="2.7" height="69.6" fill="#ffe7aa" />
<ellipse cx="822.5" cy="215.7" rx="1.3" ry="2.2" fill="#ffc000"/>
<rect x="840.45" y="214.7" width="2.7" height="69.6" fill="#ffe7aa" />
<ellipse cx="841.8" cy="215.7" rx="1.3" ry="2.2" fill="#ffc000"/>
<rect x="859.85" y="214.7" width="2.7" height="69.6" fill="#ffe7aa" />
<ellipse cx="861.2" cy="215.7" rx="1.3" ry="2.2" fill="#ffc000"/>
<rect x="879.45" y="214.7" width="2.7" height="69.6" fill="#ffe7aa" />
<ellipse cx="880.8" cy="215.7" rx="1.3" ry="2.2" fill="#ffc000"/>
<line x1="734.6" y1="284.3" x2="734.6" y2="209" stroke="#ffdc8a" stroke-width="1" />
<line x1="749.6" y1="284.3" x2="749.6" y2="215.6" stroke="#ffdc8a" stroke-width="1" />
<path d="M735,208.2 Q743,210.5 749.4,215.2" fill="none" stroke="#ffc000" stroke-width="2.6" stroke-linecap="round"/>
<line x1="731.6" y1="108.8" x2="731.6" y2="218.8" stroke="#111" stroke-width="1.2" stroke-dasharray="1.3 1.1"/>
<line x1="782.6" y1="109.4" x2="782.6" y2="134.3" stroke="#111" stroke-width="1.2" stroke-dasharray="1.3 1.1"/>
<line x1="735.2" y1="171.4" x2="735.2" y2="218.8" stroke="#111" stroke-width="1.2" stroke-dasharray="1.3 1.1"/>
<line x1="736.84" y1="115.6" x2="777.26" y2="115.6" stroke="#000" stroke-width="1.4" />
<path d="M731.8,115.6 L738.1,112.32 L737.34,115.6 L738.1,118.88 Z" fill="#000"/>
<path d="M782.3,115.6 L776,118.88 L776.76,115.6 L776,112.32 Z" fill="#000"/>
<text x="742.5" y="109.4" font-size="12" font-weight="bold" fill="#000" textLength="27" lengthAdjust="spacingAndGlyphs" >2.5μs</text>
<text x="692.8" y="143.6" font-size="13.2" font-weight="bold" fill="#000" textLength="28.8" lengthAdjust="spacingAndGlyphs" >93mV</text>
<line x1="724" y1="129.54" x2="724" y2="147.96" stroke="#000" stroke-width="1.4" />
<path d="M724,124.5 L727.28,130.8 L724,130.04 L720.72,130.8 Z" fill="#000"/>
<path d="M724,153 L720.72,146.7 L724,147.46 L727.28,146.7 Z" fill="#000"/>
<line x1="715.6" y1="154.2" x2="756.3" y2="154.2" stroke="#111" stroke-width="1.2" stroke-dasharray="1.3 1.1"/>
<line x1="715" y1="122.8" x2="731.5" y2="122.8" stroke="#333" stroke-width="1.2" stroke-dasharray="1.3 1.1"/>
<line x1="715.6" y1="186.4" x2="725.82" y2="186.4" stroke="#000" stroke-width="1.4" />
<path d="M731.2,186.4 L724.48,189.89 L725.29,186.4 L724.48,182.91 Z" fill="#000"/>
<line x1="751.5" y1="186.4" x2="740.98" y2="186.4" stroke="#000" stroke-width="1.4" />
<path d="M735.6,186.4 L742.32,182.91 L741.51,186.4 L742.32,189.89 Z" fill="#000"/>
<text x="746.7" y="181.1" font-size="13.6" font-weight="bold" fill="#000" textLength="94.6" lengthAdjust="spacingAndGlyphs" >PWM1 extended</text>
<text x="758.7" y="196.1" font-size="13.6" font-weight="bold" fill="#000" textLength="71" lengthAdjust="spacingAndGlyphs" >immediately</text>
<text x="838.2" y="199" font-size="15" font-weight="bold" fill="#ffc000" textLength="8.5" lengthAdjust="spacingAndGlyphs" >V</text>
<text x="846.7" y="199" font-size="10" font-weight="bold" fill="#ffc000" textLength="16.4" lengthAdjust="spacingAndGlyphs" >SW1</text>
<text x="865" y="199" font-size="15" font-weight="bold" fill="#22ee22" textLength="8.5" lengthAdjust="spacingAndGlyphs" >V</text>
<text x="873.5" y="199" font-size="10" font-weight="bold" fill="#22ee22" textLength="17.8" lengthAdjust="spacingAndGlyphs" >SW2</text>
<line x1="706" y1="281.5" x2="706" y2="299.5" stroke="#111" stroke-width="1.2" stroke-dasharray="1.3 1.1"/>
<line x1="725.9" y1="281.5" x2="725.9" y2="299.5" stroke="#111" stroke-width="1.2" stroke-dasharray="1.3 1.1"/>
<line x1="691.8" y1="291.6" x2="700.16" y2="291.6" stroke="#000" stroke-width="1.4" />
<path d="M705.2,291.6 L698.9,294.88 L699.66,291.6 L698.9,288.32 Z" fill="#000"/>
<line x1="735" y1="291.6" x2="731.64" y2="291.6" stroke="#000" stroke-width="1.4" />
<path d="M726.6,291.6 L732.9,288.32 L732.14,291.6 L732.9,294.88 Z" fill="#000"/>
<text x="712.8" y="298.4" font-size="9.5" font-weight="bold" fill="#000" >T</text>
<text x="836.8" y="301.6" font-size="10.5" font-weight="bold" fill="#000" textLength="9.4" lengthAdjust="spacingAndGlyphs" >5V</text>
<line x1="850.6" y1="287.84" x2="850.6" y2="307.76" stroke="#000" stroke-width="1.4" />
<path d="M850.6,282.8 L853.88,289.1 L850.6,288.34 L847.32,289.1 Z" fill="#000"/>
<path d="M850.6,312.8 L847.32,306.5 L850.6,307.26 L853.88,306.5 Z" fill="#000"/>
<line x1="855.64" y1="313.6" x2="885.36" y2="313.6" stroke="#000" stroke-width="1.4" />
<path d="M850.6,313.6 L856.9,310.32 L856.14,313.6 L856.9,316.88 Z" fill="#000"/>
<path d="M890.4,313.6 L884.1,316.88 L884.86,313.6 L884.1,310.32 Z" fill="#000"/>
<text x="863.3" y="308.3" font-size="10" font-weight="bold" fill="#000" textLength="14.3" lengthAdjust="spacingAndGlyphs" >2μs</text>
<text x="686.2" y="129.5" font-size="6.5" fill="#ff1090">T</text>
<path d="M687.9,128 L691.4,130.5 L687.9,131.5 Z" fill="#ff1090"/>
<text x="683.8" y="287.1" font-size="7.5" font-weight="normal" fill="#8ad83a" >2</text>
<path d="M688.4,282.8 L691.4,284.3 L688.4,285.8 Z" fill="#ffc000"/>
<text x="683.8" y="309" font-size="7.5" font-weight="normal" fill="#ff1090" >4</text>
<path d="M687.4,307 L691.4,310 L687.4,310.5 Z" fill="#ff1090"/>
<text x="554.3" y="78.4" font-size="14" font-weight="bold" fill="#000" textLength="239.4" lengthAdjust="spacingAndGlyphs" >Transient responses insensitive to delay</text>
<path d="M431.8,168.7 L458.2,168.7 L458.2,161 L475.7,174.3 L458.2,187.4 L458.2,179.6 L431.8,179.6 Z" fill="#9dc3e6" stroke="#2e75b6" stroke-width="1.2" stroke-linejoin="miter"/>
<line x1="71.23" y1="398" x2="71.23" y2="650.3" stroke="#d3d3d3" stroke-width="1" />
<line x1="111.86" y1="398" x2="111.86" y2="650.3" stroke="#d3d3d3" stroke-width="1" />
<line x1="152.49" y1="398" x2="152.49" y2="650.3" stroke="#d3d3d3" stroke-width="1" />
<line x1="193.12" y1="398" x2="193.12" y2="650.3" stroke="#d3d3d3" stroke-width="1" />
<line x1="233.75" y1="398" x2="233.75" y2="650.3" stroke="#d3d3d3" stroke-width="1" />
<line x1="274.38" y1="398" x2="274.38" y2="650.3" stroke="#d3d3d3" stroke-width="1" />
<line x1="315.01" y1="398" x2="315.01" y2="650.3" stroke="#d3d3d3" stroke-width="1" />
<line x1="355.64" y1="398" x2="355.64" y2="650.3" stroke="#d3d3d3" stroke-width="1" />
<line x1="396.27" y1="398" x2="396.27" y2="650.3" stroke="#d3d3d3" stroke-width="1" />
<line x1="30.6" y1="429.54" x2="436.9" y2="429.54" stroke="#d3d3d3" stroke-width="1" />
<line x1="30.6" y1="461.07" x2="436.9" y2="461.07" stroke="#d3d3d3" stroke-width="1" />
<line x1="30.6" y1="492.61" x2="436.9" y2="492.61" stroke="#d3d3d3" stroke-width="1" />
<line x1="30.6" y1="524.15" x2="436.9" y2="524.15" stroke="#d3d3d3" stroke-width="1" />
<line x1="30.6" y1="555.69" x2="436.9" y2="555.69" stroke="#d3d3d3" stroke-width="1" />
<line x1="30.6" y1="587.22" x2="436.9" y2="587.22" stroke="#d3d3d3" stroke-width="1" />
<line x1="30.6" y1="618.76" x2="436.9" y2="618.76" stroke="#d3d3d3" stroke-width="1" />
<line x1="232.25" y1="398" x2="235.25" y2="398" stroke="#c4c4c4" stroke-width="0.8" />
<line x1="232.25" y1="404.31" x2="235.25" y2="404.31" stroke="#c4c4c4" stroke-width="0.8" />
<line x1="232.25" y1="410.62" x2="235.25" y2="410.62" stroke="#c4c4c4" stroke-width="0.8" />
<line x1="232.25" y1="416.92" x2="235.25" y2="416.92" stroke="#c4c4c4" stroke-width="0.8" />
<line x1="232.25" y1="423.23" x2="235.25" y2="423.23" stroke="#c4c4c4" stroke-width="0.8" />
<line x1="232.25" y1="429.54" x2="235.25" y2="429.54" stroke="#c4c4c4" stroke-width="0.8" />
<line x1="232.25" y1="435.85" x2="235.25" y2="435.85" stroke="#c4c4c4" stroke-width="0.8" />
<line x1="232.25" y1="442.15" x2="235.25" y2="442.15" stroke="#c4c4c4" stroke-width="0.8" />
<line x1="232.25" y1="448.46" x2="235.25" y2="448.46" stroke="#c4c4c4" stroke-width="0.8" />
<line x1="232.25" y1="454.77" x2="235.25" y2="454.77" stroke="#c4c4c4" stroke-width="0.8" />
<line x1="232.25" y1="461.08" x2="235.25" y2="461.08" stroke="#c4c4c4" stroke-width="0.8" />
<line x1="232.25" y1="467.38" x2="235.25" y2="467.38" stroke="#c4c4c4" stroke-width="0.8" />
<line x1="232.25" y1="473.69" x2="235.25" y2="473.69" stroke="#c4c4c4" stroke-width="0.8" />
<line x1="232.25" y1="480" x2="235.25" y2="480" stroke="#c4c4c4" stroke-width="0.8" />
<line x1="232.25" y1="486.31" x2="235.25" y2="486.31" stroke="#c4c4c4" stroke-width="0.8" />
<line x1="232.25" y1="492.61" x2="235.25" y2="492.61" stroke="#c4c4c4" stroke-width="0.8" />
<line x1="232.25" y1="498.92" x2="235.25" y2="498.92" stroke="#c4c4c4" stroke-width="0.8" />
<line x1="232.25" y1="505.23" x2="235.25" y2="505.23" stroke="#c4c4c4" stroke-width="0.8" />
<line x1="232.25" y1="511.54" x2="235.25" y2="511.54" stroke="#c4c4c4" stroke-width="0.8" />
<line x1="232.25" y1="517.84" x2="235.25" y2="517.84" stroke="#c4c4c4" stroke-width="0.8" />
<line x1="232.25" y1="524.15" x2="235.25" y2="524.15" stroke="#c4c4c4" stroke-width="0.8" />
<line x1="232.25" y1="530.46" x2="235.25" y2="530.46" stroke="#c4c4c4" stroke-width="0.8" />
<line x1="232.25" y1="536.77" x2="235.25" y2="536.77" stroke="#c4c4c4" stroke-width="0.8" />
<line x1="232.25" y1="543.07" x2="235.25" y2="543.07" stroke="#c4c4c4" stroke-width="0.8" />
<line x1="232.25" y1="549.38" x2="235.25" y2="549.38" stroke="#c4c4c4" stroke-width="0.8" />
<line x1="232.25" y1="555.69" x2="235.25" y2="555.69" stroke="#c4c4c4" stroke-width="0.8" />
<line x1="232.25" y1="562" x2="235.25" y2="562" stroke="#c4c4c4" stroke-width="0.8" />
<line x1="232.25" y1="568.3" x2="235.25" y2="568.3" stroke="#c4c4c4" stroke-width="0.8" />
<line x1="232.25" y1="574.61" x2="235.25" y2="574.61" stroke="#c4c4c4" stroke-width="0.8" />
<line x1="232.25" y1="580.92" x2="235.25" y2="580.92" stroke="#c4c4c4" stroke-width="0.8" />
<line x1="232.25" y1="587.23" x2="235.25" y2="587.23" stroke="#c4c4c4" stroke-width="0.8" />
<line x1="232.25" y1="593.53" x2="235.25" y2="593.53" stroke="#c4c4c4" stroke-width="0.8" />
<line x1="232.25" y1="599.84" x2="235.25" y2="599.84" stroke="#c4c4c4" stroke-width="0.8" />
<line x1="232.25" y1="606.15" x2="235.25" y2="606.15" stroke="#c4c4c4" stroke-width="0.8" />
<line x1="232.25" y1="612.46" x2="235.25" y2="612.46" stroke="#c4c4c4" stroke-width="0.8" />
<line x1="232.25" y1="618.76" x2="235.25" y2="618.76" stroke="#c4c4c4" stroke-width="0.8" />
<line x1="232.25" y1="625.07" x2="235.25" y2="625.07" stroke="#c4c4c4" stroke-width="0.8" />
<line x1="232.25" y1="631.38" x2="235.25" y2="631.38" stroke="#c4c4c4" stroke-width="0.8" />
<line x1="232.25" y1="637.69" x2="235.25" y2="637.69" stroke="#c4c4c4" stroke-width="0.8" />
<line x1="232.25" y1="643.99" x2="235.25" y2="643.99" stroke="#c4c4c4" stroke-width="0.8" />
<line x1="30.6" y1="522.65" x2="30.6" y2="525.65" stroke="#c4c4c4" stroke-width="0.8" />
<line x1="38.73" y1="522.65" x2="38.73" y2="525.65" stroke="#c4c4c4" stroke-width="0.8" />
<line x1="46.85" y1="522.65" x2="46.85" y2="525.65" stroke="#c4c4c4" stroke-width="0.8" />
<line x1="54.98" y1="522.65" x2="54.98" y2="525.65" stroke="#c4c4c4" stroke-width="0.8" />
<line x1="63.1" y1="522.65" x2="63.1" y2="525.65" stroke="#c4c4c4" stroke-width="0.8" />
<line x1="71.23" y1="522.65" x2="71.23" y2="525.65" stroke="#c4c4c4" stroke-width="0.8" />
<line x1="79.36" y1="522.65" x2="79.36" y2="525.65" stroke="#c4c4c4" stroke-width="0.8" />
<line x1="87.48" y1="522.65" x2="87.48" y2="525.65" stroke="#c4c4c4" stroke-width="0.8" />
<line x1="95.61" y1="522.65" x2="95.61" y2="525.65" stroke="#c4c4c4" stroke-width="0.8" />
<line x1="103.73" y1="522.65" x2="103.73" y2="525.65" stroke="#c4c4c4" stroke-width="0.8" />
<line x1="111.86" y1="522.65" x2="111.86" y2="525.65" stroke="#c4c4c4" stroke-width="0.8" />
<line x1="119.99" y1="522.65" x2="119.99" y2="525.65" stroke="#c4c4c4" stroke-width="0.8" />
<line x1="128.11" y1="522.65" x2="128.11" y2="525.65" stroke="#c4c4c4" stroke-width="0.8" />
<line x1="136.24" y1="522.65" x2="136.24" y2="525.65" stroke="#c4c4c4" stroke-width="0.8" />
<line x1="144.36" y1="522.65" x2="144.36" y2="525.65" stroke="#c4c4c4" stroke-width="0.8" />
<line x1="152.49" y1="522.65" x2="152.49" y2="525.65" stroke="#c4c4c4" stroke-width="0.8" />
<line x1="160.62" y1="522.65" x2="160.62" y2="525.65" stroke="#c4c4c4" stroke-width="0.8" />
<line x1="168.74" y1="522.65" x2="168.74" y2="525.65" stroke="#c4c4c4" stroke-width="0.8" />
<line x1="176.87" y1="522.65" x2="176.87" y2="525.65" stroke="#c4c4c4" stroke-width="0.8" />
<line x1="184.99" y1="522.65" x2="184.99" y2="525.65" stroke="#c4c4c4" stroke-width="0.8" />
<line x1="193.12" y1="522.65" x2="193.12" y2="525.65" stroke="#c4c4c4" stroke-width="0.8" />
<line x1="201.25" y1="522.65" x2="201.25" y2="525.65" stroke="#c4c4c4" stroke-width="0.8" />
<line x1="209.37" y1="522.65" x2="209.37" y2="525.65" stroke="#c4c4c4" stroke-width="0.8" />
<line x1="217.5" y1="522.65" x2="217.5" y2="525.65" stroke="#c4c4c4" stroke-width="0.8" />
<line x1="225.62" y1="522.65" x2="225.62" y2="525.65" stroke="#c4c4c4" stroke-width="0.8" />
<line x1="233.75" y1="522.65" x2="233.75" y2="525.65" stroke="#c4c4c4" stroke-width="0.8" />
<line x1="241.88" y1="522.65" x2="241.88" y2="525.65" stroke="#c4c4c4" stroke-width="0.8" />
<line x1="250" y1="522.65" x2="250" y2="525.65" stroke="#c4c4c4" stroke-width="0.8" />
<line x1="258.13" y1="522.65" x2="258.13" y2="525.65" stroke="#c4c4c4" stroke-width="0.8" />
<line x1="266.25" y1="522.65" x2="266.25" y2="525.65" stroke="#c4c4c4" stroke-width="0.8" />
<line x1="274.38" y1="522.65" x2="274.38" y2="525.65" stroke="#c4c4c4" stroke-width="0.8" />
<line x1="282.51" y1="522.65" x2="282.51" y2="525.65" stroke="#c4c4c4" stroke-width="0.8" />
<line x1="290.63" y1="522.65" x2="290.63" y2="525.65" stroke="#c4c4c4" stroke-width="0.8" />
<line x1="298.76" y1="522.65" x2="298.76" y2="525.65" stroke="#c4c4c4" stroke-width="0.8" />
<line x1="306.88" y1="522.65" x2="306.88" y2="525.65" stroke="#c4c4c4" stroke-width="0.8" />
<line x1="315.01" y1="522.65" x2="315.01" y2="525.65" stroke="#c4c4c4" stroke-width="0.8" />
<line x1="323.14" y1="522.65" x2="323.14" y2="525.65" stroke="#c4c4c4" stroke-width="0.8" />
<line x1="331.26" y1="522.65" x2="331.26" y2="525.65" stroke="#c4c4c4" stroke-width="0.8" />
<line x1="339.39" y1="522.65" x2="339.39" y2="525.65" stroke="#c4c4c4" stroke-width="0.8" />
<line x1="347.51" y1="522.65" x2="347.51" y2="525.65" stroke="#c4c4c4" stroke-width="0.8" />
<line x1="355.64" y1="522.65" x2="355.64" y2="525.65" stroke="#c4c4c4" stroke-width="0.8" />
<line x1="363.77" y1="522.65" x2="363.77" y2="525.65" stroke="#c4c4c4" stroke-width="0.8" />
<line x1="371.89" y1="522.65" x2="371.89" y2="525.65" stroke="#c4c4c4" stroke-width="0.8" />
<line x1="380.02" y1="522.65" x2="380.02" y2="525.65" stroke="#c4c4c4" stroke-width="0.8" />
<line x1="388.14" y1="522.65" x2="388.14" y2="525.65" stroke="#c4c4c4" stroke-width="0.8" />
<line x1="396.27" y1="522.65" x2="396.27" y2="525.65" stroke="#c4c4c4" stroke-width="0.8" />
<line x1="404.4" y1="522.65" x2="404.4" y2="525.65" stroke="#c4c4c4" stroke-width="0.8" />
<line x1="412.52" y1="522.65" x2="412.52" y2="525.65" stroke="#c4c4c4" stroke-width="0.8" />
<line x1="420.65" y1="522.65" x2="420.65" y2="525.65" stroke="#c4c4c4" stroke-width="0.8" />
<line x1="428.77" y1="522.65" x2="428.77" y2="525.65" stroke="#c4c4c4" stroke-width="0.8" />
<line x1="436.9" y1="522.65" x2="436.9" y2="525.65" stroke="#c4c4c4" stroke-width="0.8" />
<line x1="30.6" y1="398" x2="30.6" y2="650.3" stroke="#969696" stroke-width="1.3" />
<line x1="22" y1="650.3" x2="436.9" y2="650.3" stroke="#969696" stroke-width="1.5" />
<line x1="436.9" y1="398" x2="436.9" y2="650.3" stroke="#8f9bb5" stroke-width="1.3" />
<clipPath id="hc4"><rect x="22" y="385.4" width="414.9" height="12.6"/></clipPath>
<g clip-path="url(#hc4)">
<rect x="22" y="385.4" width="414.9" height="12.6" fill="#7f9fcf" />
<line x1="22" y1="385.8" x2="436.9" y2="385.8" stroke="#9db4da" stroke-width="0.8" />
<line x1="22" y1="397.6" x2="436.9" y2="397.6" stroke="#6a86b3" stroke-width="0.8" />
<rect x="22.5" y="386.2" width="6.2" height="11" fill="#0a0a0a" rx="1.2" stroke="#505050" stroke-width="0.5"/>
<text x="25.6" y="395" font-size="9.32" font-weight="bold" fill="#c8c400" text-anchor="middle" >1</text>
<text x="37" y="394.6" font-size="10.84" font-weight="normal" fill="#2b3342" textLength="27.5" lengthAdjust="spacingAndGlyphs" stroke="#2b3342" stroke-width="0.35">5.00V/</text>
<rect x="73.5" y="386.2" width="6.2" height="11" fill="#0a0a0a" rx="1.2" stroke="#505050" stroke-width="0.5"/>
<text x="76.6" y="395" font-size="9.32" font-weight="bold" fill="#18c818" text-anchor="middle" >2</text>
<text x="87.5" y="394.6" font-size="10.84" font-weight="normal" fill="#2b3342" textLength="28.5" lengthAdjust="spacingAndGlyphs" stroke="#2b3342" stroke-width="0.35">5.00V/</text>
<rect x="124.5" y="386.2" width="6" height="11" fill="#0a1540" rx="1.2" stroke="#505050" stroke-width="0.5"/>
<text x="127.5" y="395" font-size="9.32" font-weight="bold" fill="#2850e0" text-anchor="middle" >3</text>
<rect x="175.5" y="386.2" width="6.2" height="11" fill="#0a0a0a" rx="1.2" stroke="#505050" stroke-width="0.5"/>
<text x="178.6" y="395" font-size="9.32" font-weight="bold" fill="#e0108a" text-anchor="middle" >4</text>
<text x="191.5" y="394.6" font-size="10.84" font-weight="normal" fill="#2b3342" textLength="16.03" lengthAdjust="spacingAndGlyphs" stroke="#2b3342" stroke-width="0.35">100</text>
<text x="209.93" y="390.48" font-size="4.55" font-weight="bold" fill="#2b3342" text-anchor="middle" >m</text>
<text x="209.93" y="394.6" font-size="6.72" font-weight="bold" fill="#2b3342" text-anchor="middle" >V</text>
<text x="212.33" y="394.6" font-size="10.84" font-weight="normal" fill="#2b3342" textLength="2.67" lengthAdjust="spacingAndGlyphs" stroke="#2b3342" stroke-width="0.35">/</text>
<circle cx="233.8" cy="391.7" r="1.89" fill="none" stroke="#2a3550" stroke-width="0.9"/>
<line x1="236.53" y1="391.7" x2="238" y2="391.7" stroke="#2a3550" stroke-width="0.8" />
<line x1="235.73" y1="393.63" x2="236.77" y2="394.67" stroke="#2a3550" stroke-width="0.8" />
<line x1="233.8" y1="394.43" x2="233.8" y2="395.9" stroke="#2a3550" stroke-width="0.8" />
<line x1="231.87" y1="393.63" x2="230.83" y2="394.67" stroke="#2a3550" stroke-width="0.8" />
<line x1="231.07" y1="391.7" x2="229.6" y2="391.7" stroke="#2a3550" stroke-width="0.8" />
<line x1="231.87" y1="389.77" x2="230.83" y2="388.73" stroke="#2a3550" stroke-width="0.8" />
<line x1="233.8" y1="388.97" x2="233.8" y2="387.5" stroke="#2a3550" stroke-width="0.8" />
<line x1="235.73" y1="389.77" x2="236.77" y2="388.73" stroke="#2a3550" stroke-width="0.8" />
<text x="250" y="394.6" font-size="10.84" font-weight="normal" fill="#2b3342" textLength="20.84" lengthAdjust="spacingAndGlyphs" stroke="#2b3342" stroke-width="0.35">2.660</text>
<text x="272.92" y="390.48" font-size="4.55" font-weight="bold" fill="#2b3342" text-anchor="middle" >μ</text>
<text x="272.92" y="394.6" font-size="5.42" font-weight="bold" fill="#2b3342" text-anchor="middle" >s</text>
<text x="288.2" y="394.6" font-size="10.84" font-weight="normal" fill="#2b3342" textLength="22.5" lengthAdjust="spacingAndGlyphs" stroke="#2b3342" stroke-width="0.35">1.000</text>
<text x="312.95" y="390.48" font-size="4.55" font-weight="bold" fill="#2b3342" text-anchor="middle" >μ</text>
<text x="312.95" y="394.6" font-size="5.42" font-weight="bold" fill="#2b3342" text-anchor="middle" >s</text>
<text x="315.2" y="394.6" font-size="10.84" font-weight="normal" fill="#2b3342" textLength="2.5" lengthAdjust="spacingAndGlyphs" stroke="#2b3342" stroke-width="0.35">/</text>
<text x="334.8" y="394.6" font-size="10.84" font-weight="normal" fill="#2b3342" textLength="16.8" lengthAdjust="spacingAndGlyphs" stroke="#2b3342" stroke-width="0.35">Stop</text>
<text x="367.2" y="394.6" font-size="10.84" font-weight="normal" fill="#2b3342" textLength="3.8" lengthAdjust="spacingAndGlyphs" stroke="#2b3342" stroke-width="0.35">ŧ</text>
<rect x="381.7" y="386.2" width="10" height="11" fill="#0a0a0a" rx="1.2" stroke="#505050" stroke-width="0.5"/>
<text x="386.7" y="395" font-size="9.32" font-weight="bold" fill="#e0108a" text-anchor="middle" >4</text>
<text x="405.5" y="394.6" font-size="10.84" font-weight="normal" fill="#2b3342" textLength="14.46" lengthAdjust="spacingAndGlyphs" stroke="#2b3342" stroke-width="0.35">965</text>
<text x="422.13" y="390.48" font-size="4.55" font-weight="bold" fill="#2b3342" text-anchor="middle" >m</text>
<text x="422.13" y="394.6" font-size="6.72" font-weight="bold" fill="#2b3342" text-anchor="middle" >V</text>
</g>
<path d="M123.5,398.3 L128.5,398.3 L126,401.3 Z" fill="#ff8c1a"/>
<path d="M231.3,398.3 L236.3,398.3 L233.8,401.3 Z" fill="#ff8c1a"/>
<path d="M30.6,460.43 L31.1,460.14 L31.6,461.18 L32.1,460.58 L32.6,460.21 L33.1,460.01 L33.6,460.78 L34.1,460.61 L34.6,460.02 L35.1,460.56 L35.6,460.88 L36.1,460.64 L36.6,460.27 L37.1,460.59 L37.6,460.72 L38.1,460.77 L38.6,460.16 L39.1,460.95 L39.6,461.12 L40.1,460.88 L40.6,461.02 L41.1,460.43 L41.6,461.07 L42.1,460.2 L42.6,460.26 L43.1,460.7 L43.6,461.06 L44.1,460.08 L44.6,460.24 L45.1,460.02 L45.6,460.51 L46.1,460.15 L46.6,460.21 L47.1,460.88 L47.6,460.68 L48.1,461.1 L48.6,460.46 L49.1,460.79 L49.6,459.99 L50.1,461.11 L50.6,460.25 L51.1,460.54 L51.6,460.58 L52.1,461.11 L52.6,460.56 L53.1,461.16 L53.6,460.71 L54.1,460.22 L54.6,460.97 L55.1,460.21 L55.6,461.16 L56.1,460.51 L56.6,460.23 L57.1,461.11 L57.6,460.35 L58.1,460.45 L58.6,460.37 L59.1,460.76 L59.6,459.98 L60.1,460.4 L60.6,460.15 L61.1,460.95 L61.6,459.95 L62.1,460.68 L62.6,460.26 L63.1,460.5 L63.6,460.62 L64.1,460.8 L64.6,460.11 L65.1,460.24 L65.6,460.09 L66.1,461.1 L66.6,460.12 L67.1,460.11 L67.6,460.57 L68.1,460.64 L68.6,461.01 L69.1,460.01 L69.6,460.22 L70.1,460.14 L70.6,460.64 L71.1,460.48 L71.6,460.43 L72.1,461 L72.6,460.73 L73.1,460.97 L73.6,461.08 L74.1,460.26 L74.6,461.06 L75.1,460.42 L75.6,459.99 L76.1,461.03 L76.6,460.05 L77.1,459.95 L77.6,460.28 L78.1,460.27 L78.6,461.09 L79.1,460.97 L79.6,460.43 L80.1,460.56 L80.6,460.94 L81.1,460.89 L81.6,460.71 L82.1,460.54 L82.6,460.06 L83.1,460.21 L83.6,460.71 L84.1,460.62 L84.6,460.88 L85.1,461 L85.6,461.07 L86.1,460.15 L86.6,460.01 L87.1,460.99 L87.6,460.6 L88.1,460.13 L88.6,460.74 L89.1,460.22 L89.6,460.2 L90.1,460.35 L90.6,460.54 L91.1,460.72 L91.6,460 L92.1,460.8 L92.6,460.66 L93.1,460.48 L93.6,460.72 L94.1,460.87 L94.6,459.92 L95.1,460.48 L95.6,460.72 L96.1,460.76 L96.6,460.68 L97.1,460.12 L97.6,461.06 L98.1,460.85 L98.6,460.18 L99.1,460.42 L99.6,461.05 L100.1,460.15 L100.6,460.39 L101.1,461.06 L101.6,460.98 L102.1,460.18 L102.6,460.78 L103.1,460.33 L103.6,460.7 L104.1,460.82 L104.6,460.05 L105.1,460.17 L105.6,460.16 L106.1,460.22 L106.6,459.94 L107.1,460.06 L107.6,460.39 L108.1,460.41 L108.6,459.99 L109.1,460.6 L109.6,461.03 L110.1,460.59 L110.6,460.33 L111.1,460.75 L111.6,460.42 L112.1,460.13 L112.6,461.11 L113.1,461.74 L113.6,463.91 L114.1,464.51 L114.6,465.63 L115.1,467.15 L115.6,467.69 L116.1,468.52 L116.6,469.02 L117.1,469.72 L117.6,470.52 L118.1,471.57 L118.6,471.39 L119.1,472.84 L119.6,473.08 L120.1,473.83 L120.6,475.3 L121.1,475.82 L121.6,476.87 L122.1,477.62 L122.6,477.94 L123.1,478.07 L123.6,478.43 L124.1,479.62 L124.6,480.4 L125.1,480.38 L125.6,480.65 L126.1,481.06 L126.6,481.73 L127.1,482.8 L127.6,482.39 L128.1,483.05 L128.6,483.47 L129.1,484.38 L129.6,485.1 L130.1,484.33 L130.6,484.84 L131.1,486.21 L131.6,486.63 L132.1,486 L132.6,486.56 L133.1,487.09 L133.6,487.12 L134.1,487.47 L134.6,487.73 L135.1,487.61 L135.6,487.45 L136.1,487.5 L136.6,487.58 L137.1,487.45 L137.6,488.02 L138.1,488.02 L138.6,487.4 L139.1,487.92 L139.6,487.71 L140.1,487.1 L140.6,487.14 L141.1,486.62 L141.6,487.35 L142.1,486.71 L142.6,485.85 L143.1,485.7 L143.6,486.03 L144.1,485.32 L144.6,485.36 L145.1,484.4 L145.6,484.69 L146.1,484.3 L146.6,483.06 L147.1,483.27 L147.6,482.42 L148.1,482.68 L148.6,482.44 L149.1,482.06 L149.6,481.02 L150.1,480.48 L150.6,480.79 L151.1,480.3 L151.6,479.4 L152.1,479.09 L152.6,479.17 L153.1,478.22 L153.6,478.47 L154.1,477.62 L154.6,477.26 L155.1,477.08 L155.6,476.84 L156.1,476.7 L156.6,475.51 L157.1,475.98 L157.6,475.02 L158.1,474.74 L158.6,474.79 L159.1,474.49 L159.6,474.03 L160.1,474.01 L160.6,472.82 L161.1,472.59 L161.6,472.66 L162.1,471.83 L162.6,471.36 L163.1,471.11 L163.6,471.43 L164.1,471.18 L164.6,470.74 L165.1,470.73 L165.6,470.24 L166.1,469.37 L166.6,469.09 L167.1,469.29 L167.6,468.21 L168.1,468.6 L168.6,467.71 L169.1,467.39 L169.6,467.69 L170.1,467 L170.6,467.69 L171.1,467.38 L171.6,466.64 L172.1,466.1 L172.6,465.79 L173.1,466.04 L173.6,465.85 L174.1,465.47 L174.6,465.71 L175.1,465.31 L175.6,465.42 L176.1,464.44 L176.6,464.23 L177.1,464.44 L177.6,464.39 L178.1,463.95 L178.6,464.29 L179.1,463.6 L179.6,463.56 L180.1,463.6 L180.6,463.74 L181.1,463.67 L181.6,463.06 L182.1,463.02 L182.6,463.47 L183.1,463.36 L183.6,462.86 L184.1,462.13 L184.6,462.45 L185.1,462.56 L185.6,462.04 L186.1,461.65 L186.6,462.68 L187.1,462.49 L187.6,461.45 L188.1,461.75 L188.6,461.83 L189.1,461.35 L189.6,460.97 L190.1,461.69 L190.6,461.62 L191.1,461.12 L191.6,460.61 L192.1,460.89 L192.6,460.44 L193.1,461.4 L193.6,460.22 L194.1,460.43 L194.6,460.93 L195.1,460.11 L195.6,460.01 L196.1,459.91 L196.6,459.97 L197.1,460.37 L197.6,460.69 L198.1,459.86 L198.6,459.84 L199.1,460.53 L199.6,460.11 L200.1,460.01 L200.6,459.75 L201.1,459.89 L201.6,460.77 L202.1,459.75 L202.6,459.92 L203.1,460.5 L203.6,460.69 L204.1,460.71 L204.6,460.19 L205.1,460.78 L205.6,460.36 L206.1,459.99 L206.6,460.21 L207.1,460.52 L207.6,460.54 L208.1,459.83 L208.6,459.91 L209.1,460.84 L209.6,459.82 L210.1,460.68 L210.6,460.12 L211.1,460.02 L211.6,460.04 L212.1,460.31 L212.6,460.94 L213.1,459.94 L213.6,460.8 L214.1,460.17 L214.6,460 L215.1,460.7 L215.6,460.22 L216.1,460.05 L216.6,460.34 L217.1,460.83 L217.6,460.89 L218.1,460.55 L218.6,459.89 L219.1,460.8 L219.6,460.62 L220.1,460.98 L220.6,461.05 L221.1,460.31 L221.6,460.95 L222.1,460.92 L222.6,460.27 L223.1,460.4 L223.6,460.42 L224.1,460.41 L224.6,460.45 L225.1,460.14 L225.6,460.29 L226.1,461.12 L226.6,460.53 L227.1,460.82 L227.6,461.13 L228.1,460.98 L228.6,460.38 L229.1,461.2 L229.6,461.08 L230.1,461.31 L230.6,461.01 L231.1,461.06 L231.6,461.14 L232.1,460.48 L232.6,460.98 L233.1,460.66 L233.6,461.22 L234.1,460.39 L234.6,460.89 L235.1,460.66 L235.6,461.25 L236.1,460.7 L236.6,461.31 L237.1,461.33 L237.6,461.38 L238.1,460.51 L238.6,461.48 L239.1,461.26 L239.6,461.19 L240.1,461.18 L240.6,460.47 L241.1,461.47 L241.6,461.09 L242.1,461 L242.6,460.87 L243.1,461.42 L243.6,461.43 L244.1,461.55 L244.6,460.77 L245.1,460.94 L245.6,460.84 L246.1,460.68 L246.6,460.97 L247.1,460.62 L247.6,461.56 L248.1,460.89 L248.6,460.71 L249.1,460.72 L249.6,461.54 L250.1,460.9 L250.6,461.23 L251.1,461.17 L251.6,461.67 L252.1,461.86 L252.6,461.1 L253.1,461.5 L253.6,461.83 L254.1,461.33 L254.6,461.86 L255.1,461.67 L255.6,461.18 L256.1,461.86 L256.6,461.51 L257.1,460.96 L257.6,461.55 L258.1,461.85 L258.6,461.49 L259.1,461.46 L259.6,461.39 L260.1,461.96 L260.6,461.71 L261.1,461.17 L261.6,461.37 L262.1,461.38 L262.6,462.1 L263.1,461.8 L263.6,461.12 L264.1,462.08 L264.6,461.03 L265.1,461.71 L265.6,461.53 L266.1,461.88 L266.6,461.54 L267.1,461.15 L267.6,461.68 L268.1,462.04 L268.6,462.01 L269.1,461.5 L269.6,461.35 L270.1,461.99 L270.6,462.06 L271.1,461.37 L271.6,462.18 L272.1,462.32 L272.6,461.66 L273.1,461.6 L273.6,462 L274.1,462.28 L274.6,461.41 L275.1,461.54 L275.6,461.58 L276.1,462.07 L276.6,461.43 L277.1,461.87 L277.6,461.82 L278.1,462.03 L278.6,461.41 L279.1,462.39 L279.6,462.45 L280.1,461.93 L280.6,462.22 L281.1,461.5 L281.6,462.38 L282.1,461.96 L282.6,462.21 L283.1,462.35 L283.6,461.75 L284.1,462.44 L284.6,461.58 L285.1,461.37 L285.6,461.95 L286.1,462.44 L286.6,462.45 L287.1,462.52 L287.6,462 L288.1,462.51 L288.6,462.07 L289.1,461.58 L289.6,462.17 L290.1,462.39 L290.6,461.94 L291.1,462.17 L291.6,461.76 L292.1,461.79 L292.6,461.97 L293.1,462.09 L293.6,462.05 L294.1,461.6 L294.6,461.51 L295.1,461.92 L295.6,462.38 L296.1,462.43 L296.6,461.82 L297.1,461.85 L297.6,462.18 L298.1,461.78 L298.6,462.3 L299.1,462.67 L299.6,461.83 L300.1,462.3 L300.6,462.48 L301.1,462.52 L301.6,462.48 L302.1,462.49 L302.6,461.98 L303.1,462.66 L303.6,462.78 L304.1,461.74 L304.6,462.82 L305.1,462.23 L305.6,461.81 L306.1,461.8 L306.6,462.68 L307.1,462.55 L307.6,461.92 L308.1,462.31 L308.6,462.53 L309.1,462.97 L309.6,462.19 L310.1,462.72 L310.6,462.1 L311.1,462.06 L311.6,462.02 L312.1,462.33 L312.6,462.59 L313.1,462.22 L313.6,462.06 L314.1,462.14 L314.6,461.99 L315.1,462.13 L315.6,462.29 L316.1,462.53 L316.6,462.15 L317.1,462.52 L317.6,462.48 L318.1,463.13 L318.6,462.56 L319.1,463.12 L319.6,462.56 L320.1,462.24 L320.6,462.73 L321.1,462.2 L321.6,462.24 L322.1,462.14 L322.6,462.9 L323.1,463.23 L323.6,462.56 L324.1,462.52 L324.6,462.61 L325.1,462.53 L325.6,462.95 L326.1,462.6 L326.6,462.33 L327.1,463.19 L327.6,462.85 L328.1,462.18 L328.6,463.2 L329.1,463.07 L329.6,462.63 L330.1,462.97 L330.6,463.33 L331.1,462.72 L331.6,462.77 L332.1,462.62 L332.6,462.93 L333.1,463.07 L333.6,463.17 L334.1,463.44 L334.6,462.48 L335.1,462.76 L335.6,463.35 L336.1,463.29 L336.6,463.06 L337.1,463.17 L337.6,462.78 L338.1,463.51 L338.6,463.05 L339.1,462.88 L339.6,462.63 L340.1,462.56 L340.6,463.5 L341.1,463.4 L341.6,462.48 L342.1,462.84 L342.6,463.04 L343.1,463.07 L343.6,462.92 L344.1,463.57 L344.6,462.92 L345.1,463.15 L345.6,463.64 L346.1,463.3 L346.6,463.11 L347.1,462.95 L347.6,463.02 L348.1,463.3 L348.6,463.52 L349.1,462.9 L349.6,463.04 L350.1,463.07 L350.6,463.05 L351.1,463.71 L351.6,463.27 L352.1,462.97 L352.6,463.04 L353.1,463.64 L353.6,462.85 L354.1,463.5 L354.6,462.7 L355.1,462.92 L355.6,462.77 L356.1,463.67 L356.6,462.89 L357.1,462.99 L357.6,462.8 L358.1,463.05 L358.6,463.62 L359.1,463.62 L359.6,463.85 L360.1,463.9 L360.6,463.44 L361.1,463.89 L361.6,462.9 L362.1,463.91 L362.6,463.33 L363.1,463.05 L363.6,463.72 L364.1,463.86 L364.6,463.3 L365.1,462.96 L365.6,463.9 L366.1,463.77 L366.6,463.59 L367.1,464.05 L367.6,462.93 L368.1,462.96 L368.6,463.05 L369.1,462.94 L369.6,463.77 L370.1,463.68 L370.6,463.07 L371.1,463.14 L371.6,463.17 L372.1,463.69 L372.6,463.77 L373.1,464.14 L373.6,463.41 L374.1,464.16 L374.6,463.52 L375.1,463.47 L375.6,463.31 L376.1,463.3 L376.6,464.2 L377.1,464.23 L377.6,463.89 L378.1,463.26 L378.6,463.27 L379.1,463.25 L379.6,463.49 L380.1,463.96 L380.6,463.16 L381.1,463.73 L381.6,463.92 L382.1,463.15 L382.6,463.64 L383.1,464.07 L383.6,463.82 L384.1,463.68 L384.6,464.2 L385.1,463.87 L385.6,463.56 L386.1,463.64 L386.6,464.31 L387.1,464.21 L387.6,464.29 L388.1,463.87 L388.6,463.37 L389.1,463.42 L389.6,463.68 L390.1,464.05 L390.6,463.24 L391.1,464.2 L391.6,464.19 L392.1,463.87 L392.6,463.27 L393.1,464.23 L393.6,463.77 L394.1,464.09 L394.6,463.97 L395.1,464.17 L395.6,463.79 L396.1,464.46 L396.6,464.47 L397.1,464.44 L397.6,464.07 L398.1,463.72 L398.6,463.8 L399.1,463.68 L399.6,464.45 L400.1,464.32 L400.6,464.32 L401.1,464.37 L401.6,464.58 L402.1,464.22 L402.6,463.79 L403.1,464.32 L403.6,463.73 L404.1,464.16 L404.6,463.62 L405.1,464.47 L405.6,464.03 L406.1,463.78 L406.6,464.57 L407.1,463.57 L407.6,464.59 L408.1,464.39 L408.6,463.67 L409.1,464.41 L409.6,464.19 L410.1,464.6 L410.6,464.22 L411.1,464.04 L411.6,464.65 L412.1,463.64 L412.6,464.48 L413.1,463.68 L413.6,463.89 L414.1,463.7 L414.6,464.62 L415.1,464.11 L415.6,464.46 L416.1,463.9 L416.6,464.48 L417.1,464.39 L417.6,463.74 L418.1,464.22 L418.6,464.5 L419.1,463.9 L419.6,464.43 L420.1,463.99 L420.6,464.11 L421.1,464.77 L421.6,464.81 L422.1,464.88 L422.6,464.2 L423.1,464.38 L423.6,464.67 L424.1,464.62 L424.6,464.27 L425.1,464.76 L425.6,464.22 L426.1,464.88 L426.6,464.32 L427.1,463.9 L427.6,464.66 L428.1,463.94 L428.6,464.59 L429.1,463.85 L429.6,464.98 L430.1,464.45 L430.6,464.7 L431.1,463.97 L431.6,464.59 L432.1,464.28 L432.6,464.14 L433.1,464.82 L433.6,463.89 L434.1,464.43 L434.6,463.97 L435.1,464.89 L435.6,464.95 L436.1,463.93 L436.6,464.45" fill="none" stroke="#ff0582" stroke-width="2.4" stroke-linejoin="round" />
<text x="403.5" y="457.7" font-size="14.5" font-weight="bold" fill="#ff0582" textLength="10.5" lengthAdjust="spacingAndGlyphs" >V</text>
<text x="414" y="457.7" font-size="10" font-weight="bold" fill="#ff0582" textLength="14" lengthAdjust="spacingAndGlyphs" >OUT</text>
<text x="39.1" y="419.3" font-size="14.2" font-weight="bold" fill="#111" textLength="7.2" lengthAdjust="spacingAndGlyphs" >V</text>
<text x="46.3" y="420.3" font-size="9.8" font-weight="bold" fill="#111" textLength="7.7" lengthAdjust="spacingAndGlyphs" >IN</text>
<text x="54" y="419.3" font-size="14.2" font-weight="bold" fill="#111" textLength="46.8" lengthAdjust="spacingAndGlyphs" >=24V, V</text>
<text x="100.8" y="420.3" font-size="9.8" font-weight="bold" fill="#111" textLength="14.3" lengthAdjust="spacingAndGlyphs" >OUT</text>
<text x="115.1" y="419.3" font-size="14.2" font-weight="bold" fill="#111" textLength="36" lengthAdjust="spacingAndGlyphs" >=1V, I</text>
<text x="151.1" y="420.3" font-size="9.8" font-weight="bold" fill="#111" textLength="16.8" lengthAdjust="spacingAndGlyphs" >OUT</text>
<text x="167.9" y="419.3" font-size="14.2" font-weight="bold" fill="#111" textLength="62.3" lengthAdjust="spacingAndGlyphs" >=0.1A-3.1A</text>
<line x1="112" y1="449" x2="112" y2="469" stroke="#111" stroke-width="1.2" stroke-dasharray="1.3 1.1"/>
<line x1="185.5" y1="449" x2="185.5" y2="469" stroke="#111" stroke-width="1.2" stroke-dasharray="1.3 1.1"/>
<line x1="117.68" y1="454.7" x2="179.82" y2="454.7" stroke="#000" stroke-width="1.4" />
<path d="M112.3,454.7 L119.02,451.21 L118.21,454.7 L119.02,458.19 Z" fill="#000"/>
<path d="M185.2,454.7 L178.48,458.19 L179.29,454.7 L178.48,451.21 Z" fill="#000"/>
<text x="132.8" y="448.4" font-size="12" font-weight="bold" fill="#000" textLength="28.9" lengthAdjust="spacingAndGlyphs" >1.8μs</text>
<text x="72.7" y="480.3" font-size="13" font-weight="bold" fill="#000" textLength="30.1" lengthAdjust="spacingAndGlyphs" >85mV</text>
<line x1="106.5" y1="466.15" x2="106.5" y2="483.05" stroke="#000" stroke-width="1.4" />
<path d="M106.5,461 L109.85,467.44 L106.5,466.67 L103.15,467.44 Z" fill="#000"/>
<path d="M106.5,488.2 L103.15,481.76 L106.5,482.53 L109.85,481.76 Z" fill="#000"/>
<line x1="97.7" y1="489.2" x2="149" y2="489.2" stroke="#111" stroke-width="1.2" stroke-dasharray="1.3 1.1"/>
<text x="85.2" y="520.7" font-size="14.2" font-weight="bold" fill="#000" textLength="93.6" lengthAdjust="spacingAndGlyphs" >Duty cycle&gt;50%</text>
<line x1="132.4" y1="524.6" x2="132.4" y2="537.8" stroke="#000" stroke-width="1.4" />
<path d="M132.4,543.4 L128.76,536.4 L132.4,537.24 L136.04,536.4 Z" fill="#000"/>
<path d="M30.6,618.37 L31.3,618.62 L32,618.63 L32.7,618.24 L33.4,618.83 L34.1,618.09 L34.8,618.04 L35.5,618.71 L36.2,618.02 L36.9,618.09 L37.6,618.4 L38.3,618.24 L39,618.06 L39.7,618.83 L40.4,618.37 L41.1,618.69 L41.8,618.15 L42.5,618.81 L43.2,618.12 L43.9,618.81 L44.6,618.51 L45.3,618.87 L46,618.67 L46.7,618.53 L47.4,618.43 L48.1,618.75 L48.8,618.34 L49.5,618 L50.2,618.81 L50.9,618.71 L51.6,618.58 L52.3,618.64 L53,618.13 L53.7,618.36 L54.4,618.72 L55.1,618.86 L55.8,618.82 L56.5,618.06 L57.2,618.58 L57.9,618.45 L58.6,618.31 L59.3,618.07 L60,618.04 L60.7,618.37 L61.4,618.39 L62.1,618.17 L62.8,618.27 L63.5,618.45 L64.2,618.66 L64.9,618.49 L65.6,618.06 L66.3,618.79 L67,618.27 L67.7,618.86 L68.4,618.88 L69.1,618.04 L69.8,618.48 L70.5,618.87 L71.2,618.29 L71.9,618.45 L72.6,618.21 L73.3,617.93 L74,618.1 L74.7,618.02 L75.4,618.18 L76.1,618.53 L76.8,618.46 L77.5,618.85 L78.2,618.59 L78.9,618.26 L79.6,618.85 L80.3,618.53 L81,618.44 L81.7,618.76 L82.4,618.57 L83.1,618.26 L83.8,618.5 L84.5,618.2 L85.2,618.87 L85.9,618.14 L86.6,618.87 L87.3,617.96 L88,617.91 L88.7,618.45 L89.4,618.11 L90.1,618.41 L90.8,618.02 L91.5,618.74 L92.2,618.57 L92.9,618.58 L93.6,618.83 L94.3,618.89 L95,618.58 L95.7,618.61 L96.4,617.9 L97.1,617.95 L97.8,618.33 L98.5,618.87 L99.2,618.21 L99.9,618.47 L100.6,617.91 L101.3,618.32 L102,618.8 L102.7,618.49 L103.4,618.72 L104.1,617.91 L104.8,618.1 L105.5,618.08 L106.2,618.73 L106.9,618 L107.6,618.83 L108.3,618.17 L109,618.78 L109.7,618.42 L110.4,618.22 L111.1,618.87 L111.8,618.31 L112.5,618.6 L113.2,617.97 L113.9,618.73 L114.6,618.88 L115.3,618.01 L116,618.65" fill="none" stroke="#ffc000" stroke-width="3" stroke-linejoin="round" />
<path d="M116.4,617.57 L117.1,617.45 L117.8,617.66 L118.5,617.96 L119.2,618.25 L119.9,618.29 L120.6,618.29 L121.3,617.92 L122,617.95 L122.7,617.46 L123.4,618.03 L124.1,617.85 L124.8,617.66 L125.5,618.2 L126.2,617.56 L126.9,617.44 L127.6,617.46 L128.3,617.45 L129,617.89 L129.7,618.1 L130.4,617.46 L131.1,617.8 L131.8,617.87 L132.5,617.86 L133.2,617.71 L133.9,617.84 L134.6,617.32 L135.3,617.36 L136,617.72 L136.7,617.54 L137.4,618.06 L138.1,617.54 L138.8,618.12 L139.5,617.54 L140.2,617.39 L140.9,617.78 L141.6,617.69 L142.3,617.64 L143,618.07 L143.7,617.52 L144.4,617.97 L145.1,618.13 L145.8,617.75 L146.5,617.8 L147.2,618.22" fill="none" stroke="#29e629" stroke-width="2.4" stroke-linejoin="round" />
<path d="M147.3,619.3 L148,618.88 L148.7,618.77 L149.4,618.78 L150.1,619.03 L150.8,618.79 L151.5,619.35 L152.2,619.12 L152.9,619.01 L153.6,619.21 L154.3,619.64 L155,618.94 L155.7,618.85 L156.4,619.01 L157.1,619.02 L157.8,619.61 L158.5,619.41 L159.2,619.13 L159.9,618.87 L160.6,618.75 L161.3,618.82 L162,619.55 L162.7,619.35 L163.4,618.86 L164.1,619.33 L164.8,618.76 L165.5,619.21 L166.2,619.04 L166.9,618.8 L167.6,619.44 L168.3,619.42 L169,619.21 L169.7,618.87 L170.4,619.37 L171.1,619.13 L171.8,619.36 L172.5,618.79 L173.2,619.6 L173.9,618.7 L174.6,618.92 L175.3,619.1 L176,618.9 L176.7,618.79 L177.4,619.39 L178.1,619.69 L178.8,619.03 L179.5,618.97 L180.2,619.37 L180.9,618.92 L181.6,619.1 L182.3,619.39 L183,619.13 L183.7,618.86 L184.4,618.77 L185.1,619.24 L185.8,619.69 L186.5,619.62 L187.2,618.8 L187.9,619.2 L188.6,619.19 L189.3,618.89 L190,619.37 L190.7,619.2 L191.4,619.51 L192.1,618.99 L192.8,619.63 L193.5,619.51 L194.2,619.17 L194.9,618.84 L195.6,619.18 L196.3,618.83 L197,619.39 L197.7,619.4 L198.4,619.28 L199.1,619.68 L199.8,618.75 L200.5,619.42 L201.2,619.5 L201.9,618.81 L202.6,619.02 L203.3,618.75 L204,619.28 L204.7,619.42 L205.4,619.05 L206.1,619.4 L206.8,619.07 L207.5,619.41 L208.2,618.98 L208.9,619.68 L209.6,619.14 L210.3,618.7 L211,618.79 L211.7,619.43 L212.4,619.56 L213.1,619.34 L213.8,618.86 L214.5,619.57 L215.2,619.42 L215.9,618.82 L216.6,619.08 L217.3,619.37 L218,618.7 L218.7,618.74 L219.4,619.05 L220.1,619.57 L220.8,619.7 L221.5,619.02 L222.2,619.61 L222.9,619.49 L223.6,619.57 L224.3,619.29 L225,619.67 L225.7,619.34 L226.4,619.65 L227.1,619.27 L227.8,618.9 L228.5,619.22 L229.2,619.18 L229.9,619.04 L230.6,619.07 L231.3,619.21 L232,619.29 L232.7,618.92 L233.4,618.98 L234.1,619.2 L234.8,619.2 L235.5,619.12 L236.2,619.36 L236.9,618.89 L237.6,619.23 L238.3,618.98 L239,619.47 L239.7,619.4 L240.4,619.48 L241.1,619.22 L241.8,618.95 L242.5,619.63 L243.2,619.21 L243.9,619.08 L244.6,618.99 L245.3,619.1 L246,619.41 L246.7,619.52 L247.4,619.18 L248.1,619.43 L248.8,618.91 L249.5,619.15 L250.2,619.06 L250.9,619.01 L251.6,619.06 L252.3,619.45 L253,619.43 L253.7,618.91 L254.4,618.93 L255.1,619.48 L255.8,619.35 L256.5,619.38 L257.2,619.34 L257.9,619.39 L258.6,618.97 L259.3,618.76 L260,619.06 L260.7,618.73 L261.4,619.66 L262.1,619.22 L262.8,619.37 L263.5,619.67 L264.2,619.5 L264.9,618.93 L265.6,619.04 L266.3,618.81 L267,619.5 L267.7,619.44 L268.4,619.19 L269.1,619.07 L269.8,618.97 L270.5,619.19 L271.2,619.41 L271.9,619.6 L272.6,619.55 L273.3,619.57 L274,619.14 L274.7,619.12 L275.4,619.01 L276.1,619.67 L276.8,618.88 L277.5,618.86 L278.2,618.98 L278.9,619.62 L279.6,619.55 L280.3,619.03 L281,619.55 L281.7,619.59 L282.4,619.13 L283.1,618.89 L283.8,619.47 L284.5,619.07 L285.2,618.82 L285.9,619.6 L286.6,619.14 L287.3,619.1 L288,619.3 L288.7,618.96 L289.4,618.72 L290.1,619.09 L290.8,619.08 L291.5,618.71 L292.2,619.07 L292.9,619.46 L293.6,619.03 L294.3,619.38 L295,619.32 L295.7,618.89 L296.4,618.72 L297.1,619.37 L297.8,619.31 L298.5,618.99 L299.2,618.9 L299.9,619.56 L300.6,619.61 L301.3,618.93 L302,619.29 L302.7,619.27 L303.4,619.02 L304.1,618.74 L304.8,619.03 L305.5,619.34 L306.2,619.3 L306.9,619.21 L307.6,618.82 L308.3,618.91 L309,619.01 L309.7,619.12 L310.4,619.06 L311.1,619.6 L311.8,618.82 L312.5,619.69 L313.2,618.94 L313.9,619.56 L314.6,618.94 L315.3,619.29 L316,619.08 L316.7,618.74 L317.4,619.5 L318.1,619.51 L318.8,618.97 L319.5,619.48 L320.2,619.18 L320.9,619.69 L321.6,618.75 L322.3,619.08 L323,618.93 L323.7,619.32 L324.4,619.48 L325.1,619.54 L325.8,619.25 L326.5,619.09 L327.2,619.5 L327.9,618.8 L328.6,618.96 L329.3,619.45 L330,619.14 L330.7,619.69 L331.4,618.79 L332.1,619.16 L332.8,618.91 L333.5,618.7 L334.2,618.79 L334.9,618.79 L335.6,619.07 L336.3,619.13 L337,619.21 L337.7,618.99 L338.4,619.4 L339.1,619.22 L339.8,619.68 L340.5,618.87 L341.2,619.21 L341.9,619.19 L342.6,619.07 L343.3,619.56 L344,618.91 L344.7,619.58 L345.4,619.06 L346.1,619.04 L346.8,619.31 L347.5,619.26 L348.2,618.98 L348.9,618.78 L349.6,619.66 L350.3,619.07 L351,618.81 L351.7,619.36 L352.4,619.23 L353.1,619.03 L353.8,619.03 L354.5,619.55 L355.2,619.04 L355.9,619.12 L356.6,619.66 L357.3,619.06 L358,619.1 L358.7,618.86 L359.4,619.36 L360.1,619.36 L360.8,619.15 L361.5,619.11 L362.2,618.93 L362.9,619.49 L363.6,619.16 L364.3,619.53 L365,619.07 L365.7,619.43 L366.4,618.73 L367.1,618.92 L367.8,619.66 L368.5,619.38 L369.2,619.38 L369.9,619.2 L370.6,619.17 L371.3,618.9 L372,618.87 L372.7,619.35 L373.4,619.39 L374.1,618.96 L374.8,619.34 L375.5,618.84 L376.2,619.31 L376.9,618.87 L377.6,619.21 L378.3,619.01 L379,619.25 L379.7,618.83 L380.4,619.18 L381.1,619.32 L381.8,618.83 L382.5,619.01 L383.2,619.38 L383.9,619.25 L384.6,619.32 L385.3,619.48 L386,619.27 L386.7,618.92 L387.4,619.14 L388.1,619.53 L388.8,619.27 L389.5,619.45 L390.2,619.06 L390.9,619.15 L391.6,619.67 L392.3,619.52 L393,619.35 L393.7,618.81 L394.4,619.31 L395.1,618.73 L395.8,619.63 L396.5,619.67 L397.2,619.43 L397.9,618.97 L398.6,619.55 L399.3,618.88 L400,619.53 L400.7,619.22 L401.4,618.72 L402.1,619.59 L402.8,619.14 L403.5,619.53 L404.2,619.39 L404.9,619.23 L405.6,619.56 L406.3,618.9 L407,619.6 L407.7,619.04 L408.4,618.73 L409.1,619.04 L409.8,618.77 L410.5,618.77 L411.2,619.32 L411.9,618.82 L412.6,618.86 L413.3,618.99 L414,618.98 L414.7,619.62 L415.4,619.61 L416.1,619.57 L416.8,619.69 L417.5,619.14 L418.2,619.5 L418.9,618.98 L419.6,619.63 L420.3,619.51 L421,619.43 L421.7,618.93 L422.4,618.79 L423.1,619.63 L423.8,619.25 L424.5,619.31 L425.2,619.56 L425.9,618.84 L426.6,619.4 L427.3,619.16 L428,619.49 L428.7,619.16 L429.4,618.9 L430.1,619.66 L430.8,618.98 L431.5,619.44 L432.2,619.53 L432.9,618.95 L433.6,619.4 L434.3,619.1 L435,618.92 L435.7,618.92 L436.4,619.65" fill="none" stroke="#ffc000" stroke-width="3" stroke-linejoin="round" />
<line x1="43.52" y1="618.46" x2="45.34" y2="618.95" stroke="#29e629" stroke-width="1.1" />
<line x1="56.97" y1="619.06" x2="58.27" y2="619.2" stroke="#29e629" stroke-width="1.1" />
<line x1="59.26" y1="618.92" x2="60.73" y2="618.5" stroke="#29e629" stroke-width="1.1" />
<line x1="62.99" y1="618.6" x2="63.79" y2="619.18" stroke="#29e629" stroke-width="1.1" />
<line x1="73.29" y1="619.14" x2="74.5" y2="619.28" stroke="#29e629" stroke-width="1.1" />
<line x1="88.68" y1="618.56" x2="90.19" y2="618.14" stroke="#29e629" stroke-width="1.1" />
<line x1="94.51" y1="618.19" x2="96.12" y2="618.2" stroke="#29e629" stroke-width="1.1" />
<line x1="105.76" y1="619.39" x2="106.84" y2="617.96" stroke="#29e629" stroke-width="1.1" />
<line x1="113.68" y1="619.15" x2="114.91" y2="619.06" stroke="#29e629" stroke-width="1.1" />
<line x1="155.38" y1="619.23" x2="157.15" y2="618.45" stroke="#29e629" stroke-width="1.1" />
<line x1="165.95" y1="618.6" x2="166.87" y2="618.6" stroke="#29e629" stroke-width="1.1" />
<line x1="170.96" y1="618.94" x2="172.28" y2="619.46" stroke="#29e629" stroke-width="1.1" />
<line x1="175.13" y1="618.56" x2="175.94" y2="618.73" stroke="#29e629" stroke-width="1.1" />
<line x1="184.42" y1="619.41" x2="185.8" y2="619.69" stroke="#29e629" stroke-width="1.1" />
<line x1="187.6" y1="618.32" x2="189.73" y2="619.02" stroke="#29e629" stroke-width="1.1" />
<line x1="198.65" y1="618.85" x2="200.7" y2="618.85" stroke="#29e629" stroke-width="1.1" />
<line x1="213.35" y1="618.79" x2="215.38" y2="619.77" stroke="#29e629" stroke-width="1.1" />
<line x1="222.7" y1="618.68" x2="224.49" y2="619.37" stroke="#29e629" stroke-width="1.1" />
<line x1="237.33" y1="619.27" x2="238.53" y2="619.47" stroke="#29e629" stroke-width="1.1" />
<line x1="244.67" y1="619.37" x2="245.57" y2="619.7" stroke="#29e629" stroke-width="1.1" />
<line x1="249.86" y1="618.83" x2="251.36" y2="618.86" stroke="#29e629" stroke-width="1.1" />
<line x1="272.68" y1="618.38" x2="273.54" y2="618.92" stroke="#29e629" stroke-width="1.1" />
<line x1="277.31" y1="618.9" x2="279.17" y2="618.64" stroke="#29e629" stroke-width="1.1" />
<line x1="287.73" y1="619.1" x2="289.12" y2="618.25" stroke="#29e629" stroke-width="1.1" />
<line x1="298.11" y1="619.68" x2="299.06" y2="618.68" stroke="#29e629" stroke-width="1.1" />
<line x1="302.25" y1="618.8" x2="303.23" y2="618.96" stroke="#29e629" stroke-width="1.1" />
<line x1="304.3" y1="618.56" x2="305.21" y2="618.34" stroke="#29e629" stroke-width="1.1" />
<line x1="312.55" y1="618.59" x2="314.52" y2="618.28" stroke="#29e629" stroke-width="1.1" />
<line x1="316.77" y1="619.71" x2="318.14" y2="619.16" stroke="#29e629" stroke-width="1.1" />
<line x1="321.36" y1="618.3" x2="323.13" y2="619.14" stroke="#29e629" stroke-width="1.1" />
<line x1="325.52" y1="619" x2="326.59" y2="618.9" stroke="#29e629" stroke-width="1.1" />
<line x1="331.27" y1="619.23" x2="332.19" y2="619.48" stroke="#29e629" stroke-width="1.1" />
<line x1="334.75" y1="618.38" x2="336.27" y2="619.01" stroke="#29e629" stroke-width="1.1" />
<line x1="354.48" y1="619.5" x2="356.13" y2="618.53" stroke="#29e629" stroke-width="1.1" />
<line x1="368.66" y1="619.19" x2="369.74" y2="618.94" stroke="#29e629" stroke-width="1.1" />
<line x1="372.81" y1="619.26" x2="373.75" y2="618.96" stroke="#29e629" stroke-width="1.1" />
<line x1="378.88" y1="619.74" x2="380.23" y2="618.88" stroke="#29e629" stroke-width="1.1" />
<line x1="392.98" y1="619.72" x2="395.13" y2="619.44" stroke="#29e629" stroke-width="1.1" />
<line x1="402.48" y1="619.39" x2="404.28" y2="619.7" stroke="#29e629" stroke-width="1.1" />
<line x1="413.21" y1="618.79" x2="415.12" y2="619.55" stroke="#29e629" stroke-width="1.1" />
<line x1="420.25" y1="619.11" x2="421.35" y2="618.74" stroke="#29e629" stroke-width="1.1" />
<line x1="422.56" y1="619.35" x2="423.67" y2="619.56" stroke="#29e629" stroke-width="1.1" />
<line x1="428.45" y1="618.83" x2="429.27" y2="618.9" stroke="#29e629" stroke-width="1.1" />
<line x1="431.59" y1="619.58" x2="432.92" y2="618.2" stroke="#29e629" stroke-width="1.1" />
<line x1="436.47" y1="618.6" x2="437.31" y2="618.36" stroke="#29e629" stroke-width="1.1" />
<path d="M43.1,618.4 L43.1,545.1 Q43.3,542.6 45.25,542.6 Q47.2,542.6 47.4,545.1 L47.4,618.4" fill="none" stroke="#ffdc8a" stroke-width="1"/>
<ellipse cx="45.25" cy="543.8" rx="1.61" ry="1.5" fill="#ffc000"/>
<path d="M83.9,618.4 L83.9,544.7 Q84.1,542.2 85.85,542.2 Q87.6,542.2 87.8,544.7 L87.8,618.4" fill="none" stroke="#ffdc8a" stroke-width="1"/>
<ellipse cx="85.85" cy="543.4" rx="1.46" ry="1.5" fill="#ffc000"/>
<path d="M164.9,618.4 L164.9,550.7 Q165.1,548.2 166.6,548.2 Q168.1,548.2 168.3,550.7 L168.3,618.4" fill="none" stroke="#ffdc8a" stroke-width="1"/>
<ellipse cx="166.6" cy="549.4" rx="1.27" ry="1.5" fill="#ffc000"/>
<path d="M205.9,618.4 L205.9,550.7 Q206.1,548.2 207.6,548.2 Q209.1,548.2 209.3,550.7 L209.3,618.4" fill="none" stroke="#ffdc8a" stroke-width="1"/>
<ellipse cx="207.6" cy="549.4" rx="1.27" ry="1.5" fill="#ffc000"/>
<path d="M247.1,618.4 L247.1,550.7 Q247.3,548.2 248.8,548.2 Q250.3,548.2 250.5,550.7 L250.5,618.4" fill="none" stroke="#ffdc8a" stroke-width="1"/>
<ellipse cx="248.8" cy="549.4" rx="1.27" ry="1.5" fill="#ffc000"/>
<path d="M288,618.4 L288,550.7 Q288.2,548.2 289.7,548.2 Q291.2,548.2 291.4,550.7 L291.4,618.4" fill="none" stroke="#ffdc8a" stroke-width="1"/>
<ellipse cx="289.7" cy="549.4" rx="1.27" ry="1.5" fill="#ffc000"/>
<path d="M328.6,618.4 L328.6,550.7 Q328.8,548.2 330.3,548.2 Q331.8,548.2 332,550.7 L332,618.4" fill="none" stroke="#ffdc8a" stroke-width="1"/>
<ellipse cx="330.3" cy="549.4" rx="1.27" ry="1.5" fill="#ffc000"/>
<path d="M369.4,618.4 L369.4,550.7 Q369.6,548.2 371.1,548.2 Q372.6,548.2 372.8,550.7 L372.8,618.4" fill="none" stroke="#ffdc8a" stroke-width="1"/>
<ellipse cx="371.1" cy="549.4" rx="1.27" ry="1.5" fill="#ffc000"/>
<path d="M410.3,618.4 L410.3,550.7 Q410.5,548.2 412,548.2 Q413.5,548.2 413.7,550.7 L413.7,618.4" fill="none" stroke="#ffdc8a" stroke-width="1"/>
<ellipse cx="412" cy="549.4" rx="1.27" ry="1.5" fill="#ffc000"/>
<line x1="116.4" y1="618.4" x2="116.4" y2="542.5" stroke="#ffd060" stroke-width="1.1" />
<line x1="147.3" y1="618.4" x2="147.3" y2="550.5" stroke="#ffd060" stroke-width="1.1" />
<path d="M116.6,541.4 L147.2,549.6" stroke="#ffc000" stroke-width="2.6" fill="none" stroke-linecap="round"/>
<path d="M63.5,618.4 L63.5,546.8 Q63.7,544.3 65.45,544.3 Q67.2,544.3 67.4,546.8 L67.4,618.4" fill="none" stroke="#a6f0a0" stroke-width="1"/>
<ellipse cx="65.45" cy="545.5" rx="1.46" ry="1.5" fill="#29e629"/>
<path d="M104.2,618.4 L104.2,546.6 Q104.4,544.1 106.2,544.1 Q108,544.1 108.2,546.6 L108.2,618.4" fill="none" stroke="#a6f0a0" stroke-width="1"/>
<ellipse cx="106.2" cy="545.3" rx="1.5" ry="1.5" fill="#29e629"/>
<line x1="149.4" y1="618.4" x2="149.4" y2="542.5" stroke="#70e870" stroke-width="1.1" />
<circle cx="149.5" cy="541.8" r="1.1" fill="#29e629"/>
<path d="M185,618.4 L185,544.1 Q185.2,541.6 186.3,541.6 Q187.4,541.6 187.6,544.1 L187.6,618.4" fill="none" stroke="#a6f0a0" stroke-width="1"/>
<ellipse cx="186.3" cy="542.8" rx="1.1" ry="1.5" fill="#29e629"/>
<path d="M226.6,618.4 L226.6,542.9 Q226.8,540.4 229,540.4 Q231.2,540.4 231.4,542.9 L231.4,618.4" fill="none" stroke="#a6f0a0" stroke-width="1"/>
<ellipse cx="229" cy="541.6" rx="1.8" ry="1.5" fill="#29e629"/>
<path d="M267.5,618.4 L267.5,543.1 Q267.7,540.6 269.6,540.6 Q271.5,540.6 271.7,543.1 L271.7,618.4" fill="none" stroke="#a6f0a0" stroke-width="1"/>
<ellipse cx="269.6" cy="541.8" rx="1.57" ry="1.5" fill="#29e629"/>
<path d="M308.1,618.4 L308.1,543.1 Q308.3,540.6 310.2,540.6 Q312.1,540.6 312.3,543.1 L312.3,618.4" fill="none" stroke="#a6f0a0" stroke-width="1"/>
<ellipse cx="310.2" cy="541.8" rx="1.57" ry="1.5" fill="#29e629"/>
<path d="M348.7,618.4 L348.7,543.1 Q348.9,540.6 350.8,540.6 Q352.7,540.6 352.9,543.1 L352.9,618.4" fill="none" stroke="#a6f0a0" stroke-width="1"/>
<ellipse cx="350.8" cy="541.8" rx="1.57" ry="1.5" fill="#29e629"/>
<path d="M389.9,618.4 L389.9,543.1 Q390.1,540.6 392,540.6 Q393.9,540.6 394.1,543.1 L394.1,618.4" fill="none" stroke="#a6f0a0" stroke-width="1"/>
<ellipse cx="392" cy="541.8" rx="1.58" ry="1.5" fill="#29e629"/>
<path d="M430.4,618.4 L430.4,543.1 Q430.6,540.6 432.5,540.6 Q434.4,540.6 434.6,543.1 L434.6,618.4" fill="none" stroke="#a6f0a0" stroke-width="1"/>
<ellipse cx="432.5" cy="541.8" rx="1.58" ry="1.5" fill="#29e629"/>
<line x1="58" y1="613.4" x2="58" y2="631" stroke="#111" stroke-width="1.2" stroke-dasharray="1.3 1.1"/>
<line x1="100" y1="613.4" x2="100" y2="631" stroke="#111" stroke-width="1.2" stroke-dasharray="1.3 1.1"/>
<line x1="64" y1="627.3" x2="94" y2="627.3" stroke="#000" stroke-width="1.5" />
<path d="M58.4,627.3 L65.4,623.66 L64.56,627.3 L65.4,630.94 Z" fill="#000"/>
<path d="M99.6,627.3 L92.6,630.94 L93.44,627.3 L92.6,623.66 Z" fill="#000"/>
<text x="76.3" y="638.4" font-size="10.5" font-weight="bold" fill="#000" >T</text>
<text x="367.4" y="535.8" font-size="14.5" font-weight="bold" fill="#ffc000" textLength="10" lengthAdjust="spacingAndGlyphs" >V</text>
<text x="377.4" y="535.8" font-size="10" font-weight="bold" fill="#ffc000" textLength="15.6" lengthAdjust="spacingAndGlyphs" >SW1</text>
<text x="410" y="535.8" font-size="14.5" font-weight="bold" fill="#22ee22" textLength="10" lengthAdjust="spacingAndGlyphs" >V</text>
<text x="420" y="535.8" font-size="10" font-weight="bold" fill="#22ee22" textLength="15.5" lengthAdjust="spacingAndGlyphs" >SW2</text>
<text x="381.2" y="640.4" font-size="10.5" font-weight="bold" fill="#000" textLength="12" lengthAdjust="spacingAndGlyphs" >5V</text>
<line x1="397" y1="625.45" x2="397" y2="645.25" stroke="#000" stroke-width="1.4" />
<path d="M397,620.3 L400.35,626.74 L397,625.97 L393.65,626.74 Z" fill="#000"/>
<path d="M397,650.4 L393.65,643.96 L397,644.73 L400.35,643.96 Z" fill="#000"/>
<line x1="402.15" y1="651" x2="431.65" y2="651" stroke="#000" stroke-width="1.4" />
<path d="M397,651 L403.44,647.65 L402.67,651 L403.44,654.35 Z" fill="#000"/>
<path d="M436.8,651 L430.36,654.35 L431.13,651 L430.36,647.65 Z" fill="#000"/>
<text x="408" y="646" font-size="10.5" font-weight="bold" fill="#000" textLength="17" lengthAdjust="spacingAndGlyphs" >1μs</text>
<text x="25.4" y="466.5" font-size="6.5" fill="#ff1090">T</text>
<path d="M27.1,465 L30.6,467.5 L27.1,468.5 Z" fill="#ff1090"/>
<text x="23" y="621.2" font-size="7.5" font-weight="normal" fill="#8ad83a" >2</text>
<path d="M27.6,616.9 L30.6,618.4 L27.6,619.9 Z" fill="#ffc000"/>
<text x="23" y="647" font-size="7.5" font-weight="normal" fill="#ff1090" >4</text>
<path d="M26.6,645 L30.6,648 L26.6,648.5 Z" fill="#ff1090"/>
<line x1="512.2" y1="397" x2="512.2" y2="650.6" stroke="#d3d3d3" stroke-width="1" />
<line x1="554.4" y1="397" x2="554.4" y2="650.6" stroke="#d3d3d3" stroke-width="1" />
<line x1="596.6" y1="397" x2="596.6" y2="650.6" stroke="#d3d3d3" stroke-width="1" />
<line x1="638.8" y1="397" x2="638.8" y2="650.6" stroke="#d3d3d3" stroke-width="1" />
<line x1="681" y1="397" x2="681" y2="650.6" stroke="#d3d3d3" stroke-width="1" />
<line x1="723.2" y1="397" x2="723.2" y2="650.6" stroke="#d3d3d3" stroke-width="1" />
<line x1="765.4" y1="397" x2="765.4" y2="650.6" stroke="#d3d3d3" stroke-width="1" />
<line x1="807.6" y1="397" x2="807.6" y2="650.6" stroke="#d3d3d3" stroke-width="1" />
<line x1="849.8" y1="397" x2="849.8" y2="650.6" stroke="#d3d3d3" stroke-width="1" />
<line x1="470" y1="428.7" x2="892" y2="428.7" stroke="#d3d3d3" stroke-width="1" />
<line x1="470" y1="460.4" x2="892" y2="460.4" stroke="#d3d3d3" stroke-width="1" />
<line x1="470" y1="492.1" x2="892" y2="492.1" stroke="#d3d3d3" stroke-width="1" />
<line x1="470" y1="523.8" x2="892" y2="523.8" stroke="#d3d3d3" stroke-width="1" />
<line x1="470" y1="555.5" x2="892" y2="555.5" stroke="#d3d3d3" stroke-width="1" />
<line x1="470" y1="587.2" x2="892" y2="587.2" stroke="#d3d3d3" stroke-width="1" />
<line x1="470" y1="618.9" x2="892" y2="618.9" stroke="#d3d3d3" stroke-width="1" />
<line x1="679.5" y1="397" x2="682.5" y2="397" stroke="#c4c4c4" stroke-width="0.8" />
<line x1="679.5" y1="403.34" x2="682.5" y2="403.34" stroke="#c4c4c4" stroke-width="0.8" />
<line x1="679.5" y1="409.68" x2="682.5" y2="409.68" stroke="#c4c4c4" stroke-width="0.8" />
<line x1="679.5" y1="416.02" x2="682.5" y2="416.02" stroke="#c4c4c4" stroke-width="0.8" />
<line x1="679.5" y1="422.36" x2="682.5" y2="422.36" stroke="#c4c4c4" stroke-width="0.8" />
<line x1="679.5" y1="428.7" x2="682.5" y2="428.7" stroke="#c4c4c4" stroke-width="0.8" />
<line x1="679.5" y1="435.04" x2="682.5" y2="435.04" stroke="#c4c4c4" stroke-width="0.8" />
<line x1="679.5" y1="441.38" x2="682.5" y2="441.38" stroke="#c4c4c4" stroke-width="0.8" />
<line x1="679.5" y1="447.72" x2="682.5" y2="447.72" stroke="#c4c4c4" stroke-width="0.8" />
<line x1="679.5" y1="454.06" x2="682.5" y2="454.06" stroke="#c4c4c4" stroke-width="0.8" />
<line x1="679.5" y1="460.4" x2="682.5" y2="460.4" stroke="#c4c4c4" stroke-width="0.8" />
<line x1="679.5" y1="466.74" x2="682.5" y2="466.74" stroke="#c4c4c4" stroke-width="0.8" />
<line x1="679.5" y1="473.08" x2="682.5" y2="473.08" stroke="#c4c4c4" stroke-width="0.8" />
<line x1="679.5" y1="479.42" x2="682.5" y2="479.42" stroke="#c4c4c4" stroke-width="0.8" />
<line x1="679.5" y1="485.76" x2="682.5" y2="485.76" stroke="#c4c4c4" stroke-width="0.8" />
<line x1="679.5" y1="492.1" x2="682.5" y2="492.1" stroke="#c4c4c4" stroke-width="0.8" />
<line x1="679.5" y1="498.44" x2="682.5" y2="498.44" stroke="#c4c4c4" stroke-width="0.8" />
<line x1="679.5" y1="504.78" x2="682.5" y2="504.78" stroke="#c4c4c4" stroke-width="0.8" />
<line x1="679.5" y1="511.12" x2="682.5" y2="511.12" stroke="#c4c4c4" stroke-width="0.8" />
<line x1="679.5" y1="517.46" x2="682.5" y2="517.46" stroke="#c4c4c4" stroke-width="0.8" />
<line x1="679.5" y1="523.8" x2="682.5" y2="523.8" stroke="#c4c4c4" stroke-width="0.8" />
<line x1="679.5" y1="530.14" x2="682.5" y2="530.14" stroke="#c4c4c4" stroke-width="0.8" />
<line x1="679.5" y1="536.48" x2="682.5" y2="536.48" stroke="#c4c4c4" stroke-width="0.8" />
<line x1="679.5" y1="542.82" x2="682.5" y2="542.82" stroke="#c4c4c4" stroke-width="0.8" />
<line x1="679.5" y1="549.16" x2="682.5" y2="549.16" stroke="#c4c4c4" stroke-width="0.8" />
<line x1="679.5" y1="555.5" x2="682.5" y2="555.5" stroke="#c4c4c4" stroke-width="0.8" />
<line x1="679.5" y1="561.84" x2="682.5" y2="561.84" stroke="#c4c4c4" stroke-width="0.8" />
<line x1="679.5" y1="568.18" x2="682.5" y2="568.18" stroke="#c4c4c4" stroke-width="0.8" />
<line x1="679.5" y1="574.52" x2="682.5" y2="574.52" stroke="#c4c4c4" stroke-width="0.8" />
<line x1="679.5" y1="580.86" x2="682.5" y2="580.86" stroke="#c4c4c4" stroke-width="0.8" />
<line x1="679.5" y1="587.2" x2="682.5" y2="587.2" stroke="#c4c4c4" stroke-width="0.8" />
<line x1="679.5" y1="593.54" x2="682.5" y2="593.54" stroke="#c4c4c4" stroke-width="0.8" />
<line x1="679.5" y1="599.88" x2="682.5" y2="599.88" stroke="#c4c4c4" stroke-width="0.8" />
<line x1="679.5" y1="606.22" x2="682.5" y2="606.22" stroke="#c4c4c4" stroke-width="0.8" />
<line x1="679.5" y1="612.56" x2="682.5" y2="612.56" stroke="#c4c4c4" stroke-width="0.8" />
<line x1="679.5" y1="618.9" x2="682.5" y2="618.9" stroke="#c4c4c4" stroke-width="0.8" />
<line x1="679.5" y1="625.24" x2="682.5" y2="625.24" stroke="#c4c4c4" stroke-width="0.8" />
<line x1="679.5" y1="631.58" x2="682.5" y2="631.58" stroke="#c4c4c4" stroke-width="0.8" />
<line x1="679.5" y1="637.92" x2="682.5" y2="637.92" stroke="#c4c4c4" stroke-width="0.8" />
<line x1="679.5" y1="644.26" x2="682.5" y2="644.26" stroke="#c4c4c4" stroke-width="0.8" />
<line x1="470" y1="522.3" x2="470" y2="525.3" stroke="#c4c4c4" stroke-width="0.8" />
<line x1="478.44" y1="522.3" x2="478.44" y2="525.3" stroke="#c4c4c4" stroke-width="0.8" />
<line x1="486.88" y1="522.3" x2="486.88" y2="525.3" stroke="#c4c4c4" stroke-width="0.8" />
<line x1="495.32" y1="522.3" x2="495.32" y2="525.3" stroke="#c4c4c4" stroke-width="0.8" />
<line x1="503.76" y1="522.3" x2="503.76" y2="525.3" stroke="#c4c4c4" stroke-width="0.8" />
<line x1="512.2" y1="522.3" x2="512.2" y2="525.3" stroke="#c4c4c4" stroke-width="0.8" />
<line x1="520.64" y1="522.3" x2="520.64" y2="525.3" stroke="#c4c4c4" stroke-width="0.8" />
<line x1="529.08" y1="522.3" x2="529.08" y2="525.3" stroke="#c4c4c4" stroke-width="0.8" />
<line x1="537.52" y1="522.3" x2="537.52" y2="525.3" stroke="#c4c4c4" stroke-width="0.8" />
<line x1="545.96" y1="522.3" x2="545.96" y2="525.3" stroke="#c4c4c4" stroke-width="0.8" />
<line x1="554.4" y1="522.3" x2="554.4" y2="525.3" stroke="#c4c4c4" stroke-width="0.8" />
<line x1="562.84" y1="522.3" x2="562.84" y2="525.3" stroke="#c4c4c4" stroke-width="0.8" />
<line x1="571.28" y1="522.3" x2="571.28" y2="525.3" stroke="#c4c4c4" stroke-width="0.8" />
<line x1="579.72" y1="522.3" x2="579.72" y2="525.3" stroke="#c4c4c4" stroke-width="0.8" />
<line x1="588.16" y1="522.3" x2="588.16" y2="525.3" stroke="#c4c4c4" stroke-width="0.8" />
<line x1="596.6" y1="522.3" x2="596.6" y2="525.3" stroke="#c4c4c4" stroke-width="0.8" />
<line x1="605.04" y1="522.3" x2="605.04" y2="525.3" stroke="#c4c4c4" stroke-width="0.8" />
<line x1="613.48" y1="522.3" x2="613.48" y2="525.3" stroke="#c4c4c4" stroke-width="0.8" />
<line x1="621.92" y1="522.3" x2="621.92" y2="525.3" stroke="#c4c4c4" stroke-width="0.8" />
<line x1="630.36" y1="522.3" x2="630.36" y2="525.3" stroke="#c4c4c4" stroke-width="0.8" />
<line x1="638.8" y1="522.3" x2="638.8" y2="525.3" stroke="#c4c4c4" stroke-width="0.8" />
<line x1="647.24" y1="522.3" x2="647.24" y2="525.3" stroke="#c4c4c4" stroke-width="0.8" />
<line x1="655.68" y1="522.3" x2="655.68" y2="525.3" stroke="#c4c4c4" stroke-width="0.8" />
<line x1="664.12" y1="522.3" x2="664.12" y2="525.3" stroke="#c4c4c4" stroke-width="0.8" />
<line x1="672.56" y1="522.3" x2="672.56" y2="525.3" stroke="#c4c4c4" stroke-width="0.8" />
<line x1="681" y1="522.3" x2="681" y2="525.3" stroke="#c4c4c4" stroke-width="0.8" />
<line x1="689.44" y1="522.3" x2="689.44" y2="525.3" stroke="#c4c4c4" stroke-width="0.8" />
<line x1="697.88" y1="522.3" x2="697.88" y2="525.3" stroke="#c4c4c4" stroke-width="0.8" />
<line x1="706.32" y1="522.3" x2="706.32" y2="525.3" stroke="#c4c4c4" stroke-width="0.8" />
<line x1="714.76" y1="522.3" x2="714.76" y2="525.3" stroke="#c4c4c4" stroke-width="0.8" />
<line x1="723.2" y1="522.3" x2="723.2" y2="525.3" stroke="#c4c4c4" stroke-width="0.8" />
<line x1="731.64" y1="522.3" x2="731.64" y2="525.3" stroke="#c4c4c4" stroke-width="0.8" />
<line x1="740.08" y1="522.3" x2="740.08" y2="525.3" stroke="#c4c4c4" stroke-width="0.8" />
<line x1="748.52" y1="522.3" x2="748.52" y2="525.3" stroke="#c4c4c4" stroke-width="0.8" />
<line x1="756.96" y1="522.3" x2="756.96" y2="525.3" stroke="#c4c4c4" stroke-width="0.8" />
<line x1="765.4" y1="522.3" x2="765.4" y2="525.3" stroke="#c4c4c4" stroke-width="0.8" />
<line x1="773.84" y1="522.3" x2="773.84" y2="525.3" stroke="#c4c4c4" stroke-width="0.8" />
<line x1="782.28" y1="522.3" x2="782.28" y2="525.3" stroke="#c4c4c4" stroke-width="0.8" />
<line x1="790.72" y1="522.3" x2="790.72" y2="525.3" stroke="#c4c4c4" stroke-width="0.8" />
<line x1="799.16" y1="522.3" x2="799.16" y2="525.3" stroke="#c4c4c4" stroke-width="0.8" />
<line x1="807.6" y1="522.3" x2="807.6" y2="525.3" stroke="#c4c4c4" stroke-width="0.8" />
<line x1="816.04" y1="522.3" x2="816.04" y2="525.3" stroke="#c4c4c4" stroke-width="0.8" />
<line x1="824.48" y1="522.3" x2="824.48" y2="525.3" stroke="#c4c4c4" stroke-width="0.8" />
<line x1="832.92" y1="522.3" x2="832.92" y2="525.3" stroke="#c4c4c4" stroke-width="0.8" />
<line x1="841.36" y1="522.3" x2="841.36" y2="525.3" stroke="#c4c4c4" stroke-width="0.8" />
<line x1="849.8" y1="522.3" x2="849.8" y2="525.3" stroke="#c4c4c4" stroke-width="0.8" />
<line x1="858.24" y1="522.3" x2="858.24" y2="525.3" stroke="#c4c4c4" stroke-width="0.8" />
<line x1="866.68" y1="522.3" x2="866.68" y2="525.3" stroke="#c4c4c4" stroke-width="0.8" />
<line x1="875.12" y1="522.3" x2="875.12" y2="525.3" stroke="#c4c4c4" stroke-width="0.8" />
<line x1="883.56" y1="522.3" x2="883.56" y2="525.3" stroke="#c4c4c4" stroke-width="0.8" />
<line x1="470" y1="397" x2="470" y2="650.6" stroke="#969696" stroke-width="1.3" />
<line x1="462" y1="650.6" x2="892" y2="650.6" stroke="#969696" stroke-width="1.5" />
<line x1="892" y1="397" x2="892" y2="650.6" stroke="#8f9bb5" stroke-width="1.3" />
<clipPath id="hc5"><rect x="462" y="385" width="430" height="12"/></clipPath>
<g clip-path="url(#hc5)">
<rect x="462" y="385" width="430" height="12" fill="#7f9fcf" />
<line x1="462" y1="385.4" x2="892" y2="385.4" stroke="#9db4da" stroke-width="0.8" />
<line x1="462" y1="396.6" x2="892" y2="396.6" stroke="#6a86b3" stroke-width="0.8" />
<rect x="462.5" y="385.8" width="6.2" height="10.4" fill="#0a0a0a" rx="1.2" stroke="#505050" stroke-width="0.5"/>
<text x="465.6" y="394" font-size="8.88" font-weight="bold" fill="#c8c400" text-anchor="middle" >1</text>
<text x="478" y="393.76" font-size="10.32" font-weight="normal" fill="#2b3342" textLength="28.4" lengthAdjust="spacingAndGlyphs" stroke="#2b3342" stroke-width="0.35">5.00V/</text>
<rect x="516.4" y="385.8" width="6.2" height="10.4" fill="#0a0a0a" rx="1.2" stroke="#505050" stroke-width="0.5"/>
<text x="519.5" y="394" font-size="8.88" font-weight="bold" fill="#18c818" text-anchor="middle" >2</text>
<text x="530.2" y="393.76" font-size="10.32" font-weight="normal" fill="#2b3342" textLength="27.6" lengthAdjust="spacingAndGlyphs" stroke="#2b3342" stroke-width="0.35">5.00V/</text>
<rect x="569" y="385.8" width="6" height="10.4" fill="#0a1540" rx="1.2" stroke="#505050" stroke-width="0.5"/>
<text x="572" y="394" font-size="8.88" font-weight="bold" fill="#2850e0" text-anchor="middle" >3</text>
<rect x="621.7" y="385.8" width="6.2" height="10.4" fill="#0a0a0a" rx="1.2" stroke="#505050" stroke-width="0.5"/>
<text x="624.8" y="394" font-size="8.88" font-weight="bold" fill="#e0108a" text-anchor="middle" >4</text>
<text x="637.5" y="393.76" font-size="10.32" font-weight="normal" fill="#2b3342" textLength="16.57" lengthAdjust="spacingAndGlyphs" stroke="#2b3342" stroke-width="0.35">100</text>
<text x="656.56" y="389.84" font-size="4.33" font-weight="bold" fill="#2b3342" text-anchor="middle" >m</text>
<text x="656.56" y="393.76" font-size="6.4" font-weight="bold" fill="#2b3342" text-anchor="middle" >V</text>
<text x="659.04" y="393.76" font-size="10.32" font-weight="normal" fill="#2b3342" textLength="2.76" lengthAdjust="spacingAndGlyphs" stroke="#2b3342" stroke-width="0.35">/</text>
<circle cx="682" cy="391" r="1.89" fill="none" stroke="#2a3550" stroke-width="0.9"/>
<line x1="684.73" y1="391" x2="686.2" y2="391" stroke="#2a3550" stroke-width="0.8" />
<line x1="683.93" y1="392.93" x2="684.97" y2="393.97" stroke="#2a3550" stroke-width="0.8" />
<line x1="682" y1="393.73" x2="682" y2="395.2" stroke="#2a3550" stroke-width="0.8" />
<line x1="680.07" y1="392.93" x2="679.03" y2="393.97" stroke="#2a3550" stroke-width="0.8" />
<line x1="679.27" y1="391" x2="677.8" y2="391" stroke="#2a3550" stroke-width="0.8" />
<line x1="680.07" y1="389.07" x2="679.03" y2="388.03" stroke="#2a3550" stroke-width="0.8" />
<line x1="682" y1="388.27" x2="682" y2="386.8" stroke="#2a3550" stroke-width="0.8" />
<line x1="683.93" y1="389.07" x2="684.97" y2="388.03" stroke="#2a3550" stroke-width="0.8" />
<text x="698.3" y="393.76" font-size="10.32" font-weight="normal" fill="#2b3342" textLength="21.5" lengthAdjust="spacingAndGlyphs" stroke="#2b3342" stroke-width="0.35">2.790</text>
<text x="721.95" y="389.84" font-size="4.33" font-weight="bold" fill="#2b3342" text-anchor="middle" >μ</text>
<text x="721.95" y="393.76" font-size="5.16" font-weight="bold" fill="#2b3342" text-anchor="middle" >s</text>
<text x="738.4" y="393.76" font-size="10.32" font-weight="normal" fill="#2b3342" textLength="22.96" lengthAdjust="spacingAndGlyphs" stroke="#2b3342" stroke-width="0.35">1.000</text>
<text x="763.66" y="389.84" font-size="4.33" font-weight="bold" fill="#2b3342" text-anchor="middle" >μ</text>
<text x="763.66" y="393.76" font-size="5.16" font-weight="bold" fill="#2b3342" text-anchor="middle" >s</text>
<text x="765.95" y="393.76" font-size="10.32" font-weight="normal" fill="#2b3342" textLength="2.55" lengthAdjust="spacingAndGlyphs" stroke="#2b3342" stroke-width="0.35">/</text>
<text x="786" y="393.76" font-size="10.32" font-weight="normal" fill="#2b3342" textLength="17.6" lengthAdjust="spacingAndGlyphs" stroke="#2b3342" stroke-width="0.35">Stop</text>
<text x="819.5" y="393.76" font-size="10.32" font-weight="normal" fill="#2b3342" textLength="3.8" lengthAdjust="spacingAndGlyphs" stroke="#2b3342" stroke-width="0.35">ŧ</text>
<rect x="835" y="385.8" width="9.4" height="10.4" fill="#0a0a0a" rx="1.2" stroke="#505050" stroke-width="0.5"/>
<text x="839.7" y="394" font-size="8.88" font-weight="bold" fill="#e0108a" text-anchor="middle" >4</text>
<text x="859.5" y="393.76" font-size="10.32" font-weight="normal" fill="#2b3342" textLength="15.39" lengthAdjust="spacingAndGlyphs" stroke="#2b3342" stroke-width="0.35">991</text>
<text x="877.19" y="389.84" font-size="4.33" font-weight="bold" fill="#2b3342" text-anchor="middle" >m</text>
<text x="877.19" y="393.76" font-size="6.4" font-weight="bold" fill="#2b3342" text-anchor="middle" >V</text>
</g>
<path d="M560.8,397.3 L565.8,397.3 L563.3,400.3 Z" fill="#ff8c1a"/>
<path d="M679,397.3 L684,397.3 L681.5,400.3 Z" fill="#ff8c1a"/>
<path d="M470,460.1 L470.5,460 L471,459.69 L471.5,459.74 L472,460.56 L472.5,459.84 L473,460.58 L473.5,460.46 L474,459.54 L474.5,460.41 L475,459.42 L475.5,460.25 L476,460.36 L476.5,460.23 L477,460.05 L477.5,460.37 L478,459.58 L478.5,460.04 L479,459.71 L479.5,459.87 L480,459.62 L480.5,460.24 L481,460.07 L481.5,460.32 L482,460.14 L482.5,460.1 L483,460.49 L483.5,460.36 L484,460.06 L484.5,459.77 L485,460.49 L485.5,459.82 L486,459.5 L486.5,459.78 L487,460.22 L487.5,460.49 L488,460.15 L488.5,460.17 L489,460.5 L489.5,460.31 L490,459.91 L490.5,459.93 L491,460.28 L491.5,459.75 L492,459.5 L492.5,460.11 L493,460.34 L493.5,459.66 L494,460.19 L494.5,460.44 L495,459.52 L495.5,459.53 L496,459.95 L496.5,459.76 L497,460.5 L497.5,460.56 L498,459.89 L498.5,460.31 L499,460.12 L499.5,459.57 L500,460.52 L500.5,459.57 L501,459.45 L501.5,459.9 L502,459.38 L502.5,459.93 L503,459.85 L503.5,460.5 L504,459.85 L504.5,460.37 L505,460.28 L505.5,460.05 L506,459.63 L506.5,459.71 L507,459.94 L507.5,459.82 L508,460.12 L508.5,459.95 L509,459.73 L509.5,460.07 L510,460.54 L510.5,459.58 L511,459.74 L511.5,459.35 L512,459.45 L512.5,459.4 L513,459.84 L513.5,460.34 L514,460.17 L514.5,460.49 L515,460.34 L515.5,460.04 L516,460.03 L516.5,459.35 L517,459.79 L517.5,459.64 L518,460.07 L518.5,459.41 L519,459.98 L519.5,459.78 L520,459.92 L520.5,459.81 L521,459.45 L521.5,460.2 L522,460.29 L522.5,460.04 L523,459.46 L523.5,460.04 L524,460.37 L524.5,460.51 L525,460.23 L525.5,459.38 L526,460.37 L526.5,460.12 L527,459.65 L527.5,460.42 L528,460.31 L528.5,460.39 L529,459.61 L529.5,460.01 L530,459.77 L530.5,459.67 L531,460.23 L531.5,460.05 L532,459.71 L532.5,459.96 L533,460.43 L533.5,459.99 L534,460.41 L534.5,459.99 L535,460.5 L535.5,459.34 L536,459.86 L536.5,459.97 L537,460.18 L537.5,460.47 L538,460.06 L538.5,459.88 L539,460.07 L539.5,459.95 L540,460.15 L540.5,460.44 L541,459.32 L541.5,459.69 L542,460.36 L542.5,459.38 L543,460.25 L543.5,459.34 L544,460.08 L544.5,460.26 L545,459.59 L545.5,459.76 L546,459.57 L546.5,460.15 L547,459.94 L547.5,460.03 L548,459.69 L548.5,460.01 L549,460.45 L549.5,460.24 L550,460.44 L550.5,459.6 L551,459.92 L551.5,459.76 L552,459.72 L552.5,460.26 L553,459.51 L553.5,459.97 L554,460.23 L554.5,460.42 L555,459.32 L555.5,459.64 L556,460.45 L556.5,462.11 L557,462.61 L557.5,464.93 L558,465.7 L558.5,466.77 L559,467.99 L559.5,467.68 L560,468.69 L560.5,469.14 L561,469.74 L561.5,470.54 L562,471.58 L562.5,471.98 L563,471.95 L563.5,473.26 L564,473.41 L564.5,473.49 L565,474.84 L565.5,475.39 L566,475.19 L566.5,476.58 L567,476.91 L567.5,476.65 L568,476.77 L568.5,478.14 L569,478.35 L569.5,477.64 L570,478.52 L570.5,478.51 L571,478.27 L571.5,478.38 L572,478.39 L572.5,477.4 L573,477.78 L573.5,477.64 L574,476.65 L574.5,476.83 L575,476.57 L575.5,476.52 L576,475.9 L576.5,475.25 L577,474.89 L577.5,474.89 L578,474.04 L578.5,474.53 L579,474.18 L579.5,473.02 L580,473.19 L580.5,472.79 L581,471.76 L581.5,472.2 L582,471.86 L582.5,470.99 L583,470.44 L583.5,470.36 L584,470.66 L584.5,470.01 L585,470.15 L585.5,469.08 L586,468.72 L586.5,468.72 L587,469.06 L587.5,467.89 L588,467.46 L588.5,467.93 L589,466.77 L589.5,467.06 L590,465.95 L590.5,465.72 L591,465.79 L591.5,465.63 L592,464.68 L592.5,464.37 L593,463.52 L593.5,463.54 L594,463.08 L594.5,463.4 L595,462.98 L595.5,462.73 L596,462.11 L596.5,462.01 L597,461.03 L597.5,461.06 L598,460.68 L598.5,460.42 L599,460.74 L599.5,459.9 L600,459.82 L600.5,459.57 L601,460.07 L601.5,459.61 L602,459.23 L602.5,458.93 L603,459.41 L603.5,459.26 L604,458.5 L604.5,458.48 L605,458.68 L605.5,457.79 L606,457.64 L606.5,457.3 L607,457.63 L607.5,457.8 L608,456.92 L608.5,457.1 L609,457.61 L609.5,456.84 L610,456.57 L610.5,456.95 L611,456.85 L611.5,456.07 L612,455.61 L612.5,456.07 L613,456.04 L613.5,456.11 L614,455.66 L614.5,455.1 L615,455.22 L615.5,454.82 L616,454.9 L616.5,454.83 L617,455.28 L617.5,455.19 L618,455.16 L618.5,454.57 L619,455.12 L619.5,454.09 L620,454.99 L620.5,454.62 L621,454.86 L621.5,454.28 L622,454.94 L622.5,453.75 L623,454.7 L623.5,454.64 L624,454.08 L624.5,454.59 L625,453.83 L625.5,454.45 L626,454.09 L626.5,454 L627,453.72 L627.5,454.43 L628,454.33 L628.5,453.55 L629,454.6 L629.5,453.68 L630,453.86 L630.5,453.9 L631,454.09 L631.5,454.47 L632,454.54 L632.5,454.17 L633,453.86 L633.5,453.56 L634,453.54 L634.5,454.1 L635,454.2 L635.5,454.07 L636,454.75 L636.5,454.1 L637,454.06 L637.5,454.18 L638,453.93 L638.5,454.9 L639,454.53 L639.5,454.52 L640,454.43 L640.5,454.27 L641,454.4 L641.5,454.68 L642,454.71 L642.5,455.45 L643,455.06 L643.5,454.75 L644,454.7 L644.5,454.96 L645,455.33 L645.5,456.01 L646,456.29 L646.5,455.66 L647,456.47 L647.5,456.22 L648,456.49 L648.5,456.64 L649,456.19 L649.5,456.36 L650,457.21 L650.5,457.36 L651,457.1 L651.5,457.84 L652,457.81 L652.5,457.28 L653,457.08 L653.5,457.74 L654,457.94 L654.5,457.49 L655,457.35 L655.5,457.95 L656,457.48 L656.5,458.39 L657,458.32 L657.5,457.98 L658,458.24 L658.5,458.06 L659,458.07 L659.5,458.14 L660,458.98 L660.5,458.62 L661,459.02 L661.5,458.66 L662,459.3 L662.5,459.14 L663,459.3 L663.5,459.07 L664,459.37 L664.5,459.02 L665,460.06 L665.5,459.79 L666,459.72 L666.5,459.94 L667,459.39 L667.5,459.77 L668,459.74 L668.5,460.57 L669,459.66 L669.5,460.27 L670,460.87 L670.5,460.85 L671,460.86 L671.5,460.44 L672,460.43 L672.5,461.07 L673,460.66 L673.5,461.23 L674,460.85 L674.5,461.4 L675,461.23 L675.5,461.57 L676,461.81 L676.5,461.12 L677,461.88 L677.5,460.74 L678,461.81 L678.5,460.82 L679,461.46 L679.5,461.3 L680,461.79 L680.5,461.27 L681,461.16 L681.5,461.88 L682,461.62 L682.5,461.89 L683,461.6 L683.5,461.08 L684,461.98 L684.5,461.34 L685,461.67 L685.5,461.12 L686,461.45 L686.5,461.96 L687,462.1 L687.5,461.97 L688,461.76 L688.5,462.12 L689,462.07 L689.5,461.53 L690,461.94 L690.5,462.04 L691,462.21 L691.5,461.59 L692,461.75 L692.5,461.8 L693,461.52 L693.5,461.84 L694,462.32 L694.5,462.15 L695,461.68 L695.5,462.37 L696,461.65 L696.5,462.42 L697,461.72 L697.5,461.67 L698,461.87 L698.5,462.2 L699,461.92 L699.5,462.67 L700,462.75 L700.5,461.98 L701,462.56 L701.5,462.51 L702,462.36 L702.5,462.01 L703,462.85 L703.5,462.88 L704,461.76 L704.5,462.15 L705,462.15 L705.5,462.02 L706,462.31 L706.5,462.89 L707,461.85 L707.5,462.84 L708,462.22 L708.5,461.88 L709,462.96 L709.5,462.22 L710,462.16 L710.5,462.06 L711,462.37 L711.5,462.09 L712,462.18 L712.5,462.28 L713,462.68 L713.5,462.54 L714,462.38 L714.5,462.66 L715,462.98 L715.5,462.93 L716,462.49 L716.5,463.19 L717,463.06 L717.5,462.8 L718,462.71 L718.5,462.55 L719,462.33 L719.5,463.25 L720,462.93 L720.5,462.33 L721,463.34 L721.5,463.31 L722,462.31 L722.5,463.12 L723,462.59 L723.5,462.96 L724,463.34 L724.5,462.77 L725,462.97 L725.5,463.19 L726,462.64 L726.5,463.18 L727,462.95 L727.5,463.64 L728,462.71 L728.5,463.35 L729,462.57 L729.5,462.87 L730,462.7 L730.5,462.75 L731,463.23 L731.5,462.82 L732,463.59 L732.5,462.77 L733,463.42 L733.5,463.72 L734,462.86 L734.5,462.99 L735,463.66 L735.5,463.33 L736,463.9 L736.5,463.21 L737,463.3 L737.5,463.99 L738,463.27 L738.5,464.03 L739,463.96 L739.5,463.15 L740,463.58 L740.5,464.07 L741,463.1 L741.5,464 L742,463.93 L742.5,463.91 L743,463.75 L743.5,463.17 L744,464.21 L744.5,463.2 L745,464.03 L745.5,463.98 L746,463.51 L746.5,463.96 L747,463.65 L747.5,464.07 L748,463.23 L748.5,464.32 L749,463.67 L749.5,464.19 L750,463.8 L750.5,464.22 L751,463.62 L751.5,463.93 L752,463.31 L752.5,463.88 L753,463.4 L753.5,464.34 L754,464.14 L754.5,463.84 L755,464.51 L755.5,464.48 L756,464.5 L756.5,463.46 L757,464.22 L757.5,464.25 L758,464.11 L758.5,463.41 L759,464.5 L759.5,463.92 L760,464.11 L760.5,464.38 L761,463.74 L761.5,463.45 L762,464.52 L762.5,463.74 L763,463.47 L763.5,463.59 L764,464.62 L764.5,464.32 L765,463.68 L765.5,463.61 L766,464.52 L766.5,464.24 L767,464.14 L767.5,463.61 L768,463.95 L768.5,464.59 L769,463.46 L769.5,463.96 L770,463.53 L770.5,464.66 L771,463.59 L771.5,464.62 L772,464.48 L772.5,464.36 L773,463.53 L773.5,464.32 L774,464.08 L774.5,464.08 L775,463.67 L775.5,464.11 L776,464.46 L776.5,463.66 L777,464.55 L777.5,464.01 L778,463.83 L778.5,463.8 L779,464.06 L779.5,464.29 L780,464.2 L780.5,464.59 L781,464.14 L781.5,464.14 L782,464.71 L782.5,463.79 L783,463.55 L783.5,463.93 L784,463.91 L784.5,463.69 L785,464.04 L785.5,463.59 L786,464.65 L786.5,464.13 L787,464.61 L787.5,464.39 L788,464.43 L788.5,464.47 L789,463.92 L789.5,464.44 L790,463.81 L790.5,464.23 L791,464.29 L791.5,464.5 L792,463.78 L792.5,463.99 L793,464.57 L793.5,464.55 L794,464.76 L794.5,463.73 L795,463.84 L795.5,463.72 L796,464.46 L796.5,464.49 L797,464.37 L797.5,464.53 L798,464.22 L798.5,464.28 L799,464.71 L799.5,464.38 L800,464.4 L800.5,464.32 L801,464.21 L801.5,464.52 L802,464.3 L802.5,463.77 L803,464.13 L803.5,464.13 L804,464.14 L804.5,464.3 L805,464.06 L805.5,464.1 L806,464.14 L806.5,464.08 L807,464.8 L807.5,463.75 L808,463.66 L808.5,464.51 L809,464.12 L809.5,464.18 L810,464.36 L810.5,464.09 L811,463.94 L811.5,463.67 L812,464.7 L812.5,464.78 L813,464 L813.5,464.22 L814,464.05 L814.5,463.73 L815,464.73 L815.5,464.67 L816,463.96 L816.5,463.97 L817,464.51 L817.5,464.63 L818,464.24 L818.5,464.14 L819,463.96 L819.5,464.64 L820,464.72 L820.5,464.71 L821,463.82 L821.5,464.4 L822,464.87 L822.5,464.55 L823,464.24 L823.5,463.86 L824,463.76 L824.5,464.57 L825,463.78 L825.5,464.67 L826,464.5 L826.5,464.27 L827,464.77 L827.5,464.82 L828,464.44 L828.5,463.83 L829,464.41 L829.5,464.21 L830,464.01 L830.5,464.83 L831,464.59 L831.5,463.86 L832,463.99 L832.5,464.13 L833,464.41 L833.5,464.11 L834,464.25 L834.5,464.7 L835,463.94 L835.5,464.59 L836,464.12 L836.5,464.86 L837,464.87 L837.5,464.13 L838,464.46 L838.5,463.87 L839,464.23 L839.5,464.49 L840,464.51 L840.5,464.15 L841,463.78 L841.5,463.89 L842,464.42 L842.5,463.95 L843,464.12 L843.5,464.49 L844,464.83 L844.5,464.37 L845,464.06 L845.5,464.46 L846,464.09 L846.5,464.7 L847,463.95 L847.5,464.08 L848,464.29 L848.5,464.85 L849,463.96 L849.5,464 L850,463.93 L850.5,464.03 L851,464.17 L851.5,464.25 L852,464.68 L852.5,464.26 L853,464.35 L853.5,464.25 L854,464.71 L854.5,464.86 L855,464.29 L855.5,464.89 L856,464.09 L856.5,464.96 L857,464.42 L857.5,464.61 L858,464.25 L858.5,464.12 L859,463.96 L859.5,464.86 L860,464.23 L860.5,464.64 L861,464.35 L861.5,464.43 L862,464.05 L862.5,464.02 L863,464.21 L863.5,464.62 L864,464.46 L864.5,463.81 L865,464.66 L865.5,464.33 L866,463.9 L866.5,464.13 L867,464.07 L867.5,464.81 L868,464.48 L868.5,464.21 L869,464.12 L869.5,464.17 L870,464.16 L870.5,464.24 L871,464.78 L871.5,464.78 L872,464.67 L872.5,464.9 L873,464.62 L873.5,463.97 L874,463.89 L874.5,464.04 L875,464.15 L875.5,464.48 L876,464.83 L876.5,464.55 L877,464.36 L877.5,464.14 L878,465.03 L878.5,464.76 L879,464.26 L879.5,463.91 L880,465.04 L880.5,464.17 L881,464.88 L881.5,464 L882,464.65 L882.5,464.29 L883,464.93 L883.5,464.23 L884,463.99 L884.5,464.11 L885,464.84 L885.5,465.05 L886,464.65 L886.5,464.7 L887,464.22 L887.5,464.21 L888,463.99 L888.5,465.07 L889,463.94 L889.5,464.63 L890,464.31 L890.5,464.12 L891,464.42 L891.5,465.02 L892,464.2" fill="none" stroke="#ff0582" stroke-width="2.4" stroke-linejoin="round" />
<text x="858.7" y="457.7" font-size="14.5" font-weight="bold" fill="#ff0582" textLength="10.1" lengthAdjust="spacingAndGlyphs" >V</text>
<text x="868.8" y="457.7" font-size="10" font-weight="bold" fill="#ff0582" textLength="15" lengthAdjust="spacingAndGlyphs" >OUT</text>
<text x="475.3" y="416.7" font-size="14.2" font-weight="bold" fill="#111" textLength="6.7" lengthAdjust="spacingAndGlyphs" >V</text>
<text x="482" y="417.7" font-size="9.8" font-weight="bold" fill="#111" textLength="8.4" lengthAdjust="spacingAndGlyphs" >IN</text>
<text x="490.4" y="416.7" font-size="14.2" font-weight="bold" fill="#111" textLength="46.8" lengthAdjust="spacingAndGlyphs" >=24V, V</text>
<text x="537.2" y="417.7" font-size="9.8" font-weight="bold" fill="#111" textLength="14.3" lengthAdjust="spacingAndGlyphs" >OUT</text>
<text x="551.5" y="416.7" font-size="14.2" font-weight="bold" fill="#111" textLength="36" lengthAdjust="spacingAndGlyphs" >=1V, I</text>
<text x="587.5" y="417.7" font-size="9.8" font-weight="bold" fill="#111" textLength="16.3" lengthAdjust="spacingAndGlyphs" >OUT</text>
<text x="603.8" y="416.7" font-size="14.2" font-weight="bold" fill="#111" textLength="63.4" lengthAdjust="spacingAndGlyphs" >=0.1A-3.1A</text>
<line x1="555.3" y1="449" x2="555.3" y2="470" stroke="#111" stroke-width="1.2" stroke-dasharray="1.3 1.1"/>
<line x1="592.3" y1="449" x2="592.3" y2="470" stroke="#111" stroke-width="1.2" stroke-dasharray="1.3 1.1"/>
<line x1="560.98" y1="454.7" x2="586.62" y2="454.7" stroke="#000" stroke-width="1.4" />
<path d="M555.6,454.7 L562.32,451.21 L561.51,454.7 L562.32,458.19 Z" fill="#000"/>
<path d="M592,454.7 L585.28,458.19 L586.09,454.7 L585.28,451.21 Z" fill="#000"/>
<text x="559" y="447.7" font-size="12" font-weight="bold" fill="#000" textLength="27.6" lengthAdjust="spacingAndGlyphs" >0.9μs</text>
<text x="506.4" y="474.8" font-size="13" font-weight="bold" fill="#000" textLength="28.8" lengthAdjust="spacingAndGlyphs" >56mV</text>
<line x1="548.2" y1="465.93" x2="548.2" y2="473.07" stroke="#000" stroke-width="1.4" />
<path d="M548.2,461 L551.4,467.16 L548.2,466.42 L545,467.16 Z" fill="#000"/>
<path d="M548.2,478 L545,471.84 L548.2,472.58 L551.4,471.84 Z" fill="#000"/>
<line x1="542.7" y1="478.4" x2="577.8" y2="478.4" stroke="#111" stroke-width="1.2" stroke-dasharray="1.3 1.1"/>
<text x="534.3" y="501.9" font-size="14.2" font-weight="bold" fill="#111" textLength="67.5" lengthAdjust="spacingAndGlyphs" >Dual-phase</text>
<text x="515.3" y="519.1" font-size="14.2" font-weight="bold" fill="#111" textLength="105.8" lengthAdjust="spacingAndGlyphs" >charging together</text>
<line x1="569.3" y1="524.2" x2="569.3" y2="537.4" stroke="#000" stroke-width="1.4" />
<path d="M569.3,543 L565.66,536 L569.3,536.84 L572.94,536 Z" fill="#000"/>
<path d="M470,618.96 L470.7,619.43 L471.4,619.46 L472.1,619.31 L472.8,618.98 L473.5,619.67 L474.2,618.91 L474.9,618.97 L475.6,619.04 L476.3,619.31 L477,619.28 L477.7,619.35 L478.4,619.53 L479.1,619.69 L479.8,619.27 L480.5,618.84 L481.2,619.63 L481.9,618.82 L482.6,619.12 L483.3,618.94 L484,619.4 L484.7,619.58 L485.4,618.93 L486.1,619.09 L486.8,619.65 L487.5,619.49 L488.2,618.91 L488.9,619.49 L489.6,619.59 L490.3,619.21 L491,618.96 L491.7,619.46 L492.4,619.12 L493.1,618.93 L493.8,618.96 L494.5,619.2 L495.2,618.93 L495.9,619.19 L496.6,619.35 L497.3,619.35 L498,619.2 L498.7,619.6 L499.4,618.89 L500.1,619.13 L500.8,619.73 L501.5,619.66 L502.2,619.72 L502.9,619.57 L503.6,619.34 L504.3,619.59 L505,619.37 L505.7,618.92 L506.4,619.06 L507.1,618.9 L507.8,619.68 L508.5,619.12 L509.2,619.21 L509.9,619.34 L510.6,618.9 L511.3,619.51 L512,619.6 L512.7,619.6 L513.4,619.68 L514.1,619.12 L514.8,618.95 L515.5,619.56 L516.2,619.49 L516.9,619.17 L517.6,619.14 L518.3,618.95 L519,619.63 L519.7,619.26 L520.4,619.61 L521.1,619.14 L521.8,619.12 L522.5,619.31 L523.2,619.55 L523.9,619.68 L524.6,619.15 L525.3,619.49 L526,619.2 L526.7,619.66 L527.4,619.56 L528.1,619.36 L528.8,619.16 L529.5,619.07 L530.2,619.68 L530.9,619.6 L531.6,619.11 L532.3,618.88 L533,619 L533.7,619.76 L534.4,618.84 L535.1,619.61 L535.8,619.33 L536.5,619.35 L537.2,619.34 L537.9,619.21 L538.6,619.36 L539.3,618.89 L540,619.72 L540.7,618.9 L541.4,618.94 L542.1,619.47 L542.8,619.44 L543.5,619.61 L544.2,619.49 L544.9,619.73 L545.6,618.85 L546.3,618.81 L547,619.04 L547.7,619.58 L548.4,618.95 L549.1,619.33 L549.8,619.57 L550.5,618.96 L551.2,619.33 L551.9,619.7 L552.6,619.55 L553.3,619.2 L554,619.28 L554.7,619.08 L555.4,619.76 L556.1,619.58 L556.8,619.48 L557.5,619.1 L558.2,619.53 L558.9,619.29 L559.6,619.6" fill="none" stroke="#ffc000" stroke-width="3" stroke-linejoin="round" />
<path d="M579.3,619.16 L580,619.68 L580.7,619.48 L581.4,619.25 L582.1,619.36 L582.8,619.6 L583.5,619.33 L584.2,619.76 L584.9,618.81 L585.6,619.7 L586.3,619.51 L587,619.29 L587.7,619.65 L588.4,618.95 L589.1,619.14 L589.8,619.51 L590.5,619.62 L591.2,619.17 L591.9,619.79 L592.6,619.45 L593.3,618.85 L594,618.92 L594.7,618.88 L595.4,619.37 L596.1,619.12 L596.8,619.06 L597.5,619.25 L598.2,618.88 L598.9,619.71 L599.6,619.64 L600.3,619.36 L601,619.24 L601.7,619.11 L602.4,619.4 L603.1,619.15 L603.8,619.78 L604.5,619.76 L605.2,619.53 L605.9,619.63 L606.6,618.88 L607.3,618.92 L608,619.15 L608.7,618.93 L609.4,619.22 L610.1,619.79 L610.8,619.63 L611.5,619.76 L612.2,619.02 L612.9,619.02 L613.6,618.82 L614.3,619.07 L615,618.86 L615.7,619.33 L616.4,619.1 L617.1,619.47 L617.8,619.36 L618.5,619.4 L619.2,619.1 L619.9,619.53 L620.6,619.49 L621.3,619.51 L622,619.27 L622.7,619.26 L623.4,619.09 L624.1,618.84 L624.8,619.27 L625.5,619.42 L626.2,618.99 L626.9,619.66 L627.6,619.68 L628.3,619.65 L629,619.62 L629.7,619.29 L630.4,618.98 L631.1,619.07 L631.8,619.54 L632.5,619.78 L633.2,618.91 L633.9,618.81 L634.6,619.15 L635.3,619.15 L636,619.4 L636.7,618.91 L637.4,619.64 L638.1,619.14 L638.8,619.71 L639.5,619.13 L640.2,619.11 L640.9,618.98 L641.6,619.77 L642.3,619.39 L643,619.63 L643.7,618.86 L644.4,619.34 L645.1,619.53 L645.8,619.78 L646.5,619.74 L647.2,618.9 L647.9,619.17 L648.6,619.8 L649.3,619.33 L650,619.76 L650.7,619.05 L651.4,618.83 L652.1,619.75 L652.8,619.06 L653.5,619.36 L654.2,619.16 L654.9,619.38 L655.6,619.73 L656.3,619.75 L657,619.68 L657.7,619.06 L658.4,619.62 L659.1,618.82 L659.8,619.22 L660.5,619.74 L661.2,619.05 L661.9,619.17 L662.6,619.38 L663.3,619.04 L664,619.51 L664.7,619.45 L665.4,618.9 L666.1,619.72 L666.8,618.87 L667.5,619.5 L668.2,619.15 L668.9,618.94 L669.6,618.88 L670.3,619.8 L671,619.6 L671.7,619.26 L672.4,619.59 L673.1,619.77 L673.8,619.73 L674.5,619.33 L675.2,619.07 L675.9,619.32 L676.6,619.78 L677.3,619.53 L678,619.47 L678.7,619.64 L679.4,619.21 L680.1,619.36 L680.8,619.65 L681.5,619 L682.2,619.66 L682.9,618.82 L683.6,619.34 L684.3,619.37 L685,618.95 L685.7,619.72 L686.4,619.24 L687.1,618.99 L687.8,619.21 L688.5,619.39 L689.2,619.23 L689.9,618.8 L690.6,618.89 L691.3,619.51 L692,618.93 L692.7,619.06 L693.4,619.61 L694.1,619.66 L694.8,619.68 L695.5,618.97 L696.2,618.81 L696.9,619.55 L697.6,619.4 L698.3,619.16 L699,618.82 L699.7,619.23 L700.4,619.04 L701.1,619.39 L701.8,619.78 L702.5,619.01 L703.2,618.88 L703.9,619.49 L704.6,618.91 L705.3,619.02 L706,619.24 L706.7,619.79 L707.4,619.12 L708.1,619.12 L708.8,619.28 L709.5,618.96 L710.2,619.2 L710.9,619.5 L711.6,619.12 L712.3,619.6 L713,618.98 L713.7,618.9 L714.4,619.43 L715.1,619.25 L715.8,619.72 L716.5,618.91 L717.2,619.55 L717.9,619.47 L718.6,619.17 L719.3,618.93 L720,619.41 L720.7,619.56 L721.4,619.27 L722.1,619.27 L722.8,619.49 L723.5,619.41 L724.2,619.22 L724.9,618.99 L725.6,619.26 L726.3,619.35 L727,619.7 L727.7,619.79 L728.4,619.36 L729.1,619.13 L729.8,619.02 L730.5,619.43 L731.2,619.54 L731.9,619.05 L732.6,619.49 L733.3,619.8 L734,619.19 L734.7,619.74 L735.4,619.24 L736.1,619.45 L736.8,619.67 L737.5,619 L738.2,619.15 L738.9,619.78 L739.6,618.87 L740.3,619.11 L741,619.28 L741.7,619.54 L742.4,619.43 L743.1,619.73 L743.8,619.47 L744.5,618.8 L745.2,618.87 L745.9,618.84 L746.6,619.23 L747.3,618.83 L748,619.33 L748.7,619.43 L749.4,619 L750.1,619.66 L750.8,619.21 L751.5,619.76 L752.2,619.16 L752.9,619.42 L753.6,619.34 L754.3,619.06 L755,619.58 L755.7,618.8 L756.4,619.05 L757.1,619.12 L757.8,619.68 L758.5,619.3 L759.2,618.84 L759.9,619.1 L760.6,619.41 L761.3,619.61 L762,618.91 L762.7,619.58 L763.4,619.19 L764.1,619.32 L764.8,619.22 L765.5,619.24 L766.2,619.79 L766.9,619.72 L767.6,619.72 L768.3,619.54 L769,619.5 L769.7,618.94 L770.4,618.84 L771.1,619.63 L771.8,619.47 L772.5,619.43 L773.2,619.11 L773.9,619.07 L774.6,619.72 L775.3,619.33 L776,618.82 L776.7,619.14 L777.4,619.15 L778.1,618.87 L778.8,619.78 L779.5,619.7 L780.2,619.61 L780.9,618.8 L781.6,619.22 L782.3,618.91 L783,619.53 L783.7,619.61 L784.4,619.59 L785.1,619.59 L785.8,618.92 L786.5,618.81 L787.2,618.89 L787.9,619.64 L788.6,619.63 L789.3,619.32 L790,619.03 L790.7,619.66 L791.4,618.92 L792.1,619.12 L792.8,618.8 L793.5,619.78 L794.2,619.22 L794.9,619.57 L795.6,619.6 L796.3,619.38 L797,619.79 L797.7,619.57 L798.4,619.73 L799.1,619.76 L799.8,618.88 L800.5,619.55 L801.2,619.03 L801.9,619.12 L802.6,619.14 L803.3,619.79 L804,618.86 L804.7,619.23 L805.4,618.93 L806.1,619.8 L806.8,619.3 L807.5,619.5 L808.2,619.32 L808.9,619.57 L809.6,619.14 L810.3,619.21 L811,619.54 L811.7,619.5 L812.4,619.69 L813.1,619.11 L813.8,619.65 L814.5,619.54 L815.2,619.37 L815.9,619.21 L816.6,619.37 L817.3,618.88 L818,618.9 L818.7,619.11 L819.4,618.92 L820.1,618.85 L820.8,619.52 L821.5,619.53 L822.2,619.42 L822.9,619.01 L823.6,619.52 L824.3,619.63 L825,619.42 L825.7,619.03 L826.4,619.36 L827.1,619.19 L827.8,619.07 L828.5,618.95 L829.2,619.66 L829.9,619.43 L830.6,619.73 L831.3,618.97 L832,619.06 L832.7,619.31 L833.4,618.86 L834.1,619.1 L834.8,619.34 L835.5,619.28 L836.2,619.71 L836.9,619.38 L837.6,619.44 L838.3,619.39 L839,619.59 L839.7,619.17 L840.4,618.8 L841.1,619.78 L841.8,619.59 L842.5,618.93 L843.2,618.91 L843.9,619.02 L844.6,619.46 L845.3,618.93 L846,618.82 L846.7,619.29 L847.4,618.81 L848.1,619.06 L848.8,619.18 L849.5,619.01 L850.2,618.8 L850.9,619.06 L851.6,619.04 L852.3,619.12 L853,619.21 L853.7,619.16 L854.4,619.12 L855.1,618.82 L855.8,619.64 L856.5,619.54 L857.2,619.29 L857.9,618.8 L858.6,619.03 L859.3,619.7 L860,619.26 L860.7,619.01 L861.4,619.62 L862.1,619.69 L862.8,618.92 L863.5,619.3 L864.2,619.36 L864.9,618.92 L865.6,619.12 L866.3,619.42 L867,619.47 L867.7,619.43 L868.4,619.42 L869.1,619.18 L869.8,618.87 L870.5,618.82 L871.2,619.64 L871.9,619.66 L872.6,619.71 L873.3,618.88 L874,619.57 L874.7,618.97 L875.4,619.15 L876.1,619 L876.8,619.66 L877.5,619.62 L878.2,619.63 L878.9,619.18 L879.6,619.74 L880.3,619.06 L881,619.37 L881.7,619.47 L882.4,619.03 L883.1,619.18 L883.8,618.9 L884.5,619.6 L885.2,618.98 L885.9,618.94 L886.6,619.08 L887.3,619.44 L888,619.44 L888.7,619.32 L889.4,619.65 L890.1,619.55 L890.8,619.01 L891.5,619.33" fill="none" stroke="#ffc000" stroke-width="3" stroke-linejoin="round" />
<line x1="470" y1="618.89" x2="471.01" y2="618.62" stroke="#29e629" stroke-width="1.1" />
<line x1="477.02" y1="618.85" x2="478.65" y2="619.35" stroke="#29e629" stroke-width="1.1" />
<line x1="479.1" y1="619.41" x2="480.74" y2="618.63" stroke="#29e629" stroke-width="1.1" />
<line x1="483.42" y1="619.44" x2="484.96" y2="619.04" stroke="#29e629" stroke-width="1.1" />
<line x1="513.66" y1="619.41" x2="515.08" y2="618.87" stroke="#29e629" stroke-width="1.1" />
<line x1="518.01" y1="619.64" x2="519.49" y2="619.18" stroke="#29e629" stroke-width="1.1" />
<line x1="531.5" y1="619.57" x2="532.99" y2="620" stroke="#29e629" stroke-width="1.1" />
<line x1="540.51" y1="618.67" x2="541.99" y2="618.61" stroke="#29e629" stroke-width="1.1" />
<line x1="552.06" y1="619.4" x2="554.22" y2="618.95" stroke="#29e629" stroke-width="1.1" />
<line x1="555.12" y1="619.69" x2="556.61" y2="619.77" stroke="#29e629" stroke-width="1.1" />
<line x1="557.13" y1="618.83" x2="558.45" y2="619.14" stroke="#29e629" stroke-width="1.1" />
<line x1="595" y1="620.03" x2="596.54" y2="619.43" stroke="#29e629" stroke-width="1.1" />
<line x1="606.27" y1="619.93" x2="607.39" y2="618.93" stroke="#29e629" stroke-width="1.1" />
<line x1="612.08" y1="619.77" x2="612.99" y2="619.16" stroke="#29e629" stroke-width="1.1" />
<line x1="620.81" y1="619.92" x2="622.11" y2="619.8" stroke="#29e629" stroke-width="1.1" />
<line x1="627.66" y1="618.74" x2="629.15" y2="618.58" stroke="#29e629" stroke-width="1.1" />
<line x1="639.73" y1="618.92" x2="641.82" y2="619.66" stroke="#29e629" stroke-width="1.1" />
<line x1="651.62" y1="619.89" x2="652.65" y2="618.88" stroke="#29e629" stroke-width="1.1" />
<line x1="661.19" y1="619.65" x2="662.75" y2="618.99" stroke="#29e629" stroke-width="1.1" />
<line x1="676.02" y1="619.69" x2="678.08" y2="618.72" stroke="#29e629" stroke-width="1.1" />
<line x1="692.63" y1="620.08" x2="693.44" y2="619.48" stroke="#29e629" stroke-width="1.1" />
<line x1="703.54" y1="618.64" x2="704.44" y2="619.12" stroke="#29e629" stroke-width="1.1" />
<line x1="712.6" y1="619.33" x2="714.16" y2="618.66" stroke="#29e629" stroke-width="1.1" />
<line x1="723.4" y1="618.67" x2="724.27" y2="618.92" stroke="#29e629" stroke-width="1.1" />
<line x1="746.22" y1="618.71" x2="747.87" y2="619.5" stroke="#29e629" stroke-width="1.1" />
<line x1="750.79" y1="618.52" x2="752.95" y2="618.92" stroke="#29e629" stroke-width="1.1" />
<line x1="764.43" y1="619.47" x2="766.09" y2="619.73" stroke="#29e629" stroke-width="1.1" />
<line x1="767.98" y1="618.86" x2="769.7" y2="618.63" stroke="#29e629" stroke-width="1.1" />
<line x1="770.3" y1="619.77" x2="771.87" y2="619.07" stroke="#29e629" stroke-width="1.1" />
<line x1="800.39" y1="619.31" x2="801.63" y2="619.46" stroke="#29e629" stroke-width="1.1" />
<line x1="808.74" y1="618.91" x2="810.25" y2="619.35" stroke="#29e629" stroke-width="1.1" />
<line x1="825.12" y1="619.51" x2="825.95" y2="619.87" stroke="#29e629" stroke-width="1.1" />
<line x1="829.16" y1="619.21" x2="830.91" y2="618.76" stroke="#29e629" stroke-width="1.1" />
<line x1="838.6" y1="618.91" x2="839.45" y2="619.52" stroke="#29e629" stroke-width="1.1" />
<line x1="872.22" y1="619.62" x2="873.85" y2="619.54" stroke="#29e629" stroke-width="1.1" />
<line x1="875.72" y1="619.22" x2="877.69" y2="619.46" stroke="#29e629" stroke-width="1.1" />
<line x1="877.85" y1="619.95" x2="879.41" y2="618.76" stroke="#29e629" stroke-width="1.1" />
<line x1="890.99" y1="619.24" x2="892.92" y2="619.05" stroke="#29e629" stroke-width="1.1" />
<path d="M478.9,619.3 L478.9,544.1 Q479.1,541.6 480.9,541.6 Q482.7,541.6 482.9,544.1 L482.9,619.3" fill="none" stroke="#ffdc8a" stroke-width="1"/>
<ellipse cx="480.9" cy="542.8" rx="1.5" ry="1.5" fill="#ffc000"/>
<path d="M521.8,619.3 L521.8,544.1 Q522,541.6 523.8,541.6 Q525.6,541.6 525.8,544.1 L525.8,619.3" fill="none" stroke="#ffdc8a" stroke-width="1"/>
<ellipse cx="523.8" cy="542.8" rx="1.5" ry="1.5" fill="#ffc000"/>
<path d="M605.1,619.3 L605.1,548.1 Q605.3,545.6 607.1,545.6 Q608.9,545.6 609.1,548.1 L609.1,619.3" fill="none" stroke="#ffdc8a" stroke-width="1"/>
<ellipse cx="607.1" cy="546.8" rx="1.5" ry="1.5" fill="#ffc000"/>
<path d="M648.8,619.3 L648.8,548.1 Q649,545.6 650.8,545.6 Q652.6,545.6 652.8,548.1 L652.8,619.3" fill="none" stroke="#ffdc8a" stroke-width="1"/>
<ellipse cx="650.8" cy="546.8" rx="1.5" ry="1.5" fill="#ffc000"/>
<path d="M691.3,619.3 L691.3,547.6 Q691.5,545.1 693.3,545.1 Q695.1,545.1 695.3,547.6 L695.3,619.3" fill="none" stroke="#ffdc8a" stroke-width="1"/>
<ellipse cx="693.3" cy="546.3" rx="1.5" ry="1.5" fill="#ffc000"/>
<path d="M733.2,619.3 L733.2,547.6 Q733.4,545.1 735.2,545.1 Q737,545.1 737.2,547.6 L737.2,619.3" fill="none" stroke="#ffdc8a" stroke-width="1"/>
<ellipse cx="735.2" cy="546.3" rx="1.5" ry="1.5" fill="#ffc000"/>
<path d="M775.3,619.3 L775.3,547.6 Q775.5,545.1 777.3,545.1 Q779.1,545.1 779.3,547.6 L779.3,619.3" fill="none" stroke="#ffdc8a" stroke-width="1"/>
<ellipse cx="777.3" cy="546.3" rx="1.5" ry="1.5" fill="#ffc000"/>
<path d="M817.9,619.3 L817.9,547.6 Q818.1,545.1 819.9,545.1 Q821.7,545.1 821.9,547.6 L821.9,619.3" fill="none" stroke="#ffdc8a" stroke-width="1"/>
<ellipse cx="819.9" cy="546.3" rx="1.5" ry="1.5" fill="#ffc000"/>
<path d="M860,619.3 L860,547.6 Q860.2,545.1 862,545.1 Q863.8,545.1 864,547.6 L864,619.3" fill="none" stroke="#ffdc8a" stroke-width="1"/>
<ellipse cx="862" cy="546.3" rx="1.5" ry="1.5" fill="#ffc000"/>
<path d="M500.1,619.3 L500.1,546.7 Q500.3,544.2 502.1,544.2 Q503.9,544.2 504.1,546.7 L504.1,619.3" fill="none" stroke="#a6f0a0" stroke-width="1"/>
<ellipse cx="502.1" cy="545.4" rx="1.5" ry="1.5" fill="#29e629"/>
<path d="M542.9,619.3 L542.9,546.7 Q543.1,544.2 544.9,544.2 Q546.7,544.2 546.9,546.7 L546.9,619.3" fill="none" stroke="#a6f0a0" stroke-width="1"/>
<ellipse cx="544.9" cy="545.4" rx="1.5" ry="1.5" fill="#29e629"/>
<path d="M584.7,619.3 L584.7,546.7 Q584.9,544.2 586.7,544.2 Q588.5,544.2 588.7,546.7 L588.7,619.3" fill="none" stroke="#a6f0a0" stroke-width="1"/>
<ellipse cx="586.7" cy="545.4" rx="1.5" ry="1.5" fill="#29e629"/>
<path d="M626.3,619.3 L626.3,546.7 Q626.5,544.2 628.3,544.2 Q630.1,544.2 630.3,546.7 L630.3,619.3" fill="none" stroke="#a6f0a0" stroke-width="1"/>
<ellipse cx="628.3" cy="545.4" rx="1.5" ry="1.5" fill="#29e629"/>
<path d="M669.9,619.3 L669.9,545.9 Q670.1,543.4 671.9,543.4 Q673.7,543.4 673.9,545.9 L673.9,619.3" fill="none" stroke="#a6f0a0" stroke-width="1"/>
<ellipse cx="671.9" cy="544.6" rx="1.5" ry="1.5" fill="#29e629"/>
<path d="M712.1,619.3 L712.1,546.4 Q712.3,543.9 714.1,543.9 Q715.9,543.9 716.1,546.4 L716.1,619.3" fill="none" stroke="#a6f0a0" stroke-width="1"/>
<ellipse cx="714.1" cy="545.1" rx="1.5" ry="1.5" fill="#29e629"/>
<path d="M754.5,619.3 L754.5,546.4 Q754.7,543.9 756.5,543.9 Q758.3,543.9 758.5,546.4 L758.5,619.3" fill="none" stroke="#a6f0a0" stroke-width="1"/>
<ellipse cx="756.5" cy="545.1" rx="1.5" ry="1.5" fill="#29e629"/>
<path d="M796.6,619.3 L796.6,546.4 Q796.8,543.9 798.6,543.9 Q800.4,543.9 800.6,546.4 L800.6,619.3" fill="none" stroke="#a6f0a0" stroke-width="1"/>
<ellipse cx="798.6" cy="545.1" rx="1.5" ry="1.5" fill="#29e629"/>
<path d="M839.2,619.3 L839.2,546.4 Q839.4,543.9 841.2,543.9 Q843,543.9 843.2,546.4 L843.2,619.3" fill="none" stroke="#a6f0a0" stroke-width="1"/>
<ellipse cx="841.2" cy="545.1" rx="1.5" ry="1.5" fill="#29e629"/>
<path d="M881.3,619.3 L881.3,546.4 Q881.5,543.9 883.3,543.9 Q885.1,543.9 885.3,546.4 L885.3,619.3" fill="none" stroke="#a6f0a0" stroke-width="1"/>
<ellipse cx="883.3" cy="545.1" rx="1.5" ry="1.5" fill="#29e629"/>
<line x1="560.3" y1="619.3" x2="560.3" y2="543" stroke="#ffd060" stroke-width="1.1" />
<line x1="576.7" y1="619.3" x2="576.7" y2="547.5" stroke="#ffd060" stroke-width="1.1" />
<path d="M560.5,542.4 L576.6,546.9" stroke="#ffc000" stroke-width="2.6" fill="none" stroke-linecap="round"/>
<path d="M560.8,546.9 L576.4,568" stroke="#29e629" stroke-width="2.2" fill="none" stroke-linecap="round"/>
<line x1="576.7" y1="568" x2="576.9" y2="619.3" stroke="#90ee90" stroke-width="1.1" />
<line x1="537.8" y1="611.7" x2="537.8" y2="629" stroke="#111" stroke-width="1.2" stroke-dasharray="1.3 1.1"/>
<line x1="578.8" y1="611.7" x2="578.8" y2="629" stroke="#111" stroke-width="1.2" stroke-dasharray="1.3 1.1"/>
<line x1="543.8" y1="625.4" x2="572.8" y2="625.4" stroke="#000" stroke-width="1.5" />
<path d="M538.2,625.4 L545.2,621.76 L544.36,625.4 L545.2,629.04 Z" fill="#000"/>
<path d="M578.4,625.4 L571.4,629.04 L572.24,625.4 L571.4,621.76 Z" fill="#000"/>
<text x="555.8" y="635.6" font-size="10.5" font-weight="bold" fill="#000" >T</text>
<text x="816.1" y="535.6" font-size="14.5" font-weight="bold" fill="#ffc000" textLength="10" lengthAdjust="spacingAndGlyphs" >V</text>
<text x="826.1" y="535.6" font-size="10" font-weight="bold" fill="#ffc000" textLength="15.1" lengthAdjust="spacingAndGlyphs" >SW1</text>
<text x="858.7" y="535.6" font-size="14.5" font-weight="bold" fill="#22ee22" textLength="10" lengthAdjust="spacingAndGlyphs" >V</text>
<text x="868.7" y="535.6" font-size="10" font-weight="bold" fill="#22ee22" textLength="16.3" lengthAdjust="spacingAndGlyphs" >SW2</text>
<text x="835" y="640.4" font-size="10.5" font-weight="bold" fill="#000" textLength="12" lengthAdjust="spacingAndGlyphs" >5V</text>
<line x1="850" y1="625.65" x2="850" y2="645.85" stroke="#000" stroke-width="1.4" />
<path d="M850,620.5 L853.35,626.94 L850,626.17 L846.65,626.94 Z" fill="#000"/>
<path d="M850,651 L846.65,644.56 L850,645.33 L853.35,644.56 Z" fill="#000"/>
<line x1="855.15" y1="651.1" x2="886.65" y2="651.1" stroke="#000" stroke-width="1.4" />
<path d="M850,651.1 L856.44,647.75 L855.67,651.1 L856.44,654.45 Z" fill="#000"/>
<path d="M891.8,651.1 L885.36,654.45 L886.13,651.1 L885.36,647.75 Z" fill="#000"/>
<text x="862.5" y="646.6" font-size="10.5" font-weight="bold" fill="#000" textLength="17" lengthAdjust="spacingAndGlyphs" >1μs</text>
<text x="464.8" y="462.5" font-size="6.5" fill="#ff1090">T</text>
<path d="M466.5,461 L470,463.5 L466.5,464.5 Z" fill="#ff1090"/>
<text x="462.4" y="622.1" font-size="7.5" font-weight="normal" fill="#8ad83a" >2</text>
<path d="M467,617.8 L470,619.3 L467,620.8 Z" fill="#ffc000"/>
<text x="462.4" y="647" font-size="7.5" font-weight="normal" fill="#ff1090" >4</text>
<path d="M466,645 L470,648 L466,648.5 Z" fill="#ff1090"/>
</svg>
</body></html>
